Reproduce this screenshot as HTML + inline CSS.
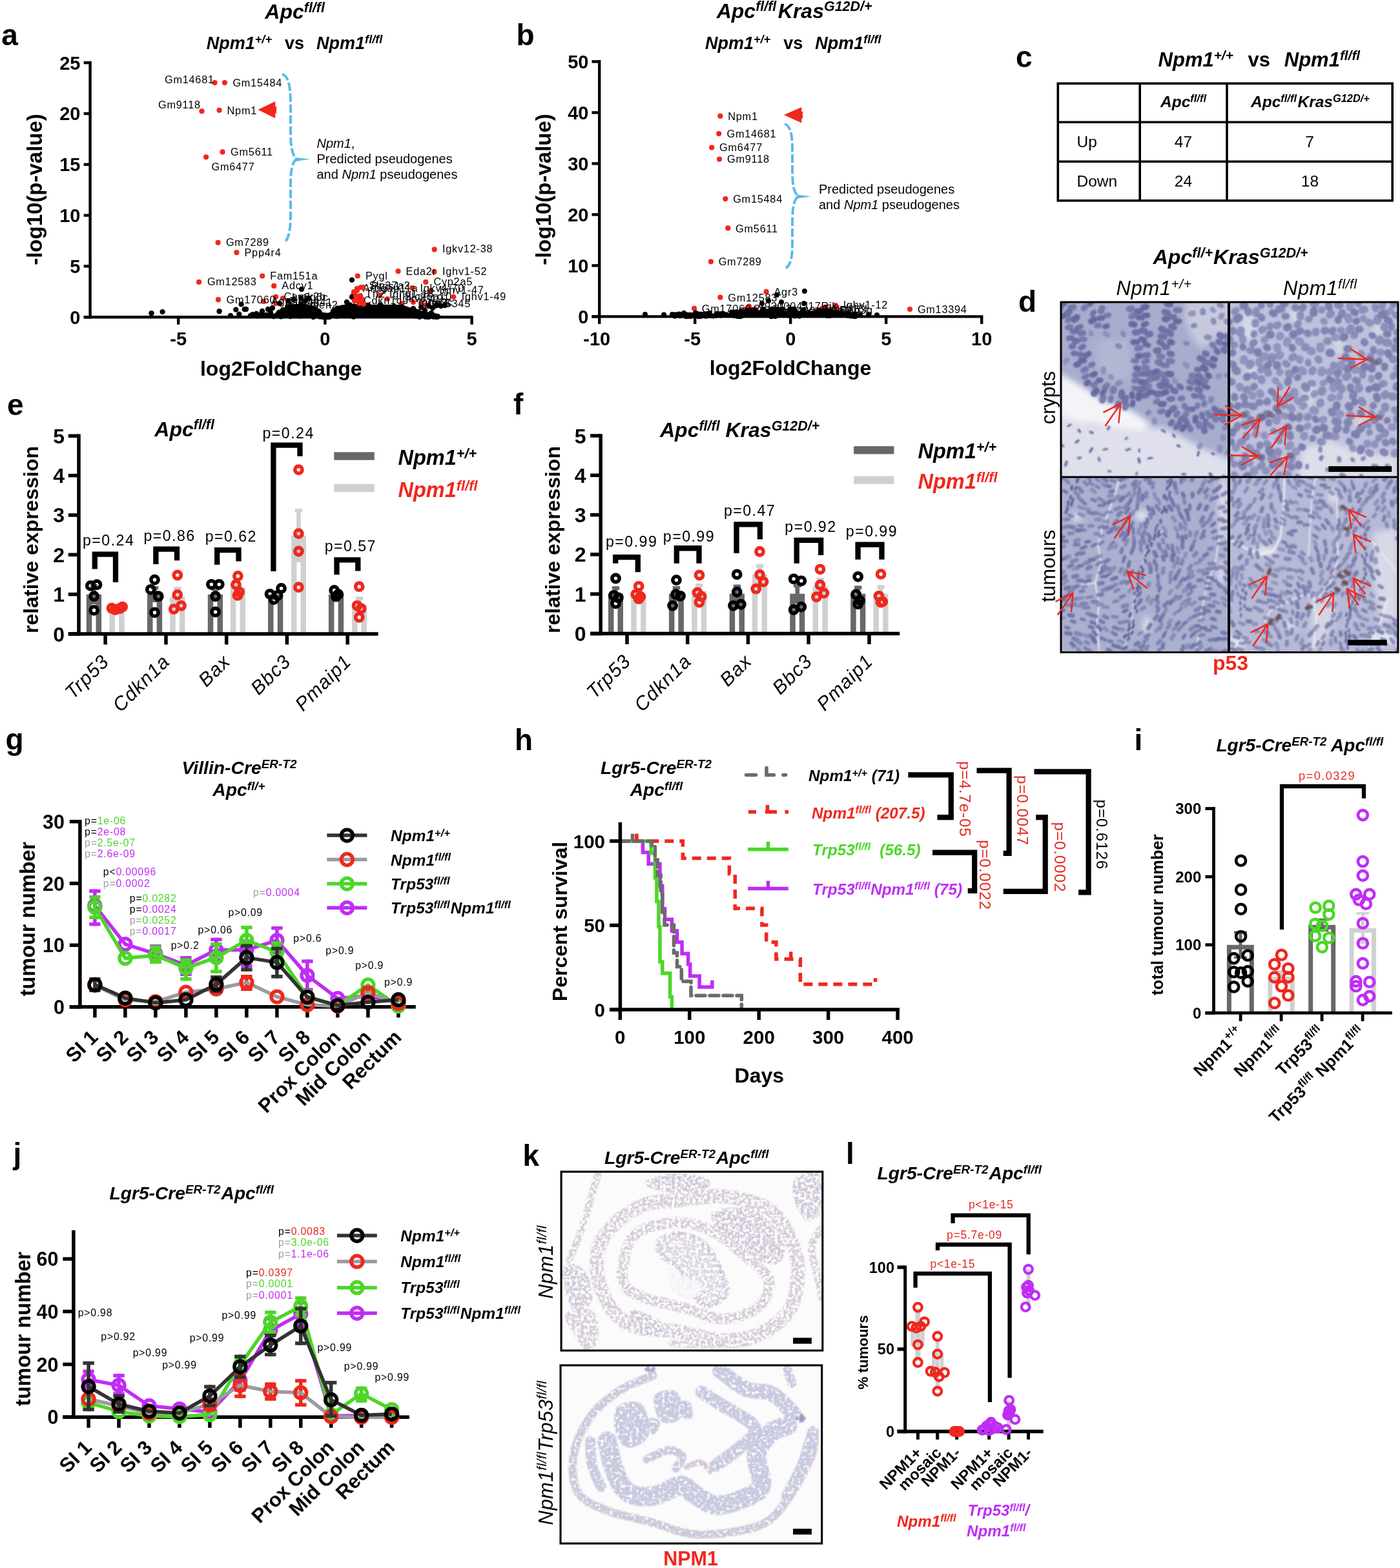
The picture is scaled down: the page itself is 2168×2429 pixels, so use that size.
<!DOCTYPE html>
<html lang="en"><head><meta charset="utf-8"><title>Figure</title>
<style>
html,body{margin:0;padding:0;background:#fff;}
body{width:2168px;height:2429px;overflow:hidden;}
svg{display:block;font-family:'Liberation Sans', sans-serif;}
</style></head><body>
<svg width="2168" height="2429" viewBox="0 0 2168 2429">
<rect width="2168" height="2429" fill="#fff"/>
<text x="2.3" y="70.3" font-size="46" font-weight="bold">a</text>
<text x="410.3" y="29" font-size="32" font-weight="bold" font-style="italic">Apc<tspan font-size="21.44" dy="-10.24">fl/fl</tspan></text>
<text x="319.8" y="75.6" font-size="27" font-weight="bold" font-style="italic">Npm1<tspan font-size="18.09" dy="-8.64">+/+</tspan><tspan font-style="normal" x="441.1" dy="8.64">vs</tspan><tspan x="490.1">Npm1</tspan><tspan font-size="18.09" dy="-8.64">fl/fl</tspan></text>
<line x1="139.6" y1="94.8" x2="139.6" y2="493.4" stroke="#000" stroke-width="4.4"/>
<line x1="129.7" y1="491.2" x2="732.5" y2="491.2" stroke="#000" stroke-width="4.4"/>
<line x1="129.7" y1="491.2" x2="139.6" y2="491.2" stroke="#000" stroke-width="4.4"/>
<text x="124.5" y="501.6" font-size="29" font-weight="bold" text-anchor="end">0</text>
<line x1="129.7" y1="412.4" x2="139.6" y2="412.4" stroke="#000" stroke-width="4.4"/>
<text x="124.5" y="422.8" font-size="29" font-weight="bold" text-anchor="end">5</text>
<line x1="129.7" y1="333.6" x2="139.6" y2="333.6" stroke="#000" stroke-width="4.4"/>
<text x="124.5" y="344" font-size="29" font-weight="bold" text-anchor="end">10</text>
<line x1="129.7" y1="254.8" x2="139.6" y2="254.8" stroke="#000" stroke-width="4.4"/>
<text x="124.5" y="265.2" font-size="29" font-weight="bold" text-anchor="end">15</text>
<line x1="129.7" y1="176" x2="139.6" y2="176" stroke="#000" stroke-width="4.4"/>
<text x="124.5" y="186.4" font-size="29" font-weight="bold" text-anchor="end">20</text>
<line x1="129.7" y1="97.2" x2="139.6" y2="97.2" stroke="#000" stroke-width="4.4"/>
<text x="124.5" y="107.6" font-size="29" font-weight="bold" text-anchor="end">25</text>
<line x1="276.2" y1="491.2" x2="276.2" y2="502.7" stroke="#000" stroke-width="4.4"/>
<text x="276.2" y="535.4" font-size="29" font-weight="bold" text-anchor="middle">-5</text>
<line x1="503.4" y1="491.2" x2="503.4" y2="502.7" stroke="#000" stroke-width="4.4"/>
<text x="503.4" y="535.4" font-size="29" font-weight="bold" text-anchor="middle">0</text>
<line x1="730.6" y1="491.2" x2="730.6" y2="502.7" stroke="#000" stroke-width="4.4"/>
<text x="730.6" y="535.4" font-size="29" font-weight="bold" text-anchor="middle">5</text>
<text x="435.3" y="581.8" font-size="32" font-weight="bold" text-anchor="middle">log2FoldChange</text>
<text x="65" y="293.5" font-size="33" font-weight="bold" text-anchor="middle" transform="rotate(-90 65 293.5)">-log10(p-value)</text>
<g fill="#f0271d">
<circle cx="332.5" cy="128.1" r="4.1" fill="#f0271d"/>
<circle cx="347.9" cy="128.1" r="4.1" fill="#f0271d"/>
<circle cx="312.5" cy="172.3" r="4.1" fill="#f0271d"/>
<circle cx="339.6" cy="170.8" r="4.1" fill="#f0271d"/>
<circle cx="344.6" cy="235.4" r="4.1" fill="#f0271d"/>
<circle cx="319.1" cy="243.3" r="4.1" fill="#f0271d"/>
<circle cx="337.6" cy="375.8" r="4.1" fill="#f0271d"/>
<circle cx="366.4" cy="391.2" r="4.1" fill="#f0271d"/>
<circle cx="308.1" cy="436.9" r="4.1" fill="#f0271d"/>
<circle cx="338" cy="464.2" r="4.1" fill="#f0271d"/>
<circle cx="406.2" cy="427.5" r="4.1" fill="#f0271d"/>
<circle cx="424.2" cy="442.9" r="4.1" fill="#f0271d"/>
<circle cx="427" cy="459.8" r="4.1" fill="#f0271d"/>
<circle cx="553.8" cy="427.5" r="4.1" fill="#f0271d"/>
<circle cx="616.5" cy="420.2" r="4.1" fill="#f0271d"/>
<circle cx="672.7" cy="386.4" r="4.1" fill="#f0271d"/>
<circle cx="672.5" cy="421.1" r="4.1" fill="#f0271d"/>
<circle cx="659.3" cy="436.9" r="4.1" fill="#f0271d"/>
<circle cx="667" cy="450.1" r="4.1" fill="#f0271d"/>
<circle cx="702.2" cy="459.8" r="4.1" fill="#f0271d"/>
<circle cx="638" cy="446" r="4.1" fill="#f0271d"/>
<circle cx="559" cy="445" r="4.1" fill="#f0271d"/>
<circle cx="553" cy="450" r="4.1" fill="#f0271d"/>
<circle cx="562" cy="445" r="4.1" fill="#f0271d"/>
<circle cx="588" cy="457" r="4.1" fill="#f0271d"/>
<circle cx="547" cy="457" r="4.1" fill="#f0271d"/>
<circle cx="408" cy="467" r="4.1" fill="#f0271d"/>
<circle cx="438" cy="462" r="4.1" fill="#f0271d"/>
<circle cx="446" cy="472" r="4.1" fill="#f0271d"/>
<circle cx="427" cy="470" r="4.1" fill="#f0271d"/>
<circle cx="470" cy="470" r="4.1" fill="#f0271d"/>
<circle cx="600" cy="463" r="4.1" fill="#f0271d"/>
<circle cx="622" cy="470" r="4.1" fill="#f0271d"/>
<circle cx="560" cy="465" r="4.1" fill="#f0271d"/>
<circle cx="652" cy="470" r="4.1" fill="#f0271d"/>
<circle cx="640" cy="468" r="4.1" fill="#f0271d"/>
<circle cx="660" cy="472" r="4.1" fill="#f0271d"/>
</g>
<g font-size="16.3" letter-spacing="0.75">
<text x="255" y="128.6">Gm14681</text>
<text x="360.4" y="133.6">Gm15484</text>
<text x="245" y="168.1">Gm9118</text>
<text x="351.6" y="176.5">Npm1</text>
<text x="357.1" y="240.7">Gm5611</text>
<text x="327.5" y="264.4">Gm6477</text>
<text x="349.9" y="381.3">Gm7289</text>
<text x="378.5" y="396.7">Ppp4r4</text>
<text x="320.9" y="442.4">Gm12583</text>
<text x="350.5" y="469.7">Gm17060</text>
<text x="418.2" y="432.5">Fam151a</text>
<text x="436.3" y="447.7">Adcy1</text>
<text x="439.6" y="465.3">Camk2b</text>
<text x="566" y="432.5">Pygl</text>
<text x="628.6" y="425.7">Eda2r</text>
<text x="685" y="391.4">Igkv12-38</text>
<text x="685" y="426.4">Ighv1-52</text>
<text x="671.4" y="441.8">Cyp2a5</text>
<text x="680.2" y="454.5">Ighv1-47</text>
<text x="714.7" y="464.8">Ighv1-49</text>
<text x="650.5" y="451.6">Igkv4-70</text>
<text x="571.5" y="447.5">Slc37a2</text>
<text x="562" y="452">Arhgap11a</text>
<text x="575" y="449">Ptgs1</text>
<text x="603" y="461">Ighv1-18</text>
<text x="566" y="461">Tff2</text>
<text x="420" y="472">Agr2</text>
<text x="452" y="466">Ly6g6c</text>
<text x="448" y="474">Gm4841</text>
<text x="446" y="476">Elovl3</text>
<text x="470" y="478">Lmen2</text>
<text x="618" y="468">Igkv8-19</text>
<text x="626" y="465">Slc26a10</text>
<text x="563" y="471">Cdkn1c</text>
<text x="664" y="475">Igs5</text>
<text x="648" y="474">Ighg2c</text>
<text x="662" y="476">Gm5345</text>
</g>
<g fill="#000">
<path d="M405 491.2 L415 487 L430 485 L441 476 L452 471 L474 471 L486 475 L496 483 L503 488 L510 484 L522 477 L534 471.5 L622 472 L637 477 L650 483 L663 487 L676 491.2Z" fill="#000"/>
<circle cx="438.08" cy="479.88" r="4.2" fill="#000"/>
<circle cx="485.28" cy="485.01" r="4.2" fill="#000"/>
<circle cx="465.16" cy="480.36" r="4.2" fill="#000"/>
<circle cx="476.87" cy="476.62" r="4.2" fill="#000"/>
<circle cx="435.04" cy="490.34" r="4.2" fill="#000"/>
<circle cx="490.68" cy="484.47" r="4.2" fill="#000"/>
<circle cx="485.17" cy="490.98" r="4.2" fill="#000"/>
<circle cx="461.4" cy="476.51" r="4.2" fill="#000"/>
<circle cx="445.16" cy="475.8" r="4.2" fill="#000"/>
<circle cx="495.61" cy="490.46" r="4.2" fill="#000"/>
<circle cx="429.91" cy="487" r="4.2" fill="#000"/>
<circle cx="498.44" cy="487.96" r="4.2" fill="#000"/>
<circle cx="444.24" cy="481.67" r="4.2" fill="#000"/>
<circle cx="430.18" cy="488.88" r="4.2" fill="#000"/>
<circle cx="460.84" cy="479.95" r="4.2" fill="#000"/>
<circle cx="445.48" cy="485.44" r="4.2" fill="#000"/>
<circle cx="444.41" cy="481.02" r="4.2" fill="#000"/>
<circle cx="449.73" cy="490.06" r="4.2" fill="#000"/>
<circle cx="490.82" cy="483.24" r="4.2" fill="#000"/>
<circle cx="476.17" cy="485.86" r="4.2" fill="#000"/>
<circle cx="502.44" cy="488.13" r="4.2" fill="#000"/>
<circle cx="437.07" cy="485.68" r="4.2" fill="#000"/>
<circle cx="482.11" cy="476.67" r="4.2" fill="#000"/>
<circle cx="498.23" cy="487.63" r="4.2" fill="#000"/>
<circle cx="490.25" cy="481.81" r="4.2" fill="#000"/>
<circle cx="450.75" cy="479.58" r="4.2" fill="#000"/>
<circle cx="494.19" cy="482.73" r="4.2" fill="#000"/>
<circle cx="465.9" cy="478.18" r="4.2" fill="#000"/>
<circle cx="430.59" cy="488.61" r="4.2" fill="#000"/>
<circle cx="487.81" cy="483.52" r="4.2" fill="#000"/>
<circle cx="440.98" cy="481.4" r="4.2" fill="#000"/>
<circle cx="480.73" cy="476.43" r="4.2" fill="#000"/>
<circle cx="456.1" cy="481.27" r="4.2" fill="#000"/>
<circle cx="466.13" cy="475.4" r="4.2" fill="#000"/>
<circle cx="467.07" cy="481.48" r="4.2" fill="#000"/>
<circle cx="464.73" cy="489.59" r="4.2" fill="#000"/>
<circle cx="431.26" cy="485.34" r="4.2" fill="#000"/>
<circle cx="501.74" cy="488.47" r="4.2" fill="#000"/>
<circle cx="457.52" cy="486.02" r="4.2" fill="#000"/>
<circle cx="465.67" cy="472.54" r="4.2" fill="#000"/>
<circle cx="485.79" cy="480.99" r="4.2" fill="#000"/>
<circle cx="492.52" cy="487.33" r="4.2" fill="#000"/>
<circle cx="466.53" cy="473.06" r="4.2" fill="#000"/>
<circle cx="471.33" cy="480.73" r="4.2" fill="#000"/>
<circle cx="448.2" cy="480.38" r="4.2" fill="#000"/>
<circle cx="499.78" cy="491.06" r="4.2" fill="#000"/>
<circle cx="486.77" cy="478.15" r="4.2" fill="#000"/>
<circle cx="494.46" cy="483.66" r="4.2" fill="#000"/>
<circle cx="488.69" cy="482.62" r="4.2" fill="#000"/>
<circle cx="470.1" cy="481.16" r="4.2" fill="#000"/>
<circle cx="432.21" cy="483.74" r="4.2" fill="#000"/>
<circle cx="470.75" cy="485.32" r="4.2" fill="#000"/>
<circle cx="465.85" cy="479.83" r="4.2" fill="#000"/>
<circle cx="454.76" cy="482.89" r="4.2" fill="#000"/>
<circle cx="468.39" cy="477.91" r="4.2" fill="#000"/>
<circle cx="473.93" cy="480.97" r="4.2" fill="#000"/>
<circle cx="430.1" cy="488.84" r="4.2" fill="#000"/>
<circle cx="441.29" cy="480.79" r="4.2" fill="#000"/>
<circle cx="492.58" cy="482.06" r="4.2" fill="#000"/>
<circle cx="487.78" cy="478.84" r="4.2" fill="#000"/>
<circle cx="548.19" cy="474.36" r="4.2" fill="#000"/>
<circle cx="622.14" cy="488.01" r="4.2" fill="#000"/>
<circle cx="505.95" cy="491.04" r="4.2" fill="#000"/>
<circle cx="636.74" cy="486.5" r="4.2" fill="#000"/>
<circle cx="522.38" cy="480.96" r="4.2" fill="#000"/>
<circle cx="563.96" cy="488.26" r="4.2" fill="#000"/>
<circle cx="531.25" cy="479.06" r="4.2" fill="#000"/>
<circle cx="532.76" cy="483.54" r="4.2" fill="#000"/>
<circle cx="628.95" cy="482.28" r="4.2" fill="#000"/>
<circle cx="559.99" cy="479.94" r="4.2" fill="#000"/>
<circle cx="507.18" cy="488.76" r="4.2" fill="#000"/>
<circle cx="577.5" cy="485.3" r="4.2" fill="#000"/>
<circle cx="522.25" cy="478.05" r="4.2" fill="#000"/>
<circle cx="593.29" cy="484.85" r="4.2" fill="#000"/>
<circle cx="610.2" cy="474.71" r="4.2" fill="#000"/>
<circle cx="506.68" cy="490.94" r="4.2" fill="#000"/>
<circle cx="528.92" cy="476.65" r="4.2" fill="#000"/>
<circle cx="531.36" cy="476.33" r="4.2" fill="#000"/>
<circle cx="623.04" cy="479.56" r="4.2" fill="#000"/>
<circle cx="542.05" cy="472.53" r="4.2" fill="#000"/>
<circle cx="644.21" cy="485.22" r="4.2" fill="#000"/>
<circle cx="542.51" cy="477.17" r="4.2" fill="#000"/>
<circle cx="572.9" cy="478.29" r="4.2" fill="#000"/>
<circle cx="559.86" cy="477.44" r="4.2" fill="#000"/>
<circle cx="513.4" cy="487.5" r="4.2" fill="#000"/>
<circle cx="674.32" cy="489.51" r="4.2" fill="#000"/>
<circle cx="557.23" cy="474.12" r="4.2" fill="#000"/>
<circle cx="557.93" cy="473.02" r="4.2" fill="#000"/>
<circle cx="634.66" cy="484.03" r="4.2" fill="#000"/>
<circle cx="547.67" cy="490.53" r="4.2" fill="#000"/>
<circle cx="658.53" cy="490.64" r="4.2" fill="#000"/>
<circle cx="648.04" cy="483.42" r="4.2" fill="#000"/>
<circle cx="603.94" cy="485.67" r="4.2" fill="#000"/>
<circle cx="656.6" cy="485.32" r="4.2" fill="#000"/>
<circle cx="627.61" cy="481.22" r="4.2" fill="#000"/>
<circle cx="569.9" cy="482.14" r="4.2" fill="#000"/>
<circle cx="539.42" cy="476.78" r="4.2" fill="#000"/>
<circle cx="579.63" cy="485.17" r="4.2" fill="#000"/>
<circle cx="521.48" cy="480.91" r="4.2" fill="#000"/>
<circle cx="555.4" cy="479.51" r="4.2" fill="#000"/>
<circle cx="560.59" cy="473.94" r="4.2" fill="#000"/>
<circle cx="662.24" cy="490.92" r="4.2" fill="#000"/>
<circle cx="538.55" cy="482.5" r="4.2" fill="#000"/>
<circle cx="677.71" cy="490.3" r="4.2" fill="#000"/>
<circle cx="563.02" cy="484.76" r="4.2" fill="#000"/>
<circle cx="622.38" cy="475.24" r="4.2" fill="#000"/>
<circle cx="668" cy="489.62" r="4.2" fill="#000"/>
<circle cx="659.18" cy="487.05" r="4.2" fill="#000"/>
<circle cx="588.76" cy="472.39" r="4.2" fill="#000"/>
<circle cx="544.53" cy="476.02" r="4.2" fill="#000"/>
<circle cx="517.99" cy="487.88" r="4.2" fill="#000"/>
<circle cx="664.24" cy="489.77" r="4.2" fill="#000"/>
<circle cx="637.36" cy="482.68" r="4.2" fill="#000"/>
<circle cx="651.88" cy="487.68" r="4.2" fill="#000"/>
<circle cx="563.23" cy="483.19" r="4.2" fill="#000"/>
<circle cx="656.53" cy="486.98" r="4.2" fill="#000"/>
<circle cx="671.91" cy="488.97" r="4.2" fill="#000"/>
<circle cx="526.96" cy="479.93" r="4.2" fill="#000"/>
<circle cx="521.46" cy="489.79" r="4.2" fill="#000"/>
<circle cx="515.96" cy="481.96" r="4.2" fill="#000"/>
<circle cx="642.5" cy="482.29" r="4.2" fill="#000"/>
<circle cx="563.34" cy="477.68" r="4.2" fill="#000"/>
<circle cx="641.4" cy="485.84" r="4.2" fill="#000"/>
<circle cx="604.03" cy="484.54" r="4.2" fill="#000"/>
<circle cx="517.47" cy="486.77" r="4.2" fill="#000"/>
<circle cx="660.67" cy="487.82" r="4.2" fill="#000"/>
<circle cx="666.74" cy="489.1" r="4.2" fill="#000"/>
<circle cx="552.06" cy="475.13" r="4.2" fill="#000"/>
<circle cx="649.51" cy="490.85" r="4.2" fill="#000"/>
<circle cx="621.66" cy="487.76" r="4.2" fill="#000"/>
<circle cx="523.37" cy="477.56" r="4.2" fill="#000"/>
<circle cx="510.08" cy="488.79" r="4.2" fill="#000"/>
<circle cx="677.9" cy="490.64" r="4.2" fill="#000"/>
<circle cx="523.45" cy="486.93" r="4.2" fill="#000"/>
<circle cx="545.73" cy="475.75" r="4.2" fill="#000"/>
<circle cx="521.2" cy="478.55" r="4.2" fill="#000"/>
<circle cx="569.96" cy="472.6" r="4.2" fill="#000"/>
<circle cx="663.93" cy="489.38" r="4.2" fill="#000"/>
<circle cx="547.85" cy="479.88" r="4.2" fill="#000"/>
<circle cx="520.72" cy="481.41" r="4.2" fill="#000"/>
<circle cx="510.01" cy="490.93" r="4.2" fill="#000"/>
<circle cx="676.92" cy="490.67" r="4.2" fill="#000"/>
<circle cx="608.59" cy="480.34" r="4.2" fill="#000"/>
<circle cx="558.45" cy="488.46" r="4.2" fill="#000"/>
<circle cx="664.67" cy="487.18" r="4.2" fill="#000"/>
<circle cx="674.65" cy="490.82" r="4.2" fill="#000"/>
<circle cx="541.09" cy="477.64" r="4.2" fill="#000"/>
<circle cx="676.45" cy="490.31" r="4.2" fill="#000"/>
<circle cx="624.81" cy="478.38" r="4.2" fill="#000"/>
<circle cx="548.86" cy="478.83" r="4.2" fill="#000"/>
<circle cx="557.4" cy="484.07" r="4.2" fill="#000"/>
<circle cx="517.4" cy="486.63" r="4.2" fill="#000"/>
<circle cx="677.06" cy="490.5" r="4.2" fill="#000"/>
<circle cx="618.41" cy="477.25" r="4.2" fill="#000"/>
<circle cx="669.51" cy="489.66" r="4.2" fill="#000"/>
<circle cx="557.3" cy="482.51" r="4.2" fill="#000"/>
<circle cx="559.06" cy="474.28" r="4.2" fill="#000"/>
<circle cx="661.15" cy="489.06" r="4.2" fill="#000"/>
<circle cx="562.18" cy="478.79" r="4.2" fill="#000"/>
<circle cx="605.48" cy="477.97" r="4.2" fill="#000"/>
<circle cx="546.38" cy="489.96" r="4.2" fill="#000"/>
<circle cx="546.15" cy="488.18" r="4.2" fill="#000"/>
<circle cx="600.56" cy="488.22" r="4.2" fill="#000"/>
<circle cx="516.3" cy="483.6" r="4.2" fill="#000"/>
<circle cx="554.48" cy="475.06" r="4.2" fill="#000"/>
<circle cx="590.31" cy="474.07" r="4.2" fill="#000"/>
<circle cx="530.29" cy="479.48" r="4.2" fill="#000"/>
<circle cx="643.71" cy="489.59" r="4.2" fill="#000"/>
<circle cx="671.01" cy="490.43" r="4.2" fill="#000"/>
<circle cx="640.39" cy="480.33" r="4.2" fill="#000"/>
<circle cx="648.41" cy="487.64" r="4.2" fill="#000"/>
<circle cx="521.92" cy="482.44" r="4.2" fill="#000"/>
<circle cx="665.73" cy="489.56" r="4.2" fill="#000"/>
<circle cx="661.2" cy="489.95" r="4.2" fill="#000"/>
<circle cx="664.16" cy="490.82" r="4.2" fill="#000"/>
<circle cx="558.94" cy="473.51" r="4.2" fill="#000"/>
<circle cx="645.28" cy="482.73" r="4.2" fill="#000"/>
<circle cx="651.81" cy="485.41" r="4.2" fill="#000"/>
<circle cx="625.06" cy="486.11" r="4.2" fill="#000"/>
<circle cx="579.58" cy="485.98" r="4.2" fill="#000"/>
<circle cx="234.5" cy="485.3" r="4.2" fill="#000"/>
<circle cx="251.6" cy="483.1" r="4.2" fill="#000"/>
<circle cx="339.6" cy="482.2" r="4.2" fill="#000"/>
<circle cx="357" cy="489" r="4.2" fill="#000"/>
<circle cx="365.3" cy="479.6" r="4.2" fill="#000"/>
<circle cx="373.6" cy="471.4" r="4.2" fill="#000"/>
<circle cx="378.7" cy="479.1" r="4.2" fill="#000"/>
<circle cx="370.3" cy="486.8" r="4.2" fill="#000"/>
<circle cx="391.2" cy="487.3" r="4.2" fill="#000"/>
<circle cx="381" cy="479" r="4.2" fill="#000"/>
<circle cx="388" cy="489" r="4.2" fill="#000"/>
<circle cx="397" cy="486" r="4.2" fill="#000"/>
<circle cx="399" cy="489.5" r="4.2" fill="#000"/>
<circle cx="405" cy="486" r="4.2" fill="#000"/>
<circle cx="406" cy="482" r="4.2" fill="#000"/>
<circle cx="412" cy="488" r="4.2" fill="#000"/>
<circle cx="415" cy="479" r="4.2" fill="#000"/>
<circle cx="419" cy="484" r="4.2" fill="#000"/>
<circle cx="422" cy="477" r="4.2" fill="#000"/>
<circle cx="433" cy="470" r="4.2" fill="#000"/>
<circle cx="424" cy="490" r="4.2" fill="#000"/>
<circle cx="467" cy="448" r="4.2" fill="#000"/>
<circle cx="478" cy="462" r="4.2" fill="#000"/>
<circle cx="545" cy="433.6" r="4.2" fill="#000"/>
<circle cx="545" cy="460" r="4.2" fill="#000"/>
<circle cx="537" cy="468" r="4.2" fill="#000"/>
<circle cx="446" cy="466" r="4.2" fill="#000"/>
<circle cx="455" cy="464" r="4.2" fill="#000"/>
<circle cx="466" cy="462" r="4.2" fill="#000"/>
<circle cx="473" cy="466" r="4.2" fill="#000"/>
<circle cx="640" cy="478" r="4.2" fill="#000"/>
<circle cx="646" cy="484" r="4.2" fill="#000"/>
<circle cx="652" cy="476" r="4.2" fill="#000"/>
<circle cx="658" cy="481" r="4.2" fill="#000"/>
<circle cx="664" cy="474" r="4.2" fill="#000"/>
<circle cx="670" cy="477" r="4.2" fill="#000"/>
<circle cx="676" cy="472" r="4.2" fill="#000"/>
<circle cx="683" cy="474" r="4.2" fill="#000"/>
<circle cx="689" cy="473" r="4.2" fill="#000"/>
<circle cx="655" cy="486" r="4.2" fill="#000"/>
<circle cx="668" cy="485" r="4.2" fill="#000"/>
</g>
<circle cx="548" cy="452" r="4.1" fill="#f0271d"/>
<circle cx="551" cy="458" r="4.1" fill="#f0271d"/>
<circle cx="554" cy="464" r="4.1" fill="#f0271d"/>
<circle cx="557" cy="468" r="4.1" fill="#f0271d"/>
<circle cx="549" cy="466" r="4.1" fill="#f0271d"/>
<circle cx="558" cy="458" r="4.1" fill="#f0271d"/>
<circle cx="560" cy="463" r="4.1" fill="#f0271d"/>
<circle cx="553" cy="447" r="4.1" fill="#f0271d"/>
<circle cx="562" cy="446" r="4.1" fill="#f0271d"/>
<circle cx="556" cy="470" r="4.1" fill="#f0271d"/>
<circle cx="563" cy="471" r="4.1" fill="#f0271d"/>
<path d="M399.5 170 L426.3 157 L426.3 165 L428 165 L428 175.5 L426.3 175.5 L426.3 183.2Z" fill="#f0271d"/>
<path d="M437 115 C447 118 450 135 450 160 L450 205 C450 225 452 240 459 246.3 C452 252 450 265 450 285 L450 335 C450 355 447 370 440.5 376" fill="none" stroke="#5bb9e8" stroke-width="3.9" stroke-dasharray="13 4"/>
<path d="M457 244 L480 246.6 L458 250Z" fill="#5bb9e8"/>
<text x="490.5" y="229" font-size="20"><tspan font-style="italic">Npm1</tspan>,</text>
<text x="490.5" y="253.2" font-size="20">Predicted pseudogenes</text>
<text x="490.5" y="277.4" font-size="20">and <tspan font-style="italic">Npm1</tspan> pseudogenes</text>
<text x="799.5" y="70.3" font-size="46" font-weight="bold">b</text>
<text x="1109.7" y="27.6" font-size="32" font-weight="bold" font-style="italic">Apc<tspan font-size="21.44" dy="-10.24">fl/fl</tspan><tspan dx="2.5" dy="10.24">Kras</tspan><tspan font-size="21.44" dy="-10.24">G12D/+</tspan></text>
<text x="1092" y="75.6" font-size="27" font-weight="bold" font-style="italic">Npm1<tspan font-size="18.09" dy="-8.64">+/+</tspan><tspan font-style="normal" x="1213.3" dy="8.64">vs</tspan><tspan x="1262.3">Npm1</tspan><tspan font-size="18.09" dy="-8.64">fl/fl</tspan></text>
<line x1="928.2" y1="93" x2="928.2" y2="492.6" stroke="#000" stroke-width="4.4"/>
<line x1="916.5" y1="490.4" x2="1522.3" y2="490.4" stroke="#000" stroke-width="4.4"/>
<line x1="916.5" y1="490.4" x2="928.2" y2="490.4" stroke="#000" stroke-width="4.4"/>
<text x="911.5" y="500.8" font-size="29" font-weight="bold" text-anchor="end">0</text>
<line x1="916.5" y1="411.4" x2="928.2" y2="411.4" stroke="#000" stroke-width="4.4"/>
<text x="911.5" y="421.8" font-size="29" font-weight="bold" text-anchor="end">10</text>
<line x1="916.5" y1="332.4" x2="928.2" y2="332.4" stroke="#000" stroke-width="4.4"/>
<text x="911.5" y="342.8" font-size="29" font-weight="bold" text-anchor="end">20</text>
<line x1="916.5" y1="253.4" x2="928.2" y2="253.4" stroke="#000" stroke-width="4.4"/>
<text x="911.5" y="263.8" font-size="29" font-weight="bold" text-anchor="end">30</text>
<line x1="916.5" y1="174.4" x2="928.2" y2="174.4" stroke="#000" stroke-width="4.4"/>
<text x="911.5" y="184.8" font-size="29" font-weight="bold" text-anchor="end">40</text>
<line x1="916.5" y1="95.4" x2="928.2" y2="95.4" stroke="#000" stroke-width="4.4"/>
<text x="911.5" y="105.8" font-size="29" font-weight="bold" text-anchor="end">50</text>
<line x1="928.2" y1="490.4" x2="928.2" y2="501.9" stroke="#000" stroke-width="4.4"/>
<text x="924.2" y="534.8" font-size="29" font-weight="bold" text-anchor="middle">-10</text>
<line x1="1076.2" y1="490.4" x2="1076.2" y2="501.9" stroke="#000" stroke-width="4.4"/>
<text x="1072.2" y="534.8" font-size="29" font-weight="bold" text-anchor="middle">-5</text>
<line x1="1224.2" y1="490.4" x2="1224.2" y2="501.9" stroke="#000" stroke-width="4.4"/>
<text x="1224.2" y="534.8" font-size="29" font-weight="bold" text-anchor="middle">0</text>
<line x1="1372.2" y1="490.4" x2="1372.2" y2="501.9" stroke="#000" stroke-width="4.4"/>
<text x="1372.2" y="534.8" font-size="29" font-weight="bold" text-anchor="middle">5</text>
<line x1="1520.2" y1="490.4" x2="1520.2" y2="501.9" stroke="#000" stroke-width="4.4"/>
<text x="1520.2" y="534.8" font-size="29" font-weight="bold" text-anchor="middle">10</text>
<text x="1224" y="581.3" font-size="32" font-weight="bold" text-anchor="middle">log2FoldChange</text>
<text x="853" y="293.5" font-size="33" font-weight="bold" text-anchor="middle" transform="rotate(-90 853 293.5)">-log10(p-value)</text>
<circle cx="1115.4" cy="179.8" r="4.1" fill="#f0271d"/>
<circle cx="1113.2" cy="207" r="4.1" fill="#f0271d"/>
<circle cx="1102.2" cy="228.6" r="4.1" fill="#f0271d"/>
<circle cx="1114" cy="246.6" r="4.1" fill="#f0271d"/>
<circle cx="1123.3" cy="308.1" r="4.1" fill="#f0271d"/>
<circle cx="1127.3" cy="353.4" r="4.1" fill="#f0271d"/>
<circle cx="1100.9" cy="405.3" r="4.1" fill="#f0271d"/>
<circle cx="1186.6" cy="451.9" r="4.1" fill="#f0271d"/>
<circle cx="1115.4" cy="460.7" r="4.1" fill="#f0271d"/>
<circle cx="1075" cy="477.8" r="4.1" fill="#f0271d"/>
<circle cx="1409" cy="479.1" r="4.1" fill="#f0271d"/>
<circle cx="1160" cy="474.5" r="4.1" fill="#f0271d"/>
<circle cx="1294" cy="473" r="4.1" fill="#f0271d"/>
<circle cx="1154" cy="479" r="4.1" fill="#f0271d"/>
<circle cx="1166" cy="480" r="4.1" fill="#f0271d"/>
<circle cx="1265" cy="480" r="4.1" fill="#f0271d"/>
<circle cx="1277" cy="476" r="4.1" fill="#f0271d"/>
<circle cx="1273" cy="478" r="4.1" fill="#f0271d"/>
<circle cx="1170" cy="479" r="4.1" fill="#f0271d"/>
<circle cx="1285" cy="479" r="4.1" fill="#f0271d"/>
<circle cx="1300" cy="480" r="4.1" fill="#f0271d"/>
<g font-size="16.3" letter-spacing="0.75">
<text x="1127.3" y="185.5">Npm1</text>
<text x="1125.5" y="213.2">Gm14681</text>
<text x="1114" y="234.3">Gm6477</text>
<text x="1126" y="252.3">Gm9118</text>
<text x="1135.2" y="313.9">Gm15484</text>
<text x="1139.1" y="359.6">Gm5611</text>
<text x="1112.7" y="411.4">Gm7289</text>
<text x="1198.5" y="458">Agr3</text>
<text x="1127.3" y="466.9">Gm12583</text>
<text x="1086.8" y="483.5">Gm17060</text>
<text x="1420.9" y="485.3">Gm13394</text>
<text x="1172.5" y="480">A930004J17Rik</text>
<text x="1305.7" y="478.3">Ighv1-12</text>
<text x="1166" y="484.4">Cox6b2</text>
<text x="1196" y="486.9">Gm8420</text>
<text x="1276" y="483.9">Tmsb15l</text>
<text x="1290" y="484.9">Krt36</text>
<text x="1300" y="485.9">Reg3g</text>
</g>
<g fill="#000">
<path d="M1050 490.4 L1080 487.5 L1120 485.5 L1160 483 L1190 481 L1215 482 L1224 484 L1235 482 L1260 483.5 L1290 486 L1320 488 L1335 490.4Z" fill="#000"/>
<circle cx="1137.29" cy="489.09" r="4" fill="#000"/>
<circle cx="1230.52" cy="489.53" r="4" fill="#000"/>
<circle cx="1197.73" cy="486.01" r="4" fill="#000"/>
<circle cx="1061.53" cy="488.37" r="4" fill="#000"/>
<circle cx="1055.69" cy="488.67" r="4" fill="#000"/>
<circle cx="1064.91" cy="490.04" r="4" fill="#000"/>
<circle cx="1165.99" cy="481.28" r="4" fill="#000"/>
<circle cx="1080.28" cy="489.5" r="4" fill="#000"/>
<circle cx="1223.82" cy="479.03" r="4" fill="#000"/>
<circle cx="1209.47" cy="485.64" r="4" fill="#000"/>
<circle cx="1323.23" cy="490.22" r="4" fill="#000"/>
<circle cx="1289.66" cy="488.03" r="4" fill="#000"/>
<circle cx="1086.11" cy="489.87" r="4" fill="#000"/>
<circle cx="1132.92" cy="483.6" r="4" fill="#000"/>
<circle cx="1096.51" cy="487.29" r="4" fill="#000"/>
<circle cx="1227.09" cy="485.93" r="4" fill="#000"/>
<circle cx="1201.11" cy="489.65" r="4" fill="#000"/>
<circle cx="1061.99" cy="489.58" r="4" fill="#000"/>
<circle cx="1238.91" cy="485.27" r="4" fill="#000"/>
<circle cx="1134.53" cy="485.45" r="4" fill="#000"/>
<circle cx="1174.16" cy="486.89" r="4" fill="#000"/>
<circle cx="1271.4" cy="483.04" r="4" fill="#000"/>
<circle cx="1114.57" cy="486.48" r="4" fill="#000"/>
<circle cx="1194.68" cy="479.9" r="4" fill="#000"/>
<circle cx="1252.89" cy="486.94" r="4" fill="#000"/>
<circle cx="1324.35" cy="489.96" r="4" fill="#000"/>
<circle cx="1164.17" cy="482.16" r="4" fill="#000"/>
<circle cx="1088.32" cy="488.11" r="4" fill="#000"/>
<circle cx="1056.17" cy="487.73" r="4" fill="#000"/>
<circle cx="1262.9" cy="483.74" r="4" fill="#000"/>
<circle cx="1294.51" cy="488.03" r="4" fill="#000"/>
<circle cx="1243.16" cy="483.27" r="4" fill="#000"/>
<circle cx="1210.27" cy="484.93" r="4" fill="#000"/>
<circle cx="1284.39" cy="482.03" r="4" fill="#000"/>
<circle cx="1180.12" cy="482.3" r="4" fill="#000"/>
<circle cx="1062.29" cy="487.59" r="4" fill="#000"/>
<circle cx="1229.43" cy="478.48" r="4" fill="#000"/>
<circle cx="1279.25" cy="487.69" r="4" fill="#000"/>
<circle cx="1154.95" cy="483.62" r="4" fill="#000"/>
<circle cx="1051.43" cy="488.55" r="4" fill="#000"/>
<circle cx="1092.89" cy="489.81" r="4" fill="#000"/>
<circle cx="1061.8" cy="487.33" r="4" fill="#000"/>
<circle cx="1081.86" cy="489.37" r="4" fill="#000"/>
<circle cx="1156.42" cy="481.47" r="4" fill="#000"/>
<circle cx="1067.97" cy="488.6" r="4" fill="#000"/>
<circle cx="1201.59" cy="479.8" r="4" fill="#000"/>
<circle cx="1278.49" cy="482.09" r="4" fill="#000"/>
<circle cx="1124.35" cy="487.23" r="4" fill="#000"/>
<circle cx="1147.25" cy="482" r="4" fill="#000"/>
<circle cx="1317.95" cy="489.71" r="4" fill="#000"/>
<circle cx="1095.22" cy="489.18" r="4" fill="#000"/>
<circle cx="1111.5" cy="487.21" r="4" fill="#000"/>
<circle cx="1212.9" cy="487.25" r="4" fill="#000"/>
<circle cx="1046.17" cy="488.72" r="4" fill="#000"/>
<circle cx="1150.24" cy="484.88" r="4" fill="#000"/>
<circle cx="1316.63" cy="487.14" r="4" fill="#000"/>
<circle cx="1191.92" cy="482.99" r="4" fill="#000"/>
<circle cx="1237.72" cy="489.75" r="4" fill="#000"/>
<circle cx="1301.37" cy="485.19" r="4" fill="#000"/>
<circle cx="1294.24" cy="484.34" r="4" fill="#000"/>
<circle cx="1156.83" cy="486.3" r="4" fill="#000"/>
<circle cx="1074.51" cy="487.86" r="4" fill="#000"/>
<circle cx="1062.74" cy="490.13" r="4" fill="#000"/>
<circle cx="1104.5" cy="489.43" r="4" fill="#000"/>
<circle cx="1141.92" cy="489.92" r="4" fill="#000"/>
<circle cx="1045.07" cy="489.79" r="4" fill="#000"/>
<circle cx="1073.92" cy="488.95" r="4" fill="#000"/>
<circle cx="1052.27" cy="486.9" r="4" fill="#000"/>
<circle cx="1220.01" cy="488.62" r="4" fill="#000"/>
<circle cx="1116.89" cy="487.96" r="4" fill="#000"/>
<circle cx="1148.79" cy="489.22" r="4" fill="#000"/>
<circle cx="1286.95" cy="481.92" r="4" fill="#000"/>
<circle cx="1177.81" cy="484.59" r="4" fill="#000"/>
<circle cx="1069.48" cy="489.99" r="4" fill="#000"/>
<circle cx="1142.65" cy="487.98" r="4" fill="#000"/>
<circle cx="1281.22" cy="488.9" r="4" fill="#000"/>
<circle cx="1051.58" cy="486.6" r="4" fill="#000"/>
<circle cx="1195.55" cy="488.64" r="4" fill="#000"/>
<circle cx="1199.8" cy="490.08" r="4" fill="#000"/>
<circle cx="1195.51" cy="478.66" r="4" fill="#000"/>
<circle cx="1291.05" cy="484.82" r="4" fill="#000"/>
<circle cx="1119.42" cy="487.75" r="4" fill="#000"/>
<circle cx="1092.61" cy="486.52" r="4" fill="#000"/>
<circle cx="1196.79" cy="481.05" r="4" fill="#000"/>
<circle cx="1138.95" cy="488.43" r="4" fill="#000"/>
<circle cx="1276.28" cy="480.64" r="4" fill="#000"/>
<circle cx="1288" cy="483.63" r="4" fill="#000"/>
<circle cx="1278.22" cy="483.26" r="4" fill="#000"/>
<circle cx="1109.62" cy="487.07" r="4" fill="#000"/>
<circle cx="1146.34" cy="490.13" r="4" fill="#000"/>
<circle cx="1052.96" cy="489.28" r="4" fill="#000"/>
<circle cx="1118.86" cy="485.43" r="4" fill="#000"/>
<circle cx="1317.61" cy="488.35" r="4" fill="#000"/>
<circle cx="1312.05" cy="485.16" r="4" fill="#000"/>
<circle cx="1317.18" cy="488.7" r="4" fill="#000"/>
<circle cx="1107.83" cy="488.98" r="4" fill="#000"/>
<circle cx="1101.06" cy="489.23" r="4" fill="#000"/>
<circle cx="1222.86" cy="479.6" r="4" fill="#000"/>
<circle cx="1284.52" cy="486.16" r="4" fill="#000"/>
<circle cx="1231.1" cy="480.8" r="4" fill="#000"/>
<circle cx="1069.16" cy="487.76" r="4" fill="#000"/>
<circle cx="1304.29" cy="485.47" r="4" fill="#000"/>
<circle cx="1258.79" cy="484.66" r="4" fill="#000"/>
<circle cx="1095.88" cy="486.22" r="4" fill="#000"/>
<circle cx="1139.77" cy="483.28" r="4" fill="#000"/>
<circle cx="1321.92" cy="488.8" r="4" fill="#000"/>
<circle cx="1159.4" cy="480.46" r="4" fill="#000"/>
<circle cx="1251.57" cy="488.36" r="4" fill="#000"/>
<circle cx="1081.21" cy="489.78" r="4" fill="#000"/>
<circle cx="1302.88" cy="485.17" r="4" fill="#000"/>
<circle cx="1086.66" cy="486.64" r="4" fill="#000"/>
<circle cx="1324.39" cy="487.95" r="4" fill="#000"/>
<circle cx="1144.87" cy="485.29" r="4" fill="#000"/>
<circle cx="1082.33" cy="490.34" r="4" fill="#000"/>
<circle cx="1321.7" cy="487.76" r="4" fill="#000"/>
<circle cx="1195.08" cy="479.2" r="4" fill="#000"/>
<circle cx="1168.64" cy="480.59" r="4" fill="#000"/>
<circle cx="1280.45" cy="488.42" r="4" fill="#000"/>
<circle cx="1116.77" cy="488.35" r="4" fill="#000"/>
<circle cx="1113.55" cy="486.44" r="4" fill="#000"/>
<circle cx="1118.92" cy="487.39" r="4" fill="#000"/>
<circle cx="1082.36" cy="486.58" r="4" fill="#000"/>
<circle cx="1145.83" cy="486.1" r="4" fill="#000"/>
<circle cx="1211.25" cy="479.55" r="4" fill="#000"/>
<circle cx="1164.88" cy="480.36" r="4" fill="#000"/>
<circle cx="1187.97" cy="483.57" r="4" fill="#000"/>
<circle cx="1194.2" cy="490.18" r="4" fill="#000"/>
<circle cx="1170.44" cy="488.31" r="4" fill="#000"/>
<circle cx="1046.12" cy="487.2" r="4" fill="#000"/>
<circle cx="1094.12" cy="487.96" r="4" fill="#000"/>
<circle cx="1251.68" cy="483.72" r="4" fill="#000"/>
<circle cx="1137.9" cy="485.87" r="4" fill="#000"/>
<circle cx="1203.3" cy="480.99" r="4" fill="#000"/>
<circle cx="1075.24" cy="488.16" r="4" fill="#000"/>
<circle cx="1115.82" cy="488.48" r="4" fill="#000"/>
<circle cx="1265.09" cy="484.64" r="4" fill="#000"/>
<circle cx="1205.09" cy="481.28" r="4" fill="#000"/>
<circle cx="1305.06" cy="487.65" r="4" fill="#000"/>
<circle cx="1219.57" cy="484.33" r="4" fill="#000"/>
<circle cx="1190.97" cy="482.09" r="4" fill="#000"/>
<circle cx="1173.92" cy="484.17" r="4" fill="#000"/>
<circle cx="1181.24" cy="478.84" r="4" fill="#000"/>
<circle cx="1244.28" cy="479.88" r="4" fill="#000"/>
<circle cx="1313.52" cy="489.07" r="4" fill="#000"/>
<circle cx="1204.46" cy="479.08" r="4" fill="#000"/>
<circle cx="1284.4" cy="489.18" r="4" fill="#000"/>
<circle cx="1079.66" cy="488.63" r="4" fill="#000"/>
<circle cx="1065.68" cy="489.44" r="4" fill="#000"/>
<circle cx="1065.84" cy="487.72" r="4" fill="#000"/>
<circle cx="1268.42" cy="480.61" r="4" fill="#000"/>
<circle cx="999" cy="487" r="4" fill="#000"/>
<circle cx="1028" cy="487.5" r="4" fill="#000"/>
<circle cx="1041" cy="487" r="4" fill="#000"/>
<circle cx="1059" cy="485" r="4" fill="#000"/>
<circle cx="1069" cy="488" r="4" fill="#000"/>
<circle cx="1077" cy="484.5" r="4" fill="#000"/>
<circle cx="1087" cy="487" r="4" fill="#000"/>
<circle cx="1099" cy="485" r="4" fill="#000"/>
<circle cx="1110" cy="486" r="4" fill="#000"/>
<circle cx="1245.9" cy="451" r="4" fill="#000"/>
<circle cx="1202.9" cy="457.1" r="4" fill="#000"/>
<circle cx="1332" cy="488" r="4" fill="#000"/>
<circle cx="1345" cy="487" r="4" fill="#000"/>
<circle cx="1358" cy="488" r="4" fill="#000"/>
<circle cx="1245" cy="470" r="4" fill="#000"/>
<circle cx="1180" cy="470" r="4" fill="#000"/>
<circle cx="1190" cy="466" r="4" fill="#000"/>
<circle cx="1210" cy="468" r="4" fill="#000"/>
</g>
<path d="M1214 178 L1241.3 166 L1241.3 173 L1243 173 L1243 183.5 L1241.3 183.5 L1241.3 190.5Z" fill="#f0271d"/>
<path d="M1215 192 C1224 195 1227 208 1227 230 L1227 265 C1227 285 1229 298 1236 304 C1229 310 1227 323 1227 343 L1227 380 C1227 400 1224 411 1216 416" fill="none" stroke="#5bb9e8" stroke-width="3.9" stroke-dasharray="13 4"/>
<path d="M1234 301.5 L1256 304.2 L1235 307.5Z" fill="#5bb9e8"/>
<text x="1268" y="299.8" font-size="20">Predicted pseudogenes</text>
<text x="1268" y="324" font-size="20">and <tspan font-style="italic">Npm1</tspan> pseudogenes</text>
<text x="1573" y="104.2" font-size="46" font-weight="bold">c</text>
<text x="1793.6" y="102.8" font-size="31" font-weight="bold" font-style="italic">Npm1<tspan font-size="20.77" dy="-9.92">+/+</tspan><tspan font-style="normal" x="1932.6" dy="9.92">vs</tspan><tspan x="1988.8">Npm1</tspan><tspan font-size="20.77" dy="-9.92">fl/fl</tspan></text>
<rect x="1638.3" y="129.3" width="517.9" height="181.5" fill="none" stroke="#000" stroke-width="3.6"/>
<line x1="1765.2" y1="129.3" x2="1765.2" y2="310.8" stroke="#000" stroke-width="3.6"/>
<line x1="1900" y1="129.3" x2="1900" y2="310.8" stroke="#000" stroke-width="3.6"/>
<line x1="1638.3" y1="189.3" x2="2156.2" y2="189.3" stroke="#000" stroke-width="3.6"/>
<line x1="1638.3" y1="250.3" x2="2156.2" y2="250.3" stroke="#000" stroke-width="3.6"/>
<text x="1832.5" y="166.3" font-size="24.5" font-weight="bold" font-style="italic" text-anchor="middle">Apc<tspan font-size="16.42" dy="-7.84">fl/fl</tspan></text>
<text x="2029" y="166.3" font-size="24.5" font-weight="bold" font-style="italic" text-anchor="middle">Apc<tspan font-size="16.42" dy="-7.84">fl/fl</tspan><tspan dx="1.5" dy="7.84">Kras</tspan><tspan font-size="16.42" dy="-7.84">G12D/+</tspan></text>
<text x="1667.5" y="227.8" font-size="24.5">Up</text>
<text x="1667.5" y="289.3" font-size="24.5">Down</text>
<text x="1832.5" y="227.8" font-size="24.5" text-anchor="middle">47</text>
<text x="1832.5" y="289.3" font-size="24.5" text-anchor="middle">24</text>
<text x="2028" y="227.8" font-size="24.5" text-anchor="middle">7</text>
<text x="2028.5" y="289.3" font-size="24.5" text-anchor="middle">18</text>
<text x="1785.5" y="409" font-size="32.2" font-weight="bold" font-style="italic">Apc<tspan font-size="21.57" dy="-10.3">fl/+</tspan><tspan dx="1" dy="10.3">Kras</tspan><tspan font-size="21.57" dy="-10.3">G12D/+</tspan></text>
<text x="1728.5" y="457.3" font-size="31" font-style="italic" letter-spacing="0.6">Npm1<tspan font-size="20.77" dy="-9.92">+/+</tspan></text>
<text x="1987" y="457.3" font-size="31" font-style="italic" letter-spacing="0.6">Npm1<tspan font-size="20.77" dy="-9.92">fl/fl</tspan></text>
<text x="1577" y="483.2" font-size="46" font-weight="bold">d</text>
<text x="1633.5" y="616" font-size="31" text-anchor="middle" transform="rotate(-90 1633.5 616)">crypts</text>
<text x="1633.5" y="876.5" font-size="31" text-anchor="middle" transform="rotate(-90 1633.5 876.5)">tumours</text>
<text x="1905.5" y="1037.8" font-size="32" font-weight="bold" text-anchor="middle" fill="#f0271d">p53</text>
<defs><filter id="blr" x="-5%" y="-5%" width="110%" height="110%"><feGaussianBlur stdDeviation="1.05"/></filter><filter id="blr2" x="-20%" y="-20%" width="140%" height="140%"><feGaussianBlur stdDeviation="5"/></filter><clipPath id="cTL"><rect x="1643" y="468" width="260" height="271"/></clipPath><clipPath id="cTR"><rect x="1903" y="468" width="262" height="271"/></clipPath><clipPath id="cBL"><rect x="1643" y="739" width="260" height="271.5"/></clipPath><clipPath id="cBR"><rect x="1903" y="739" width="262" height="271.5"/></clipPath></defs>
<g clip-path="url(#cTL)">
<rect x="1643" y="468" width="260" height="271" fill="#a8accd"/>
<g filter="url(#blr2)">
<polygon points="1638.85,641.54 1691.15,658.46 1768.08,664.62 1798.85,661.54 1829.62,675.38 1860.38,693.85 1906.54,712.31 1906.54,752.31 1638.85,752.31" fill="#dfe0ec"/>
<polygon points="1638.85,576.92 1675.77,598.46 1706.54,621.54 1737.31,629.23 1760.38,641.54 1783.46,658.46 1768.08,666.15 1721.92,661.54 1675.77,653.85 1638.85,643.08" fill="#f4f4f8"/>
<polygon points="1837.31,466.15 1906.54,466.15 1906.54,510.77 1883.46,524.62 1860.38,540 1845,521.54 1834.23,490.77" fill="#c7c9dd"/>
<polygon points="1698.85,529.23 1745,524.62 1752.69,583.08 1721.92,590.77 1698.85,560" fill="#b4b7d4"/>
</g><g filter="url(#blr)">
<path d="M1754.5 623.4l-0.9 3.4M1710.2 605.2l-3.2 4.5M1870.1 600.2l-5.5 -1.9M1901.6 534.9l-4.8 -2.4M1879.9 566.7l-3.1 -0.6" stroke="#5e6299" stroke-width="8" stroke-linecap="round" fill="none" opacity="0.88"/>
<path d="M1649.0 469.7l-4.4 2.4M1704.3 589.0l-3.6 0.6M1686.4 547.6l-4.8 3.4M1753.1 609.9l0.0 4.6M1690.8 467.5l-3.1 3.5M1714.5 504.8l-3.1 1.3M1707.3 492.5l-5.0 0.5M1768.5 492.6l-5.8 -0.8M1775.0 501.4l-4.2 1.9M1763.3 570.9l-4.4 -0.6M1777.9 534.8l-4.8 -1.7M1777.2 488.5l-4.4 0.3M1809.9 638.5l-1.4 4.3" stroke="#5e6299" stroke-width="8.5" stroke-linecap="round" fill="none" opacity="0.88"/>
<path d="M1695.6 579.1l-3.7 1.7M1685.1 592.1l-2.4 1.9M1646.7 489.3l-3.2 1.1M1771.9 526.5l-4.5 -1.1M1760.8 530.0l-5.9 0.1M1765.9 482.3l-5.2 -0.1M1784.8 607.7l-4.9 -0.9M1806.5 494.8l-3.1 -0.6M1826.0 497.7l-5.0 0.4M1851.6 646.7l-0.8 5.0M1833.3 661.3l-2.3 3.6M1872.6 583.0l-2.5 -2.3M1881.5 556.7l-3.3 -1.2" stroke="#5e6299" stroke-width="9" stroke-linecap="round" fill="none" opacity="0.88"/>
<path d="M1678.4 558.4l-4.4 -0.0M1669.9 564.0l-3.0 1.1M1694.6 494.9l-4.8 2.8M1765.7 551.3l-3.3 -0.1M1771.9 592.6l-5.8 -1.2M1814.8 530.6l-3.0 -1.3M1802.1 625.7l-4.7 0.4M1806.3 607.3l-4.6 1.4M1792.2 575.4l-3.5 0.9" stroke="#5e6299" stroke-width="9.5" stroke-linecap="round" fill="none" opacity="0.88"/>
<path d="M1756.7 502.8l-4.4 -0.9M1774.9 475.1l-4.3 1.2M1813.6 579.7l-5.0 -0.5M1812.2 471.3l-5.1 -1.0M1866.6 571.8l-3.6 -2.6M1857.6 593.4l-4.7 -2.3" stroke="#5e6299" stroke-width="10" stroke-linecap="round" fill="none" opacity="0.88"/>
<path d="M1764.1 611.3l-1.1 5.1M1697.8 604.7l-3.6 4.8M1667.6 491.5l-4.3 3.5" stroke="#5e6299" stroke-width="10.5" stroke-linecap="round" fill="none" opacity="0.88"/>
<path d="M1731.7 624.4l-2.4 5.5M1677.7 536.3l-3.9 2.8M1673.7 505.9l-5.3 2.1M1660.2 523.3l-5.2 0.8M1693.9 483.9l-2.2 3.3M1867.0 651.8l-1.1 5.3M1856.6 572.7l-3.6 -0.5M1843.9 601.9l-3.0 -0.7" stroke="#666a9f" stroke-width="8" stroke-linecap="round" fill="none" opacity="0.88"/>
<path d="M1675.3 549.2l-3.2 -0.0M1665.3 547.6l-3.0 0.1M1662.1 536.5l-3.3 0.3M1665.6 513.1l-4.8 0.1M1792.2 585.4l-4.5 0.1M1861.3 641.8l0.5 4.4M1815.3 653.2l-2.6 3.1M1815.7 617.7l-5.2 0.5M1812.6 598.9l-5.6 -1.0M1829.1 648.5l-2.1 5.4M1859.5 584.1l-3.6 -2.7M1851.4 613.7l-3.1 -0.9M1847.5 633.7l-4.6 0.7M1825.9 597.7l3.7 2.7" stroke="#666a9f" stroke-width="8.5" stroke-linecap="round" fill="none" opacity="0.88"/>
<path d="M1778.0 549.9l-5.2 0.9M1836.6 651.8l2.1 5.3M1824.9 657.9l-3.8 4.0M1799.3 531.9l-4.1 -1.8M1818.7 491.3l-5.2 0.3M1886.0 545.5l-2.0 -2.6M1868.9 548.5l-3.2 -1.4M1889.9 530.9l-3.2 -1.8" stroke="#666a9f" stroke-width="9" stroke-linecap="round" fill="none" opacity="0.88"/>
<path d="M1668.0 527.9l-3.4 1.0M1772.9 513.0l-5.4 -0.9M1776.3 611.4l-5.4 1.7M1772.0 579.0l-3.1 0.1M1762.0 515.0l-4.6 0.1M1880.4 633.1l4.4 3.9M1814.4 548.5l-3.5 -1.0M1807.4 537.2l-3.7 0.2M1818.4 632.1l-3.4 2.4M1803.0 521.9l-5.8 -1.0M1858.2 604.5l-4.6 -1.5M1896.7 543.6l-2.0 -2.3M1817.3 605.1l3.1 1.2" stroke="#666a9f" stroke-width="9.5" stroke-linecap="round" fill="none" opacity="0.88"/>
<path d="M1737.1 608.0l-0.6 5.7M1782.5 577.9l-3.8 1.2M1781.2 517.4l-3.3 0.8M1771.9 601.4l-5.2 1.6M1891.1 638.1l4.4 4.0M1808.6 485.2l-5.1 -1.9M1793.7 542.7l-3.5 0.5M1864.5 664.7l0.9 3.0M1813.4 517.3l-5.0 -3.3M1805.9 591.0l-3.5 -1.4M1892.3 521.1l-3.7 -2.1M1863.0 557.1l-4.9 -2.0" stroke="#666a9f" stroke-width="10" stroke-linecap="round" fill="none" opacity="0.88"/>
<path d="M1742.9 616.4l-1.1 5.7M1655.8 482.8l-4.0 3.9M1795.6 610.3l-3.9 0.3M1801.7 511.1l-3.2 -1.6M1799.6 598.1l-3.7 -1.2M1817.6 507.1l-3.2 -1.5" stroke="#666a9f" stroke-width="10.5" stroke-linecap="round" fill="none" opacity="0.88"/>
<path d="M1679.9 525.4l-5.1 0.3M1683.5 582.0l-4.7 2.8M1761.9 602.2l-5.7 -0.8M1872.1 657.9l4.6 3.8M1792.6 621.1l-3.0 1.5M1854.7 627.2l-0.3 2.2" stroke="#7074a7" stroke-width="8" stroke-linecap="round" fill="none" opacity="0.88"/>
<path d="M1658.1 506.2l-4.6 1.4M1692.2 564.2l-3.0 1.5M1656.6 493.6l-3.1 2.9M1720.4 616.5l-0.5 3.6M1696.2 594.8l-3.9 1.7M1702.4 504.1l-4.3 0.4M1716.8 488.2l-3.4 0.4M1776.8 559.1l-5.1 1.5M1760.0 559.1l-4.7 -0.4M1759.7 588.7l-3.7 1.4M1800.9 637.0l-4.6 0.8M1823.5 639.9l-2.5 3.3M1807.1 566.2l-5.5 -0.3M1865.5 624.4l-1.3 1.9" stroke="#7074a7" stroke-width="8.5" stroke-linecap="round" fill="none" opacity="0.88"/>
<path d="M1681.8 571.4l-4.4 2.4M1680.8 475.2l-2.6 2.6M1783.2 587.4l-5.1 1.6M1766.1 538.9l-5.1 1.0M1779.6 598.0l-3.5 -0.3M1815.1 559.7l-5.5 -0.8M1837.0 641.4l-3.2 4.2M1800.1 552.9l-5.1 -1.5M1870.4 639.8l2.5 4.7M1879.6 536.0l-2.4 -2.5M1847.3 593.1l-5.6 -2.3M1831.1 617.1l-3.4 0.3M1833.8 628.6l2.8 3.7" stroke="#7074a7" stroke-width="9" stroke-linecap="round" fill="none" opacity="0.88"/>
<path d="M1714.2 597.2l-3.2 3.4M1642.6 477.1l-3.6 3.7M1775.9 570.0l-3.7 -0.7M1752.6 477.7l-4.0 1.2M1842.5 662.3l1.2 2.9M1826.5 480.6l-5.4 -0.2M1856.5 656.5l0.2 3.9M1891.6 648.3l2.7 3.3M1871.8 562.2l-5.9 -0.9M1862.1 615.7l-3.5 -2.5" stroke="#7074a7" stroke-width="9.5" stroke-linecap="round" fill="none" opacity="0.88"/>
<path d="M1662.6 475.7l-4.7 1.0M1724.9 602.4l-1.6 3.8M1708.4 615.6l-1.5 4.6M1744.3 627.5l-2.0 3.8M1677.3 515.9l-4.1 0.2M1706.9 477.4l-2.2 4.6M1763.0 579.4l-5.1 1.3M1757.6 487.4l-5.3 2.7M1802.8 581.1l-5.4 -2.0M1796.9 562.7l-3.8 -1.7M1849.6 582.7l-4.1 -0.6M1866.6 590.5l-3.4 -0.8" stroke="#7074a7" stroke-width="10" stroke-linecap="round" fill="none" opacity="0.88"/>
<path d="M1880.3 643.8l2.1 5.6M1902.9 524.9l-3.3 -3.6" stroke="#7074a7" stroke-width="10.5" stroke-linecap="round" fill="none" opacity="0.88"/>
<path d="M1738.6 515.6l1.6 3.3M1835.4 531.6l3.0 0.5M1899.3 580.8l2.8 2.3" stroke="#8084b3" stroke-width="7" stroke-linecap="round" fill="none" opacity="0.88"/>
<path d="M1900.3 660.8l-4.3 2.4M1888.1 472.0l3.7 2.1M1779.3 638.2l-1.8 1.7M1850.3 504.2l-2.5 0.4" stroke="#8084b3" stroke-width="7.5" stroke-linecap="round" fill="none" opacity="0.88"/>
<path d="M1878.8 496.2l0.9 2.9M1734.0 592.6l-3.1 1.6" stroke="#8084b3" stroke-width="8" stroke-linecap="round" fill="none" opacity="0.88"/>
<path d="M1731.0 535.5l2.4 1.0M1868.6 522.3l3.8 0.4" stroke="#8084b3" stroke-width="8.5" stroke-linecap="round" fill="none" opacity="0.88"/>
<path d="M1862.7 481.6l0.1 2.6M1875.8 618.1l-0.5 2.4" stroke="#8084b3" stroke-width="9" stroke-linecap="round" fill="none" opacity="0.88"/>
<path d="M1877.4 479.2l2.2 2.2" stroke="#898db9" stroke-width="7" stroke-linecap="round" fill="none" opacity="0.88"/>
<path d="M1652.3 557.4l-2.8 3.5M1893.8 676.1l0.5 3.4M1719.5 583.2l2.1 1.5M1689.3 515.2l0.5 2.5" stroke="#898db9" stroke-width="7.5" stroke-linecap="round" fill="none" opacity="0.88"/>
<path d="M1835.0 563.9l3.3 3.1M1711.6 516.8l3.9 2.1M1709.0 571.6l-0.1 4.3M1888.7 582.5l-2.3 0.9M1859.1 689.7l-1.7 2.5M1787.7 650.4l0.1 3.4" stroke="#898db9" stroke-width="8" stroke-linecap="round" fill="none" opacity="0.88"/>
<path d="M1898.8 497.7l2.7 2.0M1892.2 488.2l-1.4 3.2M1818.9 588.8l0.9 2.1M1903.3 700.0l-2.3 1.2" stroke="#898db9" stroke-width="8.5" stroke-linecap="round" fill="none" opacity="0.88"/>
<path d="M1847.7 485.3l-3.5 0.7M1889.5 693.0l-0.7 4.3" stroke="#898db9" stroke-width="9" stroke-linecap="round" fill="none" opacity="0.88"/>
<path d="M1783.9 709.3l-5.8 1.0M1764.2 696.3l0.2 3.1M1657.9 657.9l-4.1 2.3M1877.0 702.5l2.9 1.1" stroke="#51558f" stroke-width="3" stroke-linecap="round" fill="none" opacity="0.85"/>
<path d="M1670.2 665.9l2.2 3.2M1856.4 700.1l-1.6 5.3M1831.0 734.4l4.1 0.1M1894.6 736.9l4.0 2.6" stroke="#51558f" stroke-width="3.5" stroke-linecap="round" fill="none" opacity="0.85"/>
<path d="M1763.4 710.6l1.2 5.4" stroke="#51558f" stroke-width="4" stroke-linecap="round" fill="none" opacity="0.85"/>
<path d="M1873.8 733.8l2.1 2.8" stroke="#51558f" stroke-width="4.5" stroke-linecap="round" fill="none" opacity="0.85"/>
<path d="M1643.4 687.6l3.4 4.2" stroke="#5c6098" stroke-width="3" stroke-linecap="round" fill="none" opacity="0.85"/>
<path d="M1749.7 695.6l-5.6 1.7" stroke="#5c6098" stroke-width="3.5" stroke-linecap="round" fill="none" opacity="0.85"/>
<path d="M1691.2 694.6l-3.1 5.1M1817.0 673.6l1.9 2.7M1651.8 715.5l-2.0 5.5M1688.7 669.2l3.0 1.5M1670.0 682.5l-3.5 2.6M1717.7 661.4l-2.0 3.4M1823.6 690.1l2.9 1.4" stroke="#5c6098" stroke-width="4" stroke-linecap="round" fill="none" opacity="0.85"/>
<path d="M1716.4 729.8l3.4 0.2M1714.4 695.5l-5.5 1.1M1760.7 732.2l-1.0 2.9M1745.4 678.2l-2.4 2.0" stroke="#6c70a5" stroke-width="3.5" stroke-linecap="round" fill="none" opacity="0.85"/>
<path d="M1701.5 709.4l1.0 4.1M1799.6 666.1l4.2 2.7" stroke="#6c70a5" stroke-width="4" stroke-linecap="round" fill="none" opacity="0.85"/>
<path d="M1673.0 708.8l-3.0 1.0" stroke="#6c70a5" stroke-width="4.5" stroke-linecap="round" fill="none" opacity="0.85"/>
</g></g>
<g clip-path="url(#cTR)">
<rect x="1903" y="468" width="262" height="271" fill="#bec1db"/>
<g filter="url(#blr2)">
<polygon points="2006.94,745.19 2017.44,694.19 2059.44,682.19 2104.44,700.19 2164.44,707.69 2164.44,745.19" fill="#dddeea"/>
<ellipse cx="1933.45" cy="505.2" rx="13.5" ry="22.5" fill="#d7d8e7"/>
<ellipse cx="2027.94" cy="611.69" rx="8.25" ry="19.5" fill="#d7d8e7"/>
<ellipse cx="2072.94" cy="532.2" rx="7.5" ry="18" fill="#d7d8e7"/>
<ellipse cx="2132.94" cy="511.2" rx="6.75" ry="16.5" fill="#d7d8e7"/>
<ellipse cx="2105.94" cy="653.69" rx="6.75" ry="13.5" fill="#d7d8e7"/>
<ellipse cx="2005.44" cy="487.2" rx="9" ry="12" fill="#d7d8e7"/>
<ellipse cx="1939.45" cy="574.19" rx="10.5" ry="9" fill="#d7d8e7"/>
</g><g filter="url(#blr)">
<path d="M2046.6 708.3l-1.1 2.5M2108.1 737.2l1.9 3.5M2059.0 726.7l-3.5 0.8" stroke="#6c70a5" stroke-width="6.5" stroke-linecap="round" fill="none" opacity="0.8"/>
<path d="M2009.0 737.4l3.4 2.5M2077.5 735.7l3.5 1.6" stroke="#6c70a5" stroke-width="7" stroke-linecap="round" fill="none" opacity="0.8"/>
<path d="M2010.5 584.3l-1.6 1.0M2036.3 648.6l1.8 1.9M2124.4 519.4l2.0 1.1M2148.6 651.1l-1.0 0.8M1973.7 721.1l-3.9 0.4" stroke="#6d71a4" stroke-width="10" stroke-linecap="round" fill="none" opacity="0.8"/>
<path d="M1924.4 537.1l0.6 1.0M2120.6 602.6l-1.2 0.6M2135.7 558.2l0.0 2.0M1964.7 564.6l-2.3 1.5M1968.6 606.1l3.0 2.3M2144.5 566.9l-0.4 2.9M2101.4 496.8l-1.6 1.2M2058.2 587.2l3.3 2.0M2097.9 622.6l-0.3 1.0" stroke="#6d71a4" stroke-width="10.5" stroke-linecap="round" fill="none" opacity="0.8"/>
<path d="M2001.3 538.3l0.1 1.4M2072.4 494.5l-0.4 1.7M1903.8 498.5l-0.4 1.0M2148.3 495.3l3.0 1.8M1977.2 631.4l-1.2 1.0M1961.2 537.5l1.7 1.3M1909.1 546.0l-1.0 1.0M2015.5 692.3l1.5 0.6M2096.5 483.3l2.1 1.3M2163.6 526.4l-1.2 0.7M1906.7 684.3l-2.9 0.5M2057.3 472.8l1.1 3.6" stroke="#6d71a4" stroke-width="11" stroke-linecap="round" fill="none" opacity="0.8"/>
<path d="M2135.0 581.8l-0.6 1.1M1916.9 628.7l-0.4 0.9M2012.0 663.2l1.6 1.0M2086.1 540.4l2.3 0.0M1911.7 614.5l0.1 1.4M2088.1 628.6l2.0 2.8M1970.7 484.5l2.2 1.2M1927.6 472.0l-2.8 1.9M2149.4 546.5l1.2 2.8M2147.4 517.3l1.7 0.0M2006.0 572.4l-0.4 1.0M2131.7 614.0l1.2 3.7M2010.9 719.4l0.4 2.0" stroke="#6d71a4" stroke-width="11.5" stroke-linecap="round" fill="none" opacity="0.8"/>
<path d="M1948.2 545.0l0.2 2.0M2107.2 639.7l0.5 1.0M1995.0 506.4l-2.1 1.0M1931.9 736.9l-1.7 0.9M2083.8 552.3l-0.9 1.9M2107.8 695.2l-1.2 2.7M1999.8 645.1l1.7 2.3M1988.5 469.1l1.9 0.3M2034.5 481.5l-0.4 3.7M1931.9 583.2l-1.1 1.0M1928.1 706.7l0.1 1.6M1937.0 650.5l0.2 1.1M2092.0 559.4l1.1 2.6M2070.0 627.6l-0.1 2.0M2002.4 517.5l0.2 1.9" stroke="#6d71a4" stroke-width="12" stroke-linecap="round" fill="none" opacity="0.8"/>
<path d="M1962.8 641.5l-1.7 0.2M2098.3 672.3l2.1 0.9M2087.4 570.8l-1.0 0.7M1923.1 719.1l1.4 3.4M1908.6 669.3l-0.8 1.7M2113.2 567.5l-0.6 1.3M1966.5 518.3l1.1 0.2M1918.7 492.1l-3.3 2.2M2081.9 521.7l-1.9 1.2M2040.0 665.2l-1.9 0.9M2059.0 546.6l1.8 0.5M1951.7 646.6l-0.6 1.3M2123.1 569.5l1.3 1.6M1977.6 565.5l-0.1 1.3M2129.9 600.0l2.5 0.5M2107.7 664.1l-1.5 0.7M2049.0 662.6l1.6 0.4" stroke="#6d71a4" stroke-width="12.5" stroke-linecap="round" fill="none" opacity="0.8"/>
<path d="M1903.7 628.8l0.0 2.2M2143.5 486.1l-3.5 1.3M1965.5 698.0l1.5 2.4" stroke="#6d71a4" stroke-width="13" stroke-linecap="round" fill="none" opacity="0.8"/>
<path d="M2032.8 678.5l-0.3 1.3M2126.5 540.7l0.6 3.3M1954.7 708.1l-0.3 2.4M1966.4 469.8l0.7 2.1" stroke="#7478a9" stroke-width="10" stroke-linecap="round" fill="none" opacity="0.8"/>
<path d="M1942.1 530.2l-2.3 2.3M2154.9 504.7l-0.5 2.8M2098.6 588.7l3.7 1.2M1989.5 489.9l2.8 0.1M1964.7 653.7l0.1 2.0M2156.5 682.9l1.3 1.8M1905.5 709.1l-1.3 1.8M1942.0 516.8l-0.4 1.1M1953.6 471.3l-0.3 2.2" stroke="#7478a9" stroke-width="10.5" stroke-linecap="round" fill="none" opacity="0.8"/>
<path d="M1942.5 598.5l-1.2 1.3M2064.4 511.4l-2.2 2.0M2141.8 699.9l2.7 1.8M2145.0 685.2l1.7 1.0M2084.7 665.0l-0.1 1.6M1951.0 689.6l-0.1 1.1M1916.8 659.3l-1.6 3.5M2089.5 683.5l1.0 0.6M1952.7 490.9l1.4 1.9M2126.9 628.4l-0.9 0.5M2012.6 644.5l-1.0 3.7M1906.7 563.8l3.2 0.4M2018.3 475.5l-1.6 1.9M1949.7 623.4l1.4 0.1M2165.0 513.9l-1.6 0.8" stroke="#7478a9" stroke-width="11" stroke-linecap="round" fill="none" opacity="0.8"/>
<path d="M2013.6 512.3l-2.3 1.5M1997.5 673.1l0.6 3.2M1943.3 658.9l1.5 2.2M2104.0 510.2l1.8 0.0M2127.6 651.2l1.5 0.5M1925.9 614.6l1.3 1.7M1980.7 713.6l1.1 3.8M1997.5 721.7l2.7 1.8M2112.5 529.6l0.9 1.3M2061.6 637.4l1.9 2.8M1945.8 701.2l-3.1 1.2M2024.4 515.9l1.1 0.8M2091.4 599.4l-0.2 2.2M1962.8 621.4l-0.8 1.4M2102.8 467.5l0.4 2.5M2078.5 484.4l-1.1 2.6M1932.4 481.0l0.7 3.1" stroke="#7478a9" stroke-width="11.5" stroke-linecap="round" fill="none" opacity="0.8"/>
<path d="M2053.7 674.6l3.5 0.1M1906.5 591.3l1.1 0.5M2136.0 661.4l2.0 2.9M2052.1 511.9l-0.9 0.5M1938.6 629.0l2.6 0.9M2163.6 597.4l-1.0 2.7M1994.9 590.0l-0.6 2.6M1927.9 626.6l1.9 0.2M2159.6 469.5l-1.5 1.2M2005.6 476.4l0.9 0.4" stroke="#7478a9" stroke-width="12" stroke-linecap="round" fill="none" opacity="0.8"/>
<path d="M2072.1 472.2l2.2 0.5M1913.1 572.8l2.5 2.3M1907.4 512.4l1.5 0.3M1984.3 478.1l-3.3 0.7M2095.8 610.6l-0.7 3.0M2072.0 663.4l-2.3 2.4M2068.1 652.4l3.7 1.0M2020.8 598.5l2.1 2.7M2086.7 654.3l1.2 0.7M1994.4 614.0l1.3 1.9M2072.1 577.2l-0.9 1.4" stroke="#7478a9" stroke-width="12.5" stroke-linecap="round" fill="none" opacity="0.8"/>
<path d="M2160.5 538.4l0.3 1.1M1903.1 525.2l0.5 1.2M1928.1 658.0l1.0 0.7" stroke="#7478a9" stroke-width="13" stroke-linecap="round" fill="none" opacity="0.8"/>
<path d="M2024.0 721.4l0.2 2.8M2093.8 711.2l1.9 2.2" stroke="#767aab" stroke-width="6" stroke-linecap="round" fill="none" opacity="0.8"/>
<path d="M2127.1 721.4l4.1 0.8M2111.9 709.8l-1.8 1.2M2044.6 694.7l-0.0 3.5" stroke="#767aab" stroke-width="6.5" stroke-linecap="round" fill="none" opacity="0.8"/>
<path d="M2073.7 710.0l0.3 3.1" stroke="#767aab" stroke-width="7" stroke-linecap="round" fill="none" opacity="0.8"/>
<path d="M2148.2 721.9l2.0 1.5" stroke="#767aab" stroke-width="7.5" stroke-linecap="round" fill="none" opacity="0.8"/>
<path d="M2025.5 561.1l0.3 1.9M1953.9 571.1l-2.0 2.7M1972.1 667.3l0.9 0.7M2121.0 669.5l-0.7 0.8M2029.9 593.3l3.2 0.7M2123.8 640.2l-0.3 2.0" stroke="#7d81b1" stroke-width="10" stroke-linecap="round" fill="none" opacity="0.8"/>
<path d="M1967.0 504.6l-0.2 2.1M1954.5 720.2l-2.9 2.0M2047.3 479.5l-1.0 1.0M1914.1 480.9l-2.8 2.2M2027.6 494.3l-1.4 0.6M2110.3 578.1l-0.1 3.6M2064.5 565.5l2.0 0.4M2159.5 580.7l-2.0 2.3M2129.3 474.8l1.1 3.8M2070.7 590.1l2.8 1.4M2022.1 616.2l-3.7 0.7M2010.6 501.0l-2.2 2.5M1990.4 562.6l3.2 2.0M2136.4 677.6l-1.6 1.1M1984.8 670.0l-0.5 2.3M1911.9 534.3l-2.5 0.9M1910.7 718.8l1.3 0.1M2116.0 658.0l3.0 1.0" stroke="#7d81b1" stroke-width="10.5" stroke-linecap="round" fill="none" opacity="0.8"/>
<path d="M2143.3 594.2l-3.4 0.8M1979.7 681.5l1.7 1.2M2119.3 701.0l3.0 1.6M1911.3 735.5l1.6 2.5M1935.5 542.8l3.7 0.2M1941.9 581.1l1.0 1.7M2041.2 556.0l1.3 2.3M2097.9 518.4l-1.1 1.5M1956.4 509.9l-2.6 1.3M2077.2 512.0l-1.1 0.0M2161.1 487.9l1.7 1.1M2162.7 647.5l0.3 3.8" stroke="#7d81b1" stroke-width="11" stroke-linecap="round" fill="none" opacity="0.8"/>
<path d="M1978.8 503.5l-1.8 0.9M1930.4 674.7l-0.2 2.4M2013.7 487.5l0.0 3.1M2033.2 572.9l-1.2 2.6M2045.0 623.1l-0.6 2.6M2061.5 485.5l-2.3 2.5M1961.6 687.1l2.2 2.7M2159.9 635.0l1.5 1.0M2037.8 513.2l-0.7 2.1M2021.8 536.9l-1.3 1.7M2003.4 552.3l-2.6 2.0M1945.3 481.6l-0.8 3.9M2143.6 505.8l-0.4 1.4M1988.3 624.2l0.0 3.7" stroke="#7d81b1" stroke-width="11.5" stroke-linecap="round" fill="none" opacity="0.8"/>
<path d="M2156.5 556.2l2.1 0.7M1943.9 499.7l0.0 1.7M1934.3 693.6l1.4 1.2M2056.5 528.4l-1.5 0.1M2108.1 620.7l2.3 3.2M1995.5 578.4l2.2 2.4M1930.0 640.9l-1.1 1.0M2076.1 600.2l1.8 2.7M2112.8 479.6l-3.3 0.5M1953.2 587.0l0.7 2.0M1931.4 603.6l-0.9 0.5M2145.2 670.2l-0.4 1.9M2140.6 472.4l-0.3 1.6M1923.5 684.4l-2.2 0.7M1963.2 575.1l0.8 2.8M2000.3 708.8l-0.1 2.2M2025.7 645.2l-1.0 1.2" stroke="#7d81b1" stroke-width="12" stroke-linecap="round" fill="none" opacity="0.8"/>
<path d="M1978.8 699.8l0.6 0.9M2144.9 629.9l0.6 1.7M1921.6 511.7l-0.8 3.8M2155.7 613.9l2.4 0.3M2087.0 582.2l-2.6 1.7M1909.4 643.2l-1.8 2.2M2146.2 530.7l3.4 0.4M2137.0 525.6l-1.5 2.7M2145.7 610.7l-1.2 1.8M2133.3 493.2l-0.3 3.7M2034.5 470.7l2.2 0.3M2045.4 684.4l1.6 0.0M2090.8 643.6l1.8 0.4M1976.7 616.7l3.2 1.9M2104.2 599.9l0.3 2.1M2091.7 508.7l-1.8 2.9" stroke="#7d81b1" stroke-width="12.5" stroke-linecap="round" fill="none" opacity="0.8"/>
<path d="M1936.7 563.5l-1.5 2.0M2047.5 605.0l-0.6 1.7M1969.8 553.6l-0.8 2.7M1970.5 709.4l-1.7 1.6" stroke="#7d81b1" stroke-width="13" stroke-linecap="round" fill="none" opacity="0.8"/>
<path d="M1981.7 598.0l0.9 1.9M2026.1 659.5l-3.2 1.7M2074.7 612.7l-0.6 3.3M2123.7 585.2l-0.2 2.9" stroke="#868ab7" stroke-width="10" stroke-linecap="round" fill="none" opacity="0.8"/>
<path d="M2139.2 639.7l0.2 2.1M2049.8 497.2l1.1 1.4M1987.8 644.2l2.9 0.5M1959.0 525.7l-1.6 1.1M2153.5 480.9l-1.9 1.9M1992.8 661.9l-2.4 1.4M2094.3 693.4l0.8 1.8M1974.6 589.3l1.5 1.2M2008.6 620.4l3.1 2.5M2019.8 628.1l-2.3 1.6M2050.0 592.9l-1.2 0.5M2111.1 493.0l1.0 1.5" stroke="#868ab7" stroke-width="10.5" stroke-linecap="round" fill="none" opacity="0.8"/>
<path d="M1982.4 576.3l-0.8 0.6M2050.0 649.8l-2.6 0.8M1981.5 735.4l-1.2 1.1M2108.0 547.2l0.3 1.8M2035.8 609.9l-1.1 1.2M1945.5 670.7l-1.7 2.1" stroke="#868ab7" stroke-width="11" stroke-linecap="round" fill="none" opacity="0.8"/>
<path d="M2012.5 556.1l0.2 1.6M2157.6 661.5l-2.7 0.2M2160.4 700.8l-0.9 2.1M2063.2 615.8l-2.3 0.5M1934.4 715.9l1.0 1.6M2165.6 568.8l-2.4 1.9M2136.6 545.9l2.2 0.2M1958.0 674.0l0.9 1.1M1924.7 524.4l-0.1 3.1M2064.6 675.7l3.8 0.9M2122.5 551.7l-0.9 2.3M1938.6 611.6l1.7 2.5" stroke="#868ab7" stroke-width="11.5" stroke-linecap="round" fill="none" opacity="0.8"/>
<path d="M1998.7 631.6l2.0 2.1M1997.9 689.2l-2.8 2.6M2117.2 686.7l0.1 1.2M1993.7 734.5l0.9 0.5M1993.4 527.9l-0.6 3.7M1919.6 598.8l1.0 1.8M2120.1 499.4l2.0 0.8M2129.3 687.7l-0.3 1.0M1913.1 692.9l0.9 0.8M1926.5 556.0l-0.9 2.5M1951.0 608.8l1.1 1.9M1960.0 729.2l1.1 0.4M2006.3 698.9l0.9 0.8M2067.4 522.6l1.7 0.1M2062.0 574.8l-3.7 1.5M1958.8 551.4l-1.5 2.4M2073.1 640.4l2.5 1.0M1950.0 559.8l-0.3 2.8" stroke="#868ab7" stroke-width="12" stroke-linecap="round" fill="none" opacity="0.8"/>
<path d="M2047.1 574.1l-0.8 3.0M2090.7 472.9l-0.2 2.7M1982.3 520.0l-0.6 1.2M2003.8 607.0l1.3 2.7M2011.5 528.5l1.9 0.9M2087.1 491.5l1.7 3.5M1977.5 537.4l0.2 2.0M2033.6 635.0l3.0 1.4M2019.6 675.1l-0.3 1.0M2097.3 572.5l3.6 0.5M2015.5 573.4l2.7 2.0M2044.5 536.6l0.6 3.5" stroke="#868ab7" stroke-width="12.5" stroke-linecap="round" fill="none" opacity="0.8"/>
<path d="M1942.3 729.0l-0.7 1.0M2029.7 543.5l1.6 0.5M1982.0 549.5l-1.3 1.9M2065.0 598.6l0.1 2.9M1976.9 647.8l-0.2 3.6M2077.3 564.6l-0.8 3.1" stroke="#868ab7" stroke-width="13" stroke-linecap="round" fill="none" opacity="0.8"/>
<path d="M2120 556l4 2M2128 561l3 1M2133 646l4 1M1924 643l3 0M1953 645l3 2M1966 641l3 2M1979 637l2 1M1995 660l2 2M1950 708l3 0M1997 705l2 1" stroke="#75637f" stroke-width="9" stroke-linecap="round" opacity="0.85"/>
</g></g>
<g clip-path="url(#cBL)">
<rect x="1643" y="739" width="260" height="271.5" fill="#acb0cf"/>
<g filter="url(#blr2)">
<ellipse cx="1668.08" cy="801.62" rx="9.23" ry="6.15" fill="#dcdeeb"/>
<ellipse cx="1768.08" cy="798.54" rx="10.77" ry="9.23" fill="#dcdeeb"/>
<ellipse cx="1894.23" cy="787.77" rx="7.69" ry="50.77" fill="#dcdeeb"/>
<ellipse cx="1775.77" cy="967.77" rx="6.15" ry="13.85" fill="#dcdeeb"/>
<ellipse cx="1891.15" cy="887.77" rx="6.15" ry="18.46" fill="#dcdeeb"/>
</g><g filter="url(#blr)">
<polyline points="1734.23,740.08 1721.92,780.08 1706.54,820.08 1700.38,844.69 1705,872.38 1695.77,903.15 1701.92,933.92 1698.85,964.69 1701.92,1007.77" fill="none" stroke="#eceef5" stroke-width="2.2" opacity="0.9" stroke-linecap="round" stroke-linejoin="round"/>
<polyline points="1695.77,903.15 1675.77,906.23" fill="none" stroke="#eceef5" stroke-width="1.8" opacity="0.9" stroke-linecap="round" stroke-linejoin="round"/>
<polyline points="1889.62,826.23 1881.92,872.38 1869.62,903.15 1860.38,949.31 1852.69,1007.77" fill="none" stroke="#eceef5" stroke-width="2" opacity="0.9" stroke-linecap="round" stroke-linejoin="round"/>
<polyline points="1801.92,820.08 1775.77,849.31 1765,887.77 1755.77,926.23 1752.69,964.69 1740.38,1007.77" fill="none" stroke="#eceef5" stroke-width="1.6" opacity="0.6" stroke-linecap="round" stroke-linejoin="round"/>
<path d="M1795.4 822.6l-1.6 3.0M1767.9 876.6l-1.2 2.9M1748.8 981.1l-2.4 3.5M1775.9 857.3l-2.5 4.2M1754.0 978.8l-1.6 3.0M1662.0 772.9l-1.5 4.7" stroke="#50548e" stroke-width="3.5" stroke-linecap="round" fill="none" opacity="0.85"/>
<path d="M1755.5 968.4l-1.7 3.8M1803.3 766.9l-0.5 4.4M1759.0 938.8l-2.1 3.7M1757.6 929.5l-1.1 3.4M1749.5 972.6l-2.3 4.1M1812.5 748.2l-1.0 3.8M1763.7 885.2l-0.2 3.3M1796.3 827.9l-3.6 2.9M1808.5 754.1l-1.3 3.7M1783.4 841.1l-0.9 4.2M1801.4 791.5l-2.0 2.6M1806.2 788.9l0.3 4.4M1777.6 845.1l-1.7 4.2M1659.8 779.6l-1.0 3.3M1659.9 753.0l-0.4 4.8M1654.4 777.0l-0.2 3.9" stroke="#50548e" stroke-width="4" stroke-linecap="round" fill="none" opacity="0.85"/>
<path d="M1769.5 882.1l-0.7 4.7M1779.3 852.6l-2.2 2.8M1760.7 910.5l0.3 4.5M1744.4 1002.1l-2.8 2.6M1751.4 950.6l-2.3 3.8M1762.3 891.3l1.0 4.9M1743.1 984.6l-1.9 2.6M1669.4 742.0l-1.8 4.1" stroke="#50548e" stroke-width="4.5" stroke-linecap="round" fill="none" opacity="0.85"/>
<path d="M1757.1 917.3l-0.6 3.5M1792.7 813.1l-1.5 2.9M1761.8 903.5l0.1 4.7M1789.3 826.6l-1.2 4.5M1806.2 770.6l0.9 4.6M1809.2 744.3l-1.7 3.3M1790.4 818.3l-1.5 4.7M1761.0 944.8l-0.7 3.9M1769.5 891.8l-0.7 4.4" stroke="#5b5f97" stroke-width="3.5" stroke-linecap="round" fill="none" opacity="0.85"/>
<path d="M1749.8 966.5l-1.3 3.4M1803.1 785.0l-0.2 4.4M1748.5 987.7l-2.3 4.3M1811.9 762.1l-1.1 4.4M1755.0 961.8l-0.6 3.0M1788.6 832.1l-2.1 4.4M1780.3 835.8l-0.8 3.6M1765.1 908.5l0.6 3.3M1658.2 768.4l-0.3 3.9M1666.6 754.8l-1.4 2.8M1653.1 785.1l0.1 3.2" stroke="#5b5f97" stroke-width="4" stroke-linecap="round" fill="none" opacity="0.85"/>
<path d="M1772.7 866.7l1.1 3.9M1813.3 741.8l0.5 4.0M1797.4 805.7l-0.2 3.5M1652.0 790.7l-1.4 3.6" stroke="#5b5f97" stroke-width="4.5" stroke-linecap="round" fill="none" opacity="0.85"/>
<path d="M1647.4 760.1l4.3 2.7M1763.0 1010.7l6.2 -3.0M1681.5 840.0l6.0 -1.5M1832.2 988.2l2.7 -4.3M1739.2 870.0l2.5 -7.4M1843.9 911.7l6.6 -3.6M1659.2 962.0l5.3 1.5M1643.6 948.0l4.2 -3.0M1650.6 971.7l4.6 1.4M1793.0 896.4l0.3 -5.6M1832.4 966.9l4.2 -3.0M1724.9 811.0l5.2 -4.8M1801.2 986.6l3.5 -7.1M1876.2 814.3l5.1 -4.1M1705.9 893.3l6.8 -0.5M1868.0 912.1l6.9 -0.4M1794.8 915.4l2.3 -5.5" stroke="#676ba1" stroke-width="5" stroke-linecap="round" fill="none" opacity="0.85"/>
<path d="M1818.6 859.9l-2.5 -5.7M1751.9 856.7l2.6 -7.0M1763.2 934.9l3.7 -5.7M1870.6 894.4l6.5 1.1M1755.9 846.6l0.2 -6.6M1747.2 877.7l1.7 -7.2M1802.4 867.6l-2.1 -5.8M1844.6 985.7l4.8 -4.9M1702.6 887.5l6.0 -3.1M1883.4 741.7l4.7 -2.8M1893.6 990.1l5.5 -0.6M1856.1 763.4l2.3 -4.5M1835.4 898.0l5.6 -4.7M1675.0 849.5l6.4 -2.7M1743.4 794.3l4.4 -6.5M1830.8 802.1l-3.5 -6.5M1668.4 878.3l7.3 -2.4M1859.2 973.3l7.5 -0.8M1840.8 805.2l-1.4 -6.7M1747.8 780.7l3.4 -6.2M1815.5 777.1l-4.0 -6.7M1779.6 789.5l-2.0 -4.2M1818.0 783.0l-2.6 -5.9M1687.4 970.4l4.6 2.2M1740.0 947.6l4.9 -2.6M1740.2 836.4l3.4 -5.8M1693.2 978.6l4.9 4.8M1713.1 752.1l5.8 1.6M1688.1 984.2l5.9 4.2M1896.6 913.8l4.6 5.9M1715.9 824.9l5.7 -2.2M1689.9 963.1l5.9 2.9M1858.1 927.5l7.5 -1.9M1821.8 967.9l4.0 -3.8" stroke="#676ba1" stroke-width="5.5" stroke-linecap="round" fill="none" opacity="0.85"/>
<path d="M1846.8 769.0l0.0 -4.5M1833.5 768.9l-2.1 -4.2M1687.4 867.6l6.9 -1.2M1655.4 952.8l6.2 0.9M1839.4 908.7l3.3 -3.6M1778.1 973.6l3.5 -5.9M1800.3 1003.3l1.1 -5.3M1649.7 911.9l6.5 -2.2M1643.4 930.8l6.0 -2.2M1642.9 866.9l7.4 -2.7M1648.5 924.3l5.7 -2.1M1844.4 851.6l2.8 -7.4M1884.2 947.0l4.6 1.3M1781.7 886.4l0.4 -6.3M1855.4 788.2l3.1 -6.4M1790.8 929.5l1.9 -5.8M1769.0 773.9l1.2 -6.8M1885.1 757.8l4.7 -4.2M1749.3 891.4l4.1 -6.3M1658.8 996.3l4.6 4.6M1667.5 821.7l6.2 -0.3M1721.9 897.5l7.0 -2.6M1814.6 789.9l-4.7 -6.1M1852.1 969.9l4.7 -0.8M1879.7 761.3l4.0 -2.3M1844.7 1002.7l3.9 -3.5M1680.7 901.1l6.9 -2.2M1650.6 980.6l7.4 1.1M1724.0 999.8l7.5 2.2M1864.6 861.3l4.6 -3.5M1734.2 743.7l4.9 -2.0M1762.0 922.8l3.8 -4.6M1640.6 834.8l6.3 -3.0M1886.7 904.8l3.3 3.3" stroke="#676ba1" stroke-width="6" stroke-linecap="round" fill="none" opacity="0.85"/>
<path d="M1746.7 822.0l3.4 -6.4M1735.1 775.1l4.8 -4.7M1812.0 934.7l2.6 -3.7M1898.8 885.0l4.0 3.3M1795.8 961.5l2.1 -4.4M1838.8 795.0l-2.3 -4.7M1692.5 990.7l3.6 4.0M1881.6 990.9l7.1 -1.4M1790.7 861.6l-3.1 -6.5M1892.7 1009.8l5.2 -1.2M1815.7 868.1l-0.5 -6.5M1753.5 1010.5l5.0 -1.1M1866.9 789.2l2.2 -4.2M1819.6 896.7l1.7 -4.4M1715.8 1006.6l4.2 2.2M1831.4 838.7l-0.4 -6.7M1700.2 970.6l4.1 4.3" stroke="#676ba1" stroke-width="6.5" stroke-linecap="round" fill="none" opacity="0.85"/>
<path d="M1691.1 773.6l5.1 2.4M1674.6 958.6l4.6 1.9M1824.5 832.8l-0.6 -5.1M1698.5 875.1l6.5 -4.1M1886.7 842.4l8.0 -0.4M1655.2 917.2l6.0 -2.9M1701.9 782.9l7.5 0.2M1791.0 883.3l0.2 -7.9M1641.2 740.3l4.9 1.1M1792.0 947.3l2.6 -4.6M1816.0 851.9l-0.5 -7.3M1672.6 916.3l5.6 -0.7M1713.0 892.9l6.2 -5.0M1691.4 845.8l5.6 -2.8M1837.2 833.5l-0.9 -4.4M1863.5 889.1l6.9 -1.5M1751.8 816.8l2.1 -7.6M1847.2 955.6l6.4 -2.9M1680.0 1003.5l4.1 3.6M1805.7 830.8l-3.4 -4.2M1795.2 789.9l-4.7 -6.5M1684.9 793.2l7.5 2.7M1755.3 826.5l-0.6 -7.5M1735.0 925.4l6.1 -2.7" stroke="#6f73a7" stroke-width="5" stroke-linecap="round" fill="none" opacity="0.85"/>
<path d="M1872.6 991.4l4.6 -0.5M1764.2 762.9l0.5 -5.2M1722.4 979.5l6.1 3.8M1744.6 828.3l1.8 -4.7M1747.5 802.8l3.3 -6.4M1879.3 772.6l6.3 -3.3M1773.5 986.5l6.0 -3.3M1777.4 809.6l-1.0 -5.4M1674.5 858.1l4.2 -2.1M1865.6 762.8l4.0 -5.1M1878.6 898.5l4.6 1.7M1654.8 877.8l5.7 -2.4M1717.3 992.6l4.5 1.3M1862.3 827.7l2.6 -4.9M1676.2 776.6l4.3 3.9M1823.9 888.7l2.7 -5.8M1670.8 756.1l4.8 5.9M1876.6 970.4l6.3 2.1M1896.3 894.4l3.0 4.1M1645.7 838.8l6.6 -0.6M1893.9 807.5l5.2 -0.1M1852.5 998.9l6.0 -4.0M1718.9 761.6l5.7 -1.0M1850.8 1012.8l3.6 -6.4M1867.9 976.1l6.5 0.3M1788.1 959.0l3.9 -5.1M1744.4 903.6l4.4 -3.3M1705.3 988.1l6.0 3.2M1827.8 902.0l4.3 -5.7M1760.6 788.4l0.6 -5.9M1829.3 747.2l0.2 -5.2M1718.2 776.0l5.6 0.2M1877.6 824.2l4.5 -1.7" stroke="#6f73a7" stroke-width="5.5" stroke-linecap="round" fill="none" opacity="0.85"/>
<path d="M1858.1 950.9l6.7 -0.3M1725.0 971.8l5.6 2.0M1706.1 879.9l5.3 -2.5M1703.6 961.6l4.8 2.5M1855.6 899.0l5.9 -0.5M1754.2 751.0l4.6 -5.2M1709.1 817.9l5.8 -1.1M1872.1 938.0l7.1 0.7M1656.1 815.9l6.9 1.4M1872.8 746.3l6.1 -4.6M1645.8 896.1l4.3 -3.3M1710.8 779.9l7.0 -1.3M1700.3 921.8l6.4 -0.8M1664.6 843.8l5.6 -0.2M1736.2 855.4l1.4 -4.9M1732.3 1002.0l6.3 3.1M1779.9 748.1l0.4 -5.9M1831.0 848.8l-0.1 -5.7M1860.1 833.2l3.8 -2.8M1799.3 955.2l2.6 -3.8M1842.2 788.7l0.3 -5.7M1668.9 899.3l6.5 -0.1M1788.6 873.3l-1.0 -4.5M1709.9 954.7l4.7 2.2M1793.4 1012.0l2.0 -5.4M1709.0 741.7l4.6 3.1M1781.6 833.3l-3.6 -5.1M1796.0 849.0l-1.7 -5.8M1830.1 1008.1l2.6 -7.3M1774.2 816.5l-1.2 -6.0M1896.9 850.5l7.0 1.5M1667.2 859.1l4.6 -2.4M1773.8 742.9l2.8 -7.1M1859.7 808.0l3.4 -6.9M1731.5 798.4l4.2 -4.5M1721.3 820.2l5.2 -3.3" stroke="#6f73a7" stroke-width="6" stroke-linecap="round" fill="none" opacity="0.85"/>
<path d="M1662.4 989.1l6.0 2.1M1735.1 830.0l4.3 -4.4M1875.5 920.7l4.8 0.7M1715.1 911.9l5.9 -2.1M1803.4 938.1l4.2 -4.3M1765.4 1002.4l5.3 -2.2M1876.6 958.1l4.5 1.4M1758.7 998.4l4.4 -2.8M1662.3 893.4l5.6 -1.4M1711.1 870.4l5.4 -3.1M1868.0 1008.0l6.8 -2.8M1663.4 909.9l5.3 -1.9M1892.9 819.0l5.9 -1.0M1892.9 979.8l5.4 1.4M1702.3 904.1l5.3 -1.0M1819.9 755.0l-1.1 -6.7M1806.1 860.7l-2.0 -6.5M1864.8 945.2l7.5 1.6M1684.1 880.6l5.1 -2.3M1786.3 795.1l-1.8 -6.8M1690.0 952.7l7.5 2.4M1845.9 743.7l2.1 -7.2" stroke="#6f73a7" stroke-width="6.5" stroke-linecap="round" fill="none" opacity="0.85"/>
<path d="M1683.2 925.6l7.7 -1.1M1670.4 814.1l6.2 0.6M1825.1 947.0l4.7 -4.9M1879.2 834.0l5.4 -0.7M1773.2 826.2l-1.0 -4.4M1695.9 826.9l5.8 -0.1M1811.5 902.3l1.7 -5.8M1697.7 742.3l4.3 2.4M1874.8 775.2l2.2 -4.6M1701.6 817.3l7.0 -2.6M1686.4 1006.3l4.1 3.4M1839.6 921.7l6.0 -5.2M1894.6 934.8l3.4 3.3M1647.9 804.9l7.7 -0.6M1697.3 752.8l4.4 2.7M1861.4 757.3l1.1 -7.7M1767.3 853.7l-1.4 -4.3M1836.4 812.2l-2.9 -6.3M1745.2 767.8l4.0 -4.5M1655.4 797.9l5.2 1.9" stroke="#797dae" stroke-width="5" stroke-linecap="round" fill="none" opacity="0.85"/>
<path d="M1686.4 814.5l5.7 0.2M1866.8 903.1l6.8 1.3M1847.9 842.7l2.4 -5.7M1669.1 1005.2l4.5 5.3M1643.2 848.0l4.7 -1.8M1720.4 743.5l5.9 2.4M1726.8 916.3l5.6 -2.9M1837.8 930.2l4.5 -2.2M1650.7 743.6l3.9 4.2M1742.2 962.5l5.5 0.3M1842.9 830.1l0.0 -6.0M1719.5 844.4l5.0 -4.5M1791.3 940.0l2.7 -6.9M1807.5 973.3l3.9 -5.0M1857.2 984.5l7.0 -1.0M1801.7 840.6l-1.2 -4.7M1823.8 872.1l0.3 -7.8M1725.1 932.4l5.4 -1.8M1756.4 758.6l2.9 -6.5M1665.0 838.0l5.7 -2.1M1654.9 826.9l6.5 -1.2M1824.7 976.0l5.0 -5.3M1701.3 772.1l7.0 3.8M1702.5 842.9l5.2 -3.2M1874.8 799.8l3.5 -5.1M1768.0 943.7l4.3 -2.7M1774.6 1006.0l3.1 -5.2M1664.5 761.7l4.6 4.4M1834.6 779.6l-0.9 -5.0M1732.9 964.4l5.5 0.1M1723.0 955.0l6.6 1.0M1681.4 994.1l4.1 2.6M1766.9 845.8l-1.3 -6.7M1859.3 940.7l7.2 0.9M1886.1 831.4l6.2 -0.2M1679.2 746.8l3.9 4.0M1675.0 820.1l5.2 1.1M1687.6 747.7l4.2 2.8" stroke="#797dae" stroke-width="5.5" stroke-linecap="round" fill="none" opacity="0.85"/>
<path d="M1674.6 935.1l7.9 -0.4M1843.4 975.5l4.1 -3.9M1893.0 766.7l6.3 -3.8M1887.5 805.0l5.5 -0.8M1722.8 908.9l5.0 -3.4M1740.9 786.5l5.4 -5.0M1736.6 755.4l5.3 -2.7M1841.1 881.3l3.3 -5.2M1683.8 950.0l5.7 2.7M1727.5 789.2l6.3 -3.1M1670.1 770.4l5.2 5.7M1822.7 763.3l-2.5 -7.4M1735.5 903.4l5.2 -2.7M1824.5 927.3l4.2 -3.4M1872.8 873.0l7.8 0.5M1650.7 937.4l7.1 -0.7M1729.1 821.4l3.9 -4.0M1793.1 908.0l0.8 -6.3M1800.4 887.6l1.2 -7.4M1782.1 802.1l-1.2 -5.6M1869.3 809.1l4.1 -4.4M1692.2 794.8l7.9 0.1M1771.7 994.2l4.6 -4.6M1896.1 792.5l6.0 -1.1M1862.4 815.1l3.9 -5.0M1775.0 769.4l0.3 -6.5M1829.7 873.8l1.9 -6.3M1740.0 812.2l3.4 -4.6M1851.5 978.6l5.4 -1.6M1769.2 834.5l-0.7 -7.6M1763.0 771.4l0.7 -7.3M1713.6 882.3l4.3 -2.5M1817.2 930.3l4.4 -6.3M1741.8 890.1l2.4 -6.1M1762.5 778.8l0.0 -6.2M1793.1 996.3l3.8 -3.8M1784.9 755.2l0.4 -6.9M1734.6 885.8l2.5 -4.9M1646.4 817.4l5.4 -1.6M1809.6 849.6l-1.5 -4.8M1869.7 881.5l6.6 -0.2M1659.9 929.7l6.9 -2.1M1678.4 941.3l7.6 -0.0M1756.6 840.2l-0.9 -7.9M1685.2 739.6l2.4 4.1" stroke="#797dae" stroke-width="6" stroke-linecap="round" fill="none" opacity="0.85"/>
<path d="M1880.6 879.7l5.0 1.0M1666.2 980.8l7.1 2.1M1828.7 818.0l-0.8 -5.3M1707.8 914.4l6.3 -2.6M1851.4 945.6l4.5 -2.4M1660.3 869.8l7.0 -2.5M1738.8 939.7l6.7 -2.3M1692.0 932.3l7.2 0.3M1641.2 890.7l5.4 -4.9M1825.5 790.5l-1.9 -6.7M1872.4 850.2l4.7 -0.6M1680.8 872.4l5.5 -1.7M1781.3 879.2l-1.8 -5.8M1849.0 860.4l3.5 -3.7M1658.3 938.0l6.4 -1.8M1897.8 870.9l4.2 3.0M1772.1 841.0l-2.0 -7.5" stroke="#797dae" stroke-width="6.5" stroke-linecap="round" fill="none" opacity="0.85"/>
<path d="M1763.0 982.4l5.3 -2.8M1767.2 817.2l-0.6 -4.9M1640.7 958.5l6.4 -1.9M1661.8 881.4l7.2 -1.1M1732.1 992.5l7.5 2.8M1726.3 848.4l2.6 -3.8M1706.6 748.8l5.3 4.4M1743.0 741.7l4.0 -2.4M1669.1 938.4l7.3 0.5M1835.3 862.1l1.2 -4.6M1762.6 826.4l0.8 -6.9M1879.9 931.8l7.4 2.7M1680.0 787.7l6.9 1.2M1818.0 951.6l4.4 -4.0M1810.5 919.5l3.6 -4.8M1679.2 983.2l6.7 3.5M1748.0 916.7l5.2 -5.5" stroke="#8286b4" stroke-width="5" stroke-linecap="round" fill="none" opacity="0.85"/>
<path d="M1703.2 831.0l4.9 -1.2M1728.3 738.7l4.7 1.4M1714.3 793.8l7.1 -0.4M1743.7 1010.3l7.2 -1.1M1709.5 940.2l5.8 0.2M1865.3 927.6l8.0 -0.0M1835.9 938.8l5.3 -5.7M1817.8 878.6l1.5 -7.2M1857.1 962.1l6.1 -2.5M1816.5 975.6l4.9 -4.2M1671.1 927.1l5.0 -0.8M1776.4 930.0l2.0 -5.2M1844.4 936.9l6.5 -3.7M1824.9 855.0l-1.7 -6.8M1805.5 823.5l-4.3 -6.6M1867.4 771.1l2.1 -4.1M1753.8 797.0l1.8 -5.4M1822.5 821.9l-2.6 -4.3M1795.7 780.6l-2.3 -7.0M1800.7 854.8l-2.6 -4.0M1829.6 936.9l4.0 -4.5M1789.6 771.3l-2.4 -6.8M1671.1 785.0l4.8 2.5M1676.6 909.6l4.7 -1.5M1893.0 926.3l6.5 3.4M1762.3 753.4l3.0 -6.5M1835.9 820.9l-1.0 -5.3M1899.9 778.8l5.8 -2.4M1683.5 893.0l5.9 -1.1M1842.6 895.9l5.6 -4.3M1790.3 977.7l4.4 -4.3M1840.9 960.0l3.3 -3.2M1851.4 873.1l6.6 -2.8" stroke="#8286b4" stroke-width="5.5" stroke-linecap="round" fill="none" opacity="0.85"/>
<path d="M1743.2 843.6l2.9 -6.1M1704.6 797.4l6.1 0.0M1856.4 1005.8l4.0 -4.5M1737.1 819.6l3.4 -6.2M1856.0 884.4l7.3 -0.7M1891.1 908.5l6.6 4.1M1671.5 796.0l6.7 3.2M1878.0 1009.0l6.0 -0.9M1752.6 769.4l5.2 -5.7M1647.3 904.3l5.3 -5.0M1717.3 768.4l5.9 -1.0M1896.6 840.4l5.2 0.9M1804.1 947.6l1.5 -4.6M1710.6 973.2l3.8 3.6M1810.1 964.7l3.0 -3.4M1698.3 863.6l6.0 -2.7M1717.3 850.2l4.2 -3.2M1726.1 773.1l6.5 -3.9M1732.8 974.6l6.7 0.6M1690.9 758.2l4.5 3.8M1796.2 974.2l2.9 -7.3M1697.3 804.8l6.3 0.5M1710.2 807.9l5.3 -0.1M1858.3 867.1l4.7 -1.7M1782.4 934.7l2.1 -5.9M1837.8 1002.8l3.2 -3.4M1811.9 891.9l1.9 -5.5M1700.3 937.1l6.1 -0.5M1864.4 748.5l2.3 -4.7M1889.4 860.0l5.4 1.6" stroke="#8286b4" stroke-width="6" stroke-linecap="round" fill="none" opacity="0.85"/>
<path d="M1777.4 908.4l2.3 -4.8M1814.0 989.5l3.6 -5.7M1668.9 993.5l5.1 3.7M1720.9 884.3l4.8 -4.5M1651.0 864.2l4.7 -2.3M1889.1 878.2l6.7 1.9M1888.7 786.6l5.5 -1.4M1822.6 909.7l4.9 -4.7M1851.2 830.2l2.5 -6.3M1819.4 806.6l-3.2 -5.2M1835.1 742.6l-0.9 -5.8M1832.9 916.3l5.5 -4.1M1841.3 888.3l4.8 -2.8" stroke="#8286b4" stroke-width="6.5" stroke-linecap="round" fill="none" opacity="0.85"/>
</g></g>
<g clip-path="url(#cBR)">
<rect x="1903" y="739" width="262" height="271.5" fill="#b7bad6"/>
<g filter="url(#blr2)">
<polygon points="2128.44,824.05 2164.44,818.05 2164.44,959.04 2137.44,965.04 2125.44,884.04" fill="#d8d9e7"/>
<polygon points="2032.44,923.04 2062.44,906.54 2068.44,959.04 2044.44,1004.04 2029.44,1004.04" fill="#d4d5e5"/>
<ellipse cx="1957.45" cy="854.04" rx="19.5" ry="7.5" fill="#e4e5ef"/>
<ellipse cx="1913.95" cy="996.54" rx="15" ry="10.5" fill="#e4e5ef"/>
<ellipse cx="2141.94" cy="989.04" rx="18" ry="12" fill="#e4e5ef"/>
<ellipse cx="1999.45" cy="968.04" rx="9" ry="6" fill="#e4e5ef"/>
<ellipse cx="2063.94" cy="768.55" rx="6" ry="12" fill="#e4e5ef"/>
</g><g filter="url(#blr)">
<polyline points="1907.95,837.55 1931.95,851.04 1954.45,858.54 1972.45,852.54 1982.95,831.55 1987.45,794.05 1988.95,743.05" fill="none" stroke="#eceef5" stroke-width="3" opacity="0.9" stroke-linecap="round" stroke-linejoin="round"/>
<polyline points="2036.94,743.05 2030.94,779.05 2027.94,824.05 2026.44,861.54" fill="none" stroke="#eceef5" stroke-width="1.8" opacity="0.9" stroke-linecap="round" stroke-linejoin="round"/>
<polyline points="2069.94,771.55 2071.44,824.05 2071.44,869.04 2059.44,903.54 2033.94,923.04" fill="none" stroke="#eceef5" stroke-width="2" opacity="0.9" stroke-linecap="round" stroke-linejoin="round"/>
<polyline points="1958.95,963.54 1966.45,947.04 2011.44,923.04 2033.94,923.04 2038.44,959.04 2033.94,1004.04" fill="none" stroke="#eceef5" stroke-width="2" opacity="0.9" stroke-linecap="round" stroke-linejoin="round"/>
<polyline points="2125.44,839.04 2149.44,869.04 2161.44,884.04" fill="none" stroke="#eceef5" stroke-width="2" opacity="0.9" stroke-linecap="round" stroke-linejoin="round"/>
<polyline points="2149.44,929.04 2134.44,974.04 2119.44,1004.04" fill="none" stroke="#eceef5" stroke-width="2" opacity="0.9" stroke-linecap="round" stroke-linejoin="round"/>
<path d="M2098.9 926.6l-2.2 2.4M2112.1 813.6l-0.4 3.4M2095.2 932.1l-1.4 3.5M2086.5 995.7l-0.3 2.8M2107.4 830.8l-0.3 3.2M2109.0 860.6l1.1 2.4M1924.8 912.9l-0.8 2.7M1922.4 924.5l-0.3 2.6M1927.4 937.4l-0.4 2.8" stroke="#5c6098" stroke-width="3.5" stroke-linecap="round" fill="none" opacity="0.82"/>
<path d="M2115.2 887.2l-0.5 3.3M2113.6 865.2l-0.5 3.5M2085.7 950.6l-1.0 2.9M2090.9 950.8l-0.1 2.3M2113.3 870.4l1.1 3.8M2115.4 834.6l-0.4 2.1M2091.7 939.0l-1.9 2.3M2102.1 921.9l-1.7 2.4M2112.7 894.8l-0.7 3.8M2106.6 811.4l1.4 3.7" stroke="#5c6098" stroke-width="4" stroke-linecap="round" fill="none" opacity="0.82"/>
<path d="M2113.6 826.4l0.5 3.7M2084.6 990.7l-0.8 2.8M2092.1 943.8l-1.1 3.3M2105.1 925.4l-0.5 3.1M2090.1 983.6l-0.1 3.4M1927.2 926.0l0.7 2.4M1928.9 917.6l0.6 2.9" stroke="#5c6098" stroke-width="4.5" stroke-linecap="round" fill="none" opacity="0.82"/>
<path d="M2112.6 908.1l-1.4 2.9M2101.6 935.0l-2.6 2.8M1921.5 942.0l-1.4 3.3M1921.9 951.4l-0.1 3.9" stroke="#666a9f" stroke-width="3.5" stroke-linecap="round" fill="none" opacity="0.82"/>
<path d="M2084.3 979.1l-1.0 2.4M2085.4 967.8l-0.1 3.1M2087.0 1002.4l-0.6 2.6M2086.8 960.6l0.3 3.8M2117.6 875.4l1.1 2.1M2113.2 847.0l1.0 3.6M2107.2 840.3l1.4 3.5M2115.6 857.1l1.3 3.6M2088.4 975.5l0.7 2.5M2106.6 912.8l-0.3 2.0M1920.5 932.9l0.3 2.5" stroke="#666a9f" stroke-width="4" stroke-linecap="round" fill="none" opacity="0.82"/>
<path d="M2113.6 880.5l-0.4 2.2M2107.8 900.4l-0.1 2.2M2084.7 984.3l-0.3 2.2M2090.2 955.6l-0.9 2.6M2089.3 990.5l0.0 3.6M1926.8 905.7l0.6 2.2" stroke="#666a9f" stroke-width="4.5" stroke-linecap="round" fill="none" opacity="0.82"/>
<path d="M2134.0 939.8l4.7 0.9M2117.2 902.0l3.7 4.8M1993.3 916.0l6.0 3.0M1986.6 839.3l4.5 2.1M2026.2 936.7l-1.7 6.4M2085.6 890.4l-5.3 4.4M2047.8 813.2l4.1 5.7M2034.1 829.1l5.5 3.5M2139.4 989.9l4.8 1.0M2163.3 1006.7l2.1 6.3M1979.4 955.5l4.5 2.3M1927.8 799.7l-4.6 3.3M1943.3 823.5l-1.8 6.2M1965.3 836.4l3.4 4.2M2124.5 891.7l3.5 5.1M1982.5 770.2l2.2 6.3M2073.2 804.8l0.5 6.4M2133.1 1005.0l4.4 2.9" stroke="#6d71a5" stroke-width="5" stroke-linecap="round" fill="none" opacity="0.82"/>
<path d="M2106.2 773.1l-2.2 3.9M1915.1 978.3l5.6 4.2M2051.4 838.1l1.1 5.9M1999.8 822.7l6.9 -0.5M2070.6 862.9l-3.4 5.8M1908.8 916.6l-1.0 4.7M2058.8 877.3l-2.5 4.1M2028.1 799.1l6.3 2.4M1920.6 743.7l-1.6 4.8M2158.8 965.9l3.7 3.4M1974.5 804.0l2.5 4.7M2053.5 805.7l4.0 5.5M2132.1 751.7l-2.5 3.3M2018.4 908.1l1.1 3.9M2011.4 766.1l3.6 1.9M1920.8 829.7l-2.6 3.4M2037.0 848.0l3.6 6.5M1968.9 780.9l-0.2 6.4M1908.1 771.1l-1.9 4.0M2053.5 850.2l0.4 5.7M2081.5 753.8l1.8 6.7M1988.5 964.2l1.7 6.8M2019.5 1000.2l-3.0 5.9M2046.1 751.5l5.8 0.3M2144.2 799.8l-1.7 6.2M2095.6 752.4l1.0 4.5M1993.1 905.4l5.3 1.7M2087.8 913.4l-2.2 5.7M1982.5 929.9l5.7 4.5M1909.0 831.5l-3.6 2.8M2009.8 903.9l2.8 5.5M1933.8 813.0l-2.4 6.0M1911.7 986.0l6.7 1.9M1919.1 773.5l-3.4 3.8M1994.8 825.7l6.1 2.9M2020.9 915.2l0.3 6.8" stroke="#6d71a5" stroke-width="5.5" stroke-linecap="round" fill="none" opacity="0.82"/>
<path d="M1907.0 1004.6l6.2 2.9M2010.0 809.2l4.8 -0.2M2009.6 950.0l-1.0 5.6M1936.3 851.1l-1.0 7.2M2117.7 996.3l5.4 1.9M2119.1 817.1l-2.3 3.7M1956.3 766.1l-3.2 6.4M2087.9 825.2l-1.9 3.7M2154.5 745.0l-3.8 5.1M1910.0 737.3l0.5 6.6M1955.2 786.7l-2.1 5.7M2134.1 977.4l6.6 2.7M2072.2 814.2l-0.8 5.1M1979.1 751.3l1.0 6.1M2160.1 980.7l3.8 4.7M1977.9 740.2l-0.5 4.3M1923.3 840.4l-4.1 6.2M1980.8 983.8l1.3 3.9M1931.6 943.4l4.5 1.4M2031.3 881.1l2.3 6.5M2044.3 775.6l5.0 2.2M2075.9 979.6l0.5 4.2M1945.4 875.6l4.3 4.1M1932.6 821.0l-3.2 5.6M1990.4 784.8l4.0 5.1M2041.8 860.4l0.2 7.2M2056.6 966.7l-2.3 4.6M1967.9 966.0l3.9 1.1M1922.2 860.9l-3.2 4.4M1916.9 794.4l-3.4 4.9M1976.0 923.5l6.7 0.6M2024.7 738.1l6.8 2.0M2092.9 812.1l-2.5 3.7M2053.8 919.5l-3.7 4.2" stroke="#6d71a5" stroke-width="6" stroke-linecap="round" fill="none" opacity="0.82"/>
<path d="M2096.4 985.1l3.1 3.6M2100.8 886.7l-2.9 4.5M2098.8 864.3l-2.6 4.5M2044.8 873.3l0.7 4.1M2106.1 789.9l-3.6 4.9M2147.0 739.7l-3.4 3.6M2132.5 884.6l2.5 4.1M2160.3 755.8l-1.0 6.0M2155.4 777.3l0.6 5.2M2137.6 927.3l5.2 0.7M2008.1 933.2l1.7 7.2M2132.2 757.8l-5.4 4.9M1931.8 962.5l4.5 0.2M1907.5 963.5l2.6 5.1M1966.3 920.7l6.7 1.5M1963.6 810.3l0.4 4.6M2103.3 764.7l-2.1 4.1" stroke="#6d71a5" stroke-width="6.5" stroke-linecap="round" fill="none" opacity="0.82"/>
<path d="M1990.8 776.0l3.4 5.3M2078.2 845.0l-2.2 5.0M1943.7 1002.4l3.9 1.4M1956.4 893.5l5.4 1.4M2157.3 959.2l4.7 2.4M2010.1 923.0l1.9 4.5M1988.8 945.4l3.7 2.9M2041.7 928.6l-3.5 4.3M1933.3 905.7l3.9 5.3M1997.5 776.2l4.0 3.1M1972.1 959.9l5.3 2.6M2075.5 995.8l1.7 7.1M2001.5 946.6l0.7 4.0M2154.0 989.7l3.9 5.4M2108.5 967.2l3.5 2.1" stroke="#767aab" stroke-width="5" stroke-linecap="round" fill="none" opacity="0.82"/>
<path d="M1964.7 929.3l5.3 1.6M2015.8 855.6l3.4 2.9M2067.5 988.3l1.3 5.7M2084.8 803.7l-0.9 4.6M2095.6 873.6l-3.9 4.8M2099.6 996.1l4.0 1.8M1967.3 940.6l6.1 1.1M2135.9 907.4l4.4 2.7M1980.3 943.5l6.3 3.0M1906.2 923.5l0.8 6.6M2013.1 883.6l4.5 3.0M1994.6 881.9l5.1 0.5M1981.8 762.5l2.7 6.0M2095.4 788.0l-2.2 3.4M2063.7 978.0l-1.9 6.4M1918.6 803.0l-5.1 4.3M2110.2 944.9l5.1 2.7M2123.3 863.6l0.9 4.3M2048.5 927.4l-1.9 4.2M2012.5 744.7l6.2 2.6M2044.7 740.5l6.0 2.2M2100.3 802.2l-3.9 3.4M2006.0 915.1l5.3 5.2M1972.7 861.0l5.7 0.5M2050.3 995.2l-2.7 3.3M1935.4 801.0l-5.3 4.7M2076.0 875.3l-5.1 5.0M2110.4 759.5l-1.6 4.2M2143.9 774.4l-2.7 4.5M2076.1 884.8l-3.7 6.3M2011.7 861.6l6.0 4.5M1943.6 977.9l4.4 -0.3" stroke="#767aab" stroke-width="5.5" stroke-linecap="round" fill="none" opacity="0.82"/>
<path d="M2118.2 771.4l-3.5 5.5M2001.1 975.4l-1.6 5.5M2085.6 863.4l-3.8 4.0M2090.0 922.5l-1.2 5.6M1951.3 741.2l-3.3 2.4M1936.5 782.5l-4.6 5.6M1956.3 917.0l5.9 3.0M1993.3 846.0l5.5 2.0M2020.3 789.6l5.4 1.8M2004.7 800.9l4.6 1.2M1915.2 839.3l-2.9 3.5M1971.4 890.4l4.9 2.0M2083.3 901.7l-3.9 4.4M1956.8 839.1l4.6 4.4M1923.7 877.5l0.4 4.0M2019.7 812.9l6.3 -0.0M2058.8 908.7l-4.0 3.8M1962.7 996.0l6.2 4.2M1963.2 798.3l1.4 6.9M2100.1 817.6l-3.7 6.1M1993.0 994.0l-0.3 4.7M2097.3 942.5l3.2 5.0M1947.7 931.1l4.4 0.2M1957.6 978.6l6.5 1.6M1990.6 865.7l6.6 0.5M2120.0 1006.2l5.0 0.1" stroke="#767aab" stroke-width="6" stroke-linecap="round" fill="none" opacity="0.82"/>
<path d="M2073.4 914.6l-5.0 4.2M1996.9 854.4l6.8 2.1M2089.9 769.5l0.9 6.4M2063.1 962.6l-3.7 4.9M2001.1 845.5l4.6 1.5M2031.5 979.5l-4.1 4.7M1946.5 856.0l1.6 7.3M2049.8 782.4l4.9 1.8M2121.5 879.5l3.2 6.7M2144.3 968.2l6.9 2.7M2065.6 903.1l-4.4 4.5M2027.5 901.9l1.3 6.6" stroke="#767aab" stroke-width="6.5" stroke-linecap="round" fill="none" opacity="0.82"/>
<path d="M1973.4 748.5l-1.3 6.2M2093.2 745.6l0.7 4.9M2110.5 1008.3l5.0 2.2M1915.3 890.5l-0.7 6.6M2101.1 973.8l3.5 2.1M2079.7 918.3l-1.2 4.5M1958.7 862.9l5.7 3.6M2112.2 958.8l5.5 1.6M2025.6 768.3l6.7 2.1M1919.3 964.5l6.5 2.8M2040.4 799.0l3.6 3.4M2109.2 996.8l7.1 1.0M1955.2 933.3l7.3 0.4M1962.1 744.3l-4.9 5.3M2100.8 1006.8l6.2 3.0M2063.2 892.5l-3.7 3.1M1936.3 828.8l-4.0 6.1M2039.8 766.0l7.3 1.0M1963.3 911.3l6.2 1.7M1985.3 802.6l4.6 4.1" stroke="#7f83b2" stroke-width="5" stroke-linecap="round" fill="none" opacity="0.82"/>
<path d="M2068.3 935.1l-2.3 4.3M2041.7 994.6l-2.0 4.1M2062.1 815.8l1.9 4.9M1994.7 744.2l2.2 4.8M1942.6 941.1l5.9 1.7M1951.6 882.2l4.0 1.9M1963.0 984.3l5.5 2.2M1956.5 812.7l0.6 4.1M2060.4 788.3l2.2 5.7M2069.0 757.5l4.4 2.9M2055.5 901.9l-3.4 4.2M2092.9 847.2l-2.7 3.0M1956.7 991.2l5.6 3.4M1911.3 778.0l-1.3 5.5M2085.9 790.2l-0.8 5.3M2009.6 985.1l-2.8 6.4M1994.8 798.2l5.7 3.7M2120.8 980.4l5.5 -0.3M1935.6 896.3l5.1 5.5M2062.1 916.8l-3.0 4.0M2162.6 772.6l-0.9 5.4M1931.4 756.2l-3.5 5.6M2128.9 958.9l5.8 1.6M2060.5 741.3l5.8 1.2M2051.9 755.0l7.1 0.7M1925.2 987.2l6.0 1.8M2129.6 797.1l-2.8 3.0M2102.9 952.9l4.1 3.6M1958.3 969.0l4.2 2.3M1944.0 772.8l-2.5 4.9M2074.6 746.8l4.3 4.9M2075.8 950.6l-1.5 5.7M2158.0 814.8l4.0 4.5M2004.8 883.3l3.7 1.9M2066.1 951.0l-2.5 4.1M2129.1 998.0l6.6 2.8M2162.5 833.7l4.6 3.7M2021.9 759.6l6.6 2.3M1997.0 929.1l4.3 6.1" stroke="#7f83b2" stroke-width="5.5" stroke-linecap="round" fill="none" opacity="0.82"/>
<path d="M2096.1 901.9l-1.8 6.8M1941.6 835.8l-1.1 5.5M2144.4 785.6l-3.7 5.7M2115.5 749.0l-1.6 4.4M2158.6 806.1l1.9 6.3M2033.7 918.6l-2.3 5.3M2112.0 928.0l3.4 4.1M1992.4 977.8l1.4 5.4M1917.0 1004.8l6.6 2.2M2024.9 909.3l1.6 6.6M2134.8 785.4l-2.5 3.8M2021.9 965.6l-2.7 4.4M2150.3 751.7l-2.6 4.5M2064.4 882.2l-2.9 4.6M2030.7 754.7l4.2 1.6M2141.7 996.4l5.1 1.9M2063.5 865.2l-3.7 6.2M2073.3 830.2l-3.8 6.1M1921.3 780.6l-4.1 5.3M2147.4 811.0l0.6 4.7M2027.4 947.3l-1.7 6.0M1955.5 757.8l-5.0 4.6M2115.4 984.6l5.1 1.8M2018.4 951.5l-3.4 6.5M1950.3 945.5l4.1 1.2M1939.9 904.4l5.8 3.5M1974.3 972.9l4.1 5.9M2098.4 966.5l2.5 3.8M1913.0 748.7l-0.2 4.7M1931.2 867.6l-0.9 5.6M2080.4 812.3l-1.0 6.7M2121.2 941.4l6.5 2.0M2028.1 998.2l-4.1 3.3M2008.4 749.4l3.4 2.3M1998.4 959.2l2.2 5.1M2107.4 983.8l6.5 0.6M2037.0 816.3l5.9 4.1" stroke="#7f83b2" stroke-width="6" stroke-linecap="round" fill="none" opacity="0.82"/>
<path d="M2039.2 786.7l6.0 1.5M2125.7 765.2l-3.5 4.7M2076.7 1004.8l3.3 3.0M1918.2 880.0l-2.0 6.3M2120.9 932.6l5.4 3.8M1945.2 814.4l-2.6 4.5M1967.7 869.0l3.4 2.5M1952.6 1004.4l3.8 1.6M2074.2 765.3l2.7 5.3M1909.4 888.9l-3.2 6.5M1936.0 740.3l-4.0 6.3M2143.6 763.9l-2.6 5.7M2119.1 973.4l4.2 0.0M2090.3 856.0l-4.0 3.8M2067.5 850.8l-1.2 4.3" stroke="#7f83b2" stroke-width="6.5" stroke-linecap="round" fill="none" opacity="0.82"/>
<path d="M2137.6 951.8l6.4 2.5M1979.0 1007.2l-0.1 6.5M2011.4 894.2l5.5 4.3M2102.0 857.0l-3.0 3.0M1937.7 859.4l1.2 4.7M2071.2 957.1l-1.3 4.1M2122.9 920.1l3.8 3.3M2071.6 892.1l-3.6 3.3" stroke="#888cb8" stroke-width="5" stroke-linecap="round" fill="none" opacity="0.82"/>
<path d="M1971.0 902.0l5.3 1.9M2050.9 984.1l-3.0 4.8M2029.8 1006.1l-5.3 5.3M1922.3 890.1l1.0 5.9M1987.7 900.1l4.7 1.7M2147.2 954.6l6.9 1.6M2074.3 785.5l1.7 4.5M1916.0 918.7l2.2 4.3M2016.2 868.5l5.5 5.0M1902.4 955.0l1.2 3.8M1914.0 907.3l0.3 4.0M2047.5 912.4l-4.6 5.4M1947.1 841.9l0.2 6.7M2048.3 885.4l-3.5 6.6M2163.2 745.7l-0.1 6.0M2130.4 742.3l-4.6 3.8M1930.3 807.1l-4.2 4.8M2045.2 1004.9l-2.6 6.7M1958.6 822.5l2.4 5.6M2001.0 753.3l5.3 3.1M2060.7 992.3l0.4 6.5M2089.6 759.3l1.4 4.1M2050.8 860.2l-0.6 6.9M1982.9 810.4l6.9 2.3M1911.9 757.5l-2.4 5.8M2035.0 838.7l3.2 5.7M1920.7 996.5l4.9 0.4M1980.9 850.4l7.0 1.7M2081.7 870.2l-3.0 3.7M2040.8 918.4l-2.5 4.3M2005.2 777.6l3.6 1.8M2155.9 973.8l4.3 3.3M2119.1 806.9l-4.1 3.8M1974.7 882.8l4.4 1.7" stroke="#888cb8" stroke-width="5.5" stroke-linecap="round" fill="none" opacity="0.82"/>
<path d="M2088.1 877.0l-2.3 3.7M1975.1 815.5l2.8 3.4M1919.6 901.5l1.5 4.3M1942.6 797.9l-4.3 5.2M2131.7 848.6l2.0 4.4M2023.5 751.0l6.1 1.7M2009.6 788.7l4.2 0.3M1928.2 792.2l-3.2 3.4M2005.5 742.4l2.8 3.0M2065.7 839.6l-0.5 5.3M1961.2 874.3l5.5 2.7M2060.3 762.2l4.1 2.9M2125.7 854.1l-1.6 6.5M2008.6 963.4l-0.4 4.6M1958.6 956.8l4.8 1.3M2097.0 839.2l-3.8 4.6M2149.9 793.5l1.4 6.3M1952.6 903.5l5.3 1.3M1981.9 880.7l6.6 -0.1M2149.1 978.2l3.7 1.8M1984.5 917.7l7.1 2.2M1968.8 766.2l-2.1 4.4M1911.2 812.4l-3.7 3.0M1949.6 829.9l2.4 6.2M2075.2 821.1l-1.0 4.6M2028.8 863.9l2.8 4.4M1965.9 822.8l3.3 3.1M1970.8 788.7l3.2 5.5M2016.9 991.4l-2.5 6.0M1957.8 803.8l-0.5 5.8M1949.5 801.2l-1.7 5.7M1905.1 996.0l4.8 2.2M2092.7 895.2l-2.8 4.4M1987.1 793.9l2.9 3.2M1994.6 894.1l6.0 1.2M2123.1 756.8l-2.4 5.7M1912.0 879.3l-4.0 4.7M2133.5 775.3l-3.8 5.5" stroke="#888cb8" stroke-width="6" stroke-linecap="round" fill="none" opacity="0.82"/>
<path d="M2047.5 897.4l-2.7 6.1M1969.4 831.0l4.1 3.0M2130.1 972.0l4.6 -0.1M1903.5 941.3l1.5 6.3M2035.5 777.8l6.0 0.7M2040.1 969.6l-4.4 5.5M1976.1 997.0l2.1 4.8M1905.4 762.2l-0.6 5.3M1973.8 932.4l6.1 3.8M2112.2 779.2l-3.0 4.4M2109.7 919.8l2.8 6.7M1947.3 747.0l-3.7 3.1M2060.2 934.5l-4.4 3.9M2034.3 794.1l4.3 0.8M2130.0 865.7l0.6 5.7M1905.9 900.6l-1.0 4.7M1928.9 994.4l5.6 0.8M1941.1 966.4l4.1 0.4M2091.3 885.3l-4.2 4.4" stroke="#888cb8" stroke-width="6.5" stroke-linecap="round" fill="none" opacity="0.82"/>
<path d="M2079 785l4 3M2084 819l3 1M1964.5 888l2-5M2083 885l6 4M2081 902l4 2M2069 912l3 1.5M2024 942l6-2M1978 958l3-4M1966.5 965l2-4M2074 891l3 2" stroke="#6a4a3b" stroke-width="6.5" stroke-linecap="round" opacity="0.85"/>
</g></g>
<rect x="1643" y="468" width="522" height="542.5" fill="none" stroke="#000" stroke-width="3"/>
<line x1="1903" y1="468" x2="1903" y2="1010.5" stroke="#000" stroke-width="4"/>
<line x1="1643" y1="739" x2="2165" y2="739" stroke="#000" stroke-width="2.8"/>
<rect x="2057.4" y="722.2" width="97.8" height="8.8" fill="#000"/>
<rect x="2087.3" y="991.2" width="60.4" height="8.5" fill="#000"/>
<path d="M1711.5 660L1735.4 625.4M1708.5 638.9L1735.4 625.4L1732.3 655.7M2072 555L2117 556.7M2092.2 541L2117 556.7L2090.7 570.7M2084.7 643.7L2129.7 646M2104.2 630.2L2129.7 646L2103.2 659.5M1997.4 599L1978.2 630M1979.3 600.2L1978.2 630L2004 615.2M1880 642.2L1922.7 643.7M1897.2 628.3L1922.7 643.7L1896.5 658M1924 679.3L1951.2 648.5M1922.7 658.7L1951.2 648.5L1944.5 677.8M1968.5 694L1992.2 660M1965.5 673L1992.2 660L1989.5 689.5M1904 705.2L1948.5 706.7M1922.7 691.7L1948.5 706.7L1922 720.2M1967 736.7L1994 707.2M1966 716.8L1994 707.2L1988 736M1725.4 834.2L1749.7 799.6M1722.8 813.2L1749.7 799.6L1747.2 829.6M1775.8 911.2L1745.4 885M1774.6 891.2L1745.4 885L1755.8 913.5M1637.7 952.7L1661.5 918.8M1634.6 931.9L1661.5 918.8L1658.9 948.1M2107.7 814.5L2088.5 789.3M2115.9 801.4L2088.5 789.3L2092.7 819.3M2114.4 852L2096 828M2123 839.2L2096 828L2099.3 856.5M1938.2 927.4L1961.7 893M1934 906L1961.7 893L1959.2 922.5M2114.4 920.2L2095.7 895.8M2123 907.8L2095.7 895.8L2098.7 925.5M2104.2 937.5L2086.2 912.7M2113.7 925.5L2086.2 912.7L2090 942.7M2042.4 952.8L2065.2 918.7M2039 932L2065.2 918.7L2063.4 948M1940 1001L1963.2 966.7M1936.5 980L1963.2 966.7L1961 996" fill="none" stroke="#f0271d" stroke-width="2.4" stroke-linejoin="miter"/>
<text x="11" y="643.2" font-size="46" font-weight="bold">e</text>
<text x="239.3" y="675.5" font-size="32" font-weight="bold" font-style="italic">Apc<tspan font-size="21.44" dy="-10.24">fl/fl</tspan></text>
<rect x="142.15" y="905" width="6.6" height="31" fill="#686868"/>
<rect x="139.7" y="905" width="11.5" height="5.3" fill="#686868"/>
<rect x="139.7" y="930.7" width="11.5" height="5.3" fill="#686868"/>
<path d="M138.05 982V924.95H152.85V982" fill="none" stroke="#686868" stroke-width="8.5"/>
<path d="M173.65 982V948.25H188.45V982" fill="none" stroke="#d0d0d0" stroke-width="8.5"/>
<rect x="236.3" y="908" width="6.6" height="25" fill="#686868"/>
<rect x="233.85" y="908" width="11.5" height="5.3" fill="#686868"/>
<rect x="233.85" y="927.7" width="11.5" height="5.3" fill="#686868"/>
<rect x="271.6" y="909" width="6.6" height="30" fill="#d0d0d0"/>
<rect x="269.15" y="909" width="11.5" height="5.3" fill="#d0d0d0"/>
<rect x="269.15" y="933.7" width="11.5" height="5.3" fill="#d0d0d0"/>
<path d="M232.25 982V924.95H246.95V982" fill="none" stroke="#686868" stroke-width="8.5"/>
<path d="M267.55 982V928.45H282.25V982" fill="none" stroke="#d0d0d0" stroke-width="8.5"/>
<rect x="330.1" y="910" width="6.6" height="21" fill="#686868"/>
<rect x="327.65" y="910" width="11.5" height="5.3" fill="#686868"/>
<rect x="327.65" y="925.7" width="11.5" height="5.3" fill="#686868"/>
<rect x="365.15" y="903" width="6.6" height="14" fill="#d0d0d0"/>
<rect x="362.7" y="903" width="11.5" height="5.3" fill="#d0d0d0"/>
<rect x="362.7" y="911.7" width="11.5" height="5.3" fill="#d0d0d0"/>
<path d="M326.05 982V924.95H340.75V982" fill="none" stroke="#686868" stroke-width="8.5"/>
<path d="M361.15 982V914.25H375.75V982" fill="none" stroke="#d0d0d0" stroke-width="8.5"/>
<rect x="459.2" y="788.3" width="6.6" height="82.7" fill="#d0d0d0"/>
<rect x="456.75" y="788.3" width="11.5" height="5.3" fill="#d0d0d0"/>
<rect x="456.75" y="865.7" width="11.5" height="5.3" fill="#d0d0d0"/>
<path d="M419.25 982V924.95H434.05V982" fill="none" stroke="#686868" stroke-width="8.5"/>
<path d="M455.25 982V834.05H469.75V982" fill="none" stroke="#d0d0d0" stroke-width="8.5"/>
<rect x="553.2" y="924.2" width="6.6" height="25.8" fill="#d0d0d0"/>
<rect x="550.75" y="924.2" width="11.5" height="5.3" fill="#d0d0d0"/>
<rect x="550.75" y="944.7" width="11.5" height="5.3" fill="#d0d0d0"/>
<path d="M513.15 982V924.95H527.95V982" fill="none" stroke="#686868" stroke-width="8.5"/>
<path d="M549.25 982V941.25H563.75V982" fill="none" stroke="#d0d0d0" stroke-width="8.5"/>
<line x1="122" y1="672.6" x2="122" y2="984.7" stroke="#000" stroke-width="5.5"/>
<line x1="105.8" y1="982" x2="585.6" y2="982" stroke="#000" stroke-width="5.5"/>
<line x1="105.8" y1="982" x2="122" y2="982" stroke="#000" stroke-width="5.5"/>
<text x="100" y="993.5" font-size="32" font-weight="bold" text-anchor="end">0</text>
<line x1="105.8" y1="920.66" x2="122" y2="920.66" stroke="#000" stroke-width="5.5"/>
<text x="100" y="932.16" font-size="32" font-weight="bold" text-anchor="end">1</text>
<line x1="105.8" y1="859.32" x2="122" y2="859.32" stroke="#000" stroke-width="5.5"/>
<text x="100" y="870.82" font-size="32" font-weight="bold" text-anchor="end">2</text>
<line x1="105.8" y1="797.98" x2="122" y2="797.98" stroke="#000" stroke-width="5.5"/>
<text x="100" y="809.48" font-size="32" font-weight="bold" text-anchor="end">3</text>
<line x1="105.8" y1="736.64" x2="122" y2="736.64" stroke="#000" stroke-width="5.5"/>
<text x="100" y="748.14" font-size="32" font-weight="bold" text-anchor="end">4</text>
<line x1="105.8" y1="675.3" x2="122" y2="675.3" stroke="#000" stroke-width="5.5"/>
<text x="100" y="686.8" font-size="32" font-weight="bold" text-anchor="end">5</text>
<line x1="163.1" y1="982" x2="163.1" y2="998.5" stroke="#000" stroke-width="5.5"/>
<line x1="257" y1="982" x2="257" y2="998.5" stroke="#000" stroke-width="5.5"/>
<line x1="350.7" y1="982" x2="350.7" y2="998.5" stroke="#000" stroke-width="5.5"/>
<line x1="444.4" y1="982" x2="444.4" y2="998.5" stroke="#000" stroke-width="5.5"/>
<line x1="538.2" y1="982" x2="538.2" y2="998.5" stroke="#000" stroke-width="5.5"/>
<text x="59.4" y="836" font-size="32" font-weight="bold" text-anchor="middle" transform="rotate(-90 59.4 836)">relative expression</text>
<circle cx="140.3" cy="907.4" r="5.6" fill="none" stroke="#000" stroke-width="5.6"/>
<circle cx="150" cy="905.7" r="5.6" fill="none" stroke="#000" stroke-width="5.6"/>
<circle cx="145.6" cy="923.7" r="5.6" fill="none" stroke="#000" stroke-width="5.6"/>
<circle cx="145.6" cy="945.4" r="5.6" fill="none" stroke="#000" stroke-width="5.6"/>
<circle cx="173" cy="942.2" r="5.6" fill="none" stroke="#f0271d" stroke-width="5.6"/>
<circle cx="178.3" cy="944.5" r="5.6" fill="none" stroke="#f0271d" stroke-width="5.6"/>
<circle cx="185.3" cy="942.7" r="5.6" fill="none" stroke="#f0271d" stroke-width="5.6"/>
<circle cx="189.7" cy="940.1" r="5.6" fill="none" stroke="#f0271d" stroke-width="5.6"/>
<circle cx="239.5" cy="898.1" r="5.6" fill="none" stroke="#000" stroke-width="5.6"/>
<circle cx="233.3" cy="913.3" r="5.6" fill="none" stroke="#000" stroke-width="5.6"/>
<circle cx="245.3" cy="923.7" r="5.6" fill="none" stroke="#000" stroke-width="5.6"/>
<circle cx="239.5" cy="948.9" r="5.6" fill="none" stroke="#000" stroke-width="5.6"/>
<circle cx="274.8" cy="891" r="5.6" fill="none" stroke="#f0271d" stroke-width="5.6"/>
<circle cx="274.8" cy="921.4" r="5.6" fill="none" stroke="#f0271d" stroke-width="5.6"/>
<circle cx="280.6" cy="938.3" r="5.6" fill="none" stroke="#f0271d" stroke-width="5.6"/>
<circle cx="269.2" cy="943.6" r="5.6" fill="none" stroke="#f0271d" stroke-width="5.6"/>
<circle cx="327.4" cy="905.3" r="5.6" fill="none" stroke="#000" stroke-width="5.6"/>
<circle cx="339.3" cy="905.3" r="5.6" fill="none" stroke="#000" stroke-width="5.6"/>
<circle cx="333.6" cy="923.8" r="5.6" fill="none" stroke="#000" stroke-width="5.6"/>
<circle cx="333.6" cy="948" r="5.6" fill="none" stroke="#000" stroke-width="5.6"/>
<circle cx="368.4" cy="892.4" r="5.6" fill="none" stroke="#f0271d" stroke-width="5.6"/>
<circle cx="365.4" cy="905.7" r="5.6" fill="none" stroke="#f0271d" stroke-width="5.6"/>
<circle cx="370.7" cy="917.1" r="5.6" fill="none" stroke="#f0271d" stroke-width="5.6"/>
<circle cx="368" cy="922.4" r="5.6" fill="none" stroke="#f0271d" stroke-width="5.6"/>
<circle cx="418" cy="920.3" r="5.6" fill="none" stroke="#000" stroke-width="5.6"/>
<circle cx="435.6" cy="911.5" r="5.6" fill="none" stroke="#000" stroke-width="5.6"/>
<circle cx="430" cy="922.4" r="5.6" fill="none" stroke="#000" stroke-width="5.6"/>
<circle cx="424.1" cy="928.6" r="5.6" fill="none" stroke="#000" stroke-width="5.6"/>
<circle cx="462.4" cy="727.7" r="5.6" fill="none" stroke="#f0271d" stroke-width="5.6"/>
<circle cx="462.4" cy="826.6" r="5.6" fill="none" stroke="#f0271d" stroke-width="5.6"/>
<circle cx="462.4" cy="854" r="5.6" fill="none" stroke="#f0271d" stroke-width="5.6"/>
<circle cx="462.4" cy="909.7" r="5.6" fill="none" stroke="#f0271d" stroke-width="5.6"/>
<circle cx="517.7" cy="914.5" r="5.6" fill="none" stroke="#000" stroke-width="5.6"/>
<circle cx="523.9" cy="920.7" r="5.6" fill="none" stroke="#000" stroke-width="5.6"/>
<circle cx="520.3" cy="924.2" r="5.6" fill="none" stroke="#000" stroke-width="5.6"/>
<circle cx="556.2" cy="908.7" r="5.6" fill="none" stroke="#f0271d" stroke-width="5.6"/>
<circle cx="553" cy="938.3" r="5.6" fill="none" stroke="#f0271d" stroke-width="5.6"/>
<circle cx="559.2" cy="942.7" r="5.6" fill="none" stroke="#f0271d" stroke-width="5.6"/>
<circle cx="556.2" cy="956.3" r="5.6" fill="none" stroke="#f0271d" stroke-width="5.6"/>
<path d="M146.8 881.5V858.65H179V902.1" fill="none" stroke="#000" stroke-width="8.3"/>
<path d="M241.4 873.9V850.65H274V868.2" fill="none" stroke="#000" stroke-width="8.3"/>
<path d="M336.2 874.8V852.15H369.5V869.5" fill="none" stroke="#000" stroke-width="8.3"/>
<path d="M423.4 885V689.65H464.5V706.7" fill="none" stroke="#000" stroke-width="8.3"/>
<path d="M521.5 890.3V867.45H554.3V884.5" fill="none" stroke="#000" stroke-width="8.3"/>
<text x="128" y="845.1" font-size="23.2" letter-spacing="1.45">p=0.24</text>
<text x="222.4" y="837.7" font-size="23.2" letter-spacing="1.45">p=0.86</text>
<text x="317.7" y="838.6" font-size="23.2" letter-spacing="1.45">p=0.62</text>
<text x="406.5" y="679.2" font-size="23.2" letter-spacing="1.45">p=0.24</text>
<text x="502.7" y="854.1" font-size="23.2" letter-spacing="1.45">p=0.57</text>
<text x="170.7" y="1026.6" font-size="30" font-style="italic" text-anchor="end" letter-spacing="1.1" transform="rotate(-45 170.7 1026.6)">Trp53</text>
<text x="264.6" y="1026.6" font-size="30" font-style="italic" text-anchor="end" letter-spacing="1.1" transform="rotate(-45 264.6 1026.6)">Cdkn1a</text>
<text x="358.3" y="1026.6" font-size="30" font-style="italic" text-anchor="end" letter-spacing="1.1" transform="rotate(-45 358.3 1026.6)">Bax</text>
<text x="452" y="1026.6" font-size="30" font-style="italic" text-anchor="end" letter-spacing="1.1" transform="rotate(-45 452 1026.6)">Bbc3</text>
<text x="545.8" y="1026.6" font-size="30" font-style="italic" text-anchor="end" letter-spacing="1.1" transform="rotate(-45 545.8 1026.6)">Pmaip1</text>
<rect x="517.3" y="700.4" width="62.5" height="12.3" fill="#686868"/>
<rect x="517.3" y="749.8" width="62.5" height="12.4" fill="#d0d0d0"/>
<text x="616.5" y="720.3" font-size="32.5" font-weight="bold" font-style="italic">Npm1<tspan font-size="21.78" dy="-10.4">+/+</tspan></text>
<text x="616.5" y="770.1" font-size="32.5" font-weight="bold" font-style="italic" fill="#f0271d">Npm1<tspan font-size="21.78" dy="-10.4">fl/fl</tspan></text>
<text x="795" y="641.8" font-size="46" font-weight="bold">f</text>
<text x="1022" y="677" font-size="32" font-weight="bold" font-style="italic">Apc<tspan font-size="21.44" dy="-10.24">fl/fl</tspan><tspan dy="10.24"> Kras</tspan><tspan font-size="21.44" dy="-10.24">G12D/+</tspan></text>
<rect x="950.2" y="908.3" width="6.6" height="23.7" fill="#686868"/>
<rect x="947.75" y="908.3" width="11.5" height="5.3" fill="#686868"/>
<rect x="947.75" y="926.7" width="11.5" height="5.3" fill="#686868"/>
<rect x="985.65" y="915" width="6.6" height="13" fill="#d0d0d0"/>
<rect x="983.2" y="915" width="11.5" height="5.3" fill="#d0d0d0"/>
<rect x="983.2" y="922.7" width="11.5" height="5.3" fill="#d0d0d0"/>
<path d="M946.25 981.5V924.05H960.75V981.5" fill="none" stroke="#686868" stroke-width="8.5"/>
<path d="M981.55 981.5V925.25H996.35V981.5" fill="none" stroke="#d0d0d0" stroke-width="8.5"/>
<rect x="1044.1" y="908" width="6.6" height="24" fill="#686868"/>
<rect x="1041.65" y="908" width="11.5" height="5.3" fill="#686868"/>
<rect x="1041.65" y="926.7" width="11.5" height="5.3" fill="#686868"/>
<rect x="1079.4" y="904" width="6.6" height="23" fill="#d0d0d0"/>
<rect x="1076.95" y="904" width="11.5" height="5.3" fill="#d0d0d0"/>
<rect x="1076.95" y="921.7" width="11.5" height="5.3" fill="#d0d0d0"/>
<path d="M1040.15 981.5V924.05H1054.65V981.5" fill="none" stroke="#686868" stroke-width="8.5"/>
<path d="M1075.45 981.5V919.65H1089.95V981.5" fill="none" stroke="#d0d0d0" stroke-width="8.5"/>
<rect x="1138.05" y="905.7" width="6.6" height="28.3" fill="#686868"/>
<rect x="1135.6" y="905.7" width="11.5" height="5.3" fill="#686868"/>
<rect x="1135.6" y="928.7" width="11.5" height="5.3" fill="#686868"/>
<rect x="1173.05" y="874" width="6.6" height="31" fill="#d0d0d0"/>
<rect x="1170.6" y="874" width="11.5" height="5.3" fill="#d0d0d0"/>
<rect x="1170.6" y="899.7" width="11.5" height="5.3" fill="#d0d0d0"/>
<path d="M1133.95 981.5V924.05H1148.75V981.5" fill="none" stroke="#686868" stroke-width="8.5"/>
<path d="M1168.95 981.5V894.05H1183.75V981.5" fill="none" stroke="#d0d0d0" stroke-width="8.5"/>
<rect x="1231.5" y="904.8" width="6.6" height="30.2" fill="#686868"/>
<rect x="1229.05" y="904.8" width="11.5" height="5.3" fill="#686868"/>
<rect x="1229.05" y="929.7" width="11.5" height="5.3" fill="#686868"/>
<rect x="1266.95" y="895" width="6.6" height="27" fill="#d0d0d0"/>
<rect x="1264.5" y="895" width="11.5" height="5.3" fill="#d0d0d0"/>
<rect x="1264.5" y="916.7" width="11.5" height="5.3" fill="#d0d0d0"/>
<path d="M1227.55 981.5V924.05H1242.05V981.5" fill="none" stroke="#686868" stroke-width="8.5"/>
<path d="M1262.85 981.5V912.55H1277.65V981.5" fill="none" stroke="#d0d0d0" stroke-width="8.5"/>
<rect x="1325.45" y="907.5" width="6.6" height="24.5" fill="#686868"/>
<rect x="1323" y="907.5" width="11.5" height="5.3" fill="#686868"/>
<rect x="1323" y="926.7" width="11.5" height="5.3" fill="#686868"/>
<rect x="1360.75" y="906.5" width="6.6" height="26.5" fill="#d0d0d0"/>
<rect x="1358.3" y="906.5" width="11.5" height="5.3" fill="#d0d0d0"/>
<rect x="1358.3" y="927.7" width="11.5" height="5.3" fill="#d0d0d0"/>
<path d="M1321.45 981.5V924.05H1336.05V981.5" fill="none" stroke="#686868" stroke-width="8.5"/>
<path d="M1356.75 981.5V924.05H1371.35V981.5" fill="none" stroke="#d0d0d0" stroke-width="8.5"/>
<line x1="930.2" y1="672.3" x2="930.2" y2="984.2" stroke="#000" stroke-width="5.5"/>
<line x1="914.1" y1="981.5" x2="1393.3" y2="981.5" stroke="#000" stroke-width="5.5"/>
<line x1="914.1" y1="981.5" x2="930.2" y2="981.5" stroke="#000" stroke-width="5.5"/>
<text x="907.5" y="993" font-size="32" font-weight="bold" text-anchor="end">0</text>
<line x1="914.1" y1="920.2" x2="930.2" y2="920.2" stroke="#000" stroke-width="5.5"/>
<text x="907.5" y="931.7" font-size="32" font-weight="bold" text-anchor="end">1</text>
<line x1="914.1" y1="858.9" x2="930.2" y2="858.9" stroke="#000" stroke-width="5.5"/>
<text x="907.5" y="870.4" font-size="32" font-weight="bold" text-anchor="end">2</text>
<line x1="914.1" y1="797.6" x2="930.2" y2="797.6" stroke="#000" stroke-width="5.5"/>
<text x="907.5" y="809.1" font-size="32" font-weight="bold" text-anchor="end">3</text>
<line x1="914.1" y1="736.3" x2="930.2" y2="736.3" stroke="#000" stroke-width="5.5"/>
<text x="907.5" y="747.8" font-size="32" font-weight="bold" text-anchor="end">4</text>
<line x1="914.1" y1="675" x2="930.2" y2="675" stroke="#000" stroke-width="5.5"/>
<text x="907.5" y="686.5" font-size="32" font-weight="bold" text-anchor="end">5</text>
<line x1="971" y1="981.5" x2="971" y2="998" stroke="#000" stroke-width="5.5"/>
<line x1="1064.7" y1="981.5" x2="1064.7" y2="998" stroke="#000" stroke-width="5.5"/>
<line x1="1158.4" y1="981.5" x2="1158.4" y2="998" stroke="#000" stroke-width="5.5"/>
<line x1="1252.1" y1="981.5" x2="1252.1" y2="998" stroke="#000" stroke-width="5.5"/>
<line x1="1346" y1="981.5" x2="1346" y2="998" stroke="#000" stroke-width="5.5"/>
<text x="867.4" y="836" font-size="32" font-weight="bold" text-anchor="middle" transform="rotate(-90 867.4 836)">relative expression</text>
<circle cx="953.5" cy="896" r="5.6" fill="none" stroke="#000" stroke-width="5.6"/>
<circle cx="950.3" cy="922.4" r="5.6" fill="none" stroke="#000" stroke-width="5.6"/>
<circle cx="957.4" cy="926" r="5.6" fill="none" stroke="#000" stroke-width="5.6"/>
<circle cx="953.5" cy="934.8" r="5.6" fill="none" stroke="#000" stroke-width="5.6"/>
<circle cx="989.2" cy="908.3" r="5.6" fill="none" stroke="#f0271d" stroke-width="5.6"/>
<circle cx="984.7" cy="920.7" r="5.6" fill="none" stroke="#f0271d" stroke-width="5.6"/>
<circle cx="991.8" cy="924.2" r="5.6" fill="none" stroke="#f0271d" stroke-width="5.6"/>
<circle cx="989.2" cy="927.7" r="5.6" fill="none" stroke="#f0271d" stroke-width="5.6"/>
<circle cx="1047.4" cy="898.6" r="5.6" fill="none" stroke="#000" stroke-width="5.6"/>
<circle cx="1046.5" cy="920.7" r="5.6" fill="none" stroke="#000" stroke-width="5.6"/>
<circle cx="1053.6" cy="923.3" r="5.6" fill="none" stroke="#000" stroke-width="5.6"/>
<circle cx="1041.6" cy="938.3" r="5.6" fill="none" stroke="#000" stroke-width="5.6"/>
<circle cx="1083" cy="891" r="5.6" fill="none" stroke="#f0271d" stroke-width="5.6"/>
<circle cx="1080" cy="918" r="5.6" fill="none" stroke="#f0271d" stroke-width="5.6"/>
<circle cx="1086.2" cy="924.2" r="5.6" fill="none" stroke="#f0271d" stroke-width="5.6"/>
<circle cx="1083" cy="933" r="5.6" fill="none" stroke="#f0271d" stroke-width="5.6"/>
<circle cx="1141.2" cy="889.8" r="5.6" fill="none" stroke="#000" stroke-width="5.6"/>
<circle cx="1141.2" cy="917.1" r="5.6" fill="none" stroke="#000" stroke-width="5.6"/>
<circle cx="1135.5" cy="938.3" r="5.6" fill="none" stroke="#000" stroke-width="5.6"/>
<circle cx="1147.4" cy="936.2" r="5.6" fill="none" stroke="#000" stroke-width="5.6"/>
<circle cx="1176.5" cy="854.5" r="5.6" fill="none" stroke="#f0271d" stroke-width="5.6"/>
<circle cx="1176.5" cy="890.3" r="5.6" fill="none" stroke="#f0271d" stroke-width="5.6"/>
<circle cx="1182.1" cy="901.3" r="5.6" fill="none" stroke="#f0271d" stroke-width="5.6"/>
<circle cx="1170.7" cy="912.2" r="5.6" fill="none" stroke="#f0271d" stroke-width="5.6"/>
<circle cx="1229.1" cy="896.8" r="5.6" fill="none" stroke="#000" stroke-width="5.6"/>
<circle cx="1240.9" cy="899.8" r="5.6" fill="none" stroke="#000" stroke-width="5.6"/>
<circle cx="1240.9" cy="940.1" r="5.6" fill="none" stroke="#000" stroke-width="5.6"/>
<circle cx="1229.1" cy="944.5" r="5.6" fill="none" stroke="#000" stroke-width="5.6"/>
<circle cx="1270" cy="881.8" r="5.6" fill="none" stroke="#f0271d" stroke-width="5.6"/>
<circle cx="1270" cy="906.2" r="5.6" fill="none" stroke="#f0271d" stroke-width="5.6"/>
<circle cx="1275.9" cy="918.9" r="5.6" fill="none" stroke="#f0271d" stroke-width="5.6"/>
<circle cx="1264.4" cy="924.7" r="5.6" fill="none" stroke="#f0271d" stroke-width="5.6"/>
<circle cx="1328.7" cy="893.3" r="5.6" fill="none" stroke="#000" stroke-width="5.6"/>
<circle cx="1325.6" cy="921" r="5.6" fill="none" stroke="#000" stroke-width="5.6"/>
<circle cx="1331.5" cy="930.4" r="5.6" fill="none" stroke="#000" stroke-width="5.6"/>
<circle cx="1328.7" cy="935.7" r="5.6" fill="none" stroke="#000" stroke-width="5.6"/>
<circle cx="1364.1" cy="889.4" r="5.6" fill="none" stroke="#f0271d" stroke-width="5.6"/>
<circle cx="1361" cy="923.3" r="5.6" fill="none" stroke="#f0271d" stroke-width="5.6"/>
<circle cx="1366.8" cy="932.1" r="5.6" fill="none" stroke="#f0271d" stroke-width="5.6"/>
<circle cx="1364.1" cy="933" r="5.6" fill="none" stroke="#f0271d" stroke-width="5.6"/>
<path d="M953.2 872.7V863.05H987.8V886.2" fill="none" stroke="#000" stroke-width="8.3"/>
<path d="M1047.8 872.7V849.25H1082.5V872.7" fill="none" stroke="#000" stroke-width="8.3"/>
<path d="M1140.5 857.1V812.35H1176.9V835.6" fill="none" stroke="#000" stroke-width="8.3"/>
<path d="M1233.7 872.7V836.95H1271.2V860.1" fill="none" stroke="#000" stroke-width="8.3"/>
<path d="M1328.6 866.8V843.65H1365.5V866.8" fill="none" stroke="#000" stroke-width="8.3"/>
<text x="938" y="846.5" font-size="23.2" letter-spacing="1.45">p=0.99</text>
<text x="1026.8" y="839" font-size="23.2" letter-spacing="1.45">p=0.99</text>
<text x="1120.9" y="799.4" font-size="23.2" letter-spacing="1.45">p=0.47</text>
<text x="1215.3" y="823.6" font-size="23.2" letter-spacing="1.45">p=0.92</text>
<text x="1309.8" y="830.6" font-size="23.2" letter-spacing="1.45">p=0.99</text>
<text x="978.6" y="1026.1" font-size="30" font-style="italic" text-anchor="end" letter-spacing="1.1" transform="rotate(-45 978.6 1026.1)">Trp53</text>
<text x="1072.3" y="1026.1" font-size="30" font-style="italic" text-anchor="end" letter-spacing="1.1" transform="rotate(-45 1072.3 1026.1)">Cdkn1a</text>
<text x="1166" y="1026.1" font-size="30" font-style="italic" text-anchor="end" letter-spacing="1.1" transform="rotate(-45 1166 1026.1)">Bax</text>
<text x="1259.7" y="1026.1" font-size="30" font-style="italic" text-anchor="end" letter-spacing="1.1" transform="rotate(-45 1259.7 1026.1)">Bbc3</text>
<text x="1353.6" y="1026.1" font-size="30" font-style="italic" text-anchor="end" letter-spacing="1.1" transform="rotate(-45 1353.6 1026.1)">Pmaip1</text>
<rect x="1322.1" y="691.2" width="62.3" height="12.2" fill="#686868"/>
<rect x="1322.1" y="737.6" width="62.3" height="12.3" fill="#d0d0d0"/>
<text x="1421.5" y="710" font-size="32.5" font-weight="bold" font-style="italic">Npm1<tspan font-size="21.78" dy="-10.4">+/+</tspan></text>
<text x="1421.5" y="757" font-size="32.5" font-weight="bold" font-style="italic" fill="#f0271d">Npm1<tspan font-size="21.78" dy="-10.4">fl/fl</tspan></text>
<text x="8.5" y="1160.8" font-size="46" font-weight="bold">g</text>
<text x="370.5" y="1199.3" font-size="28.3" font-weight="bold" font-style="italic" text-anchor="middle">Villin-Cre<tspan font-size="18.96" dy="-9.06">ER-T2</tspan></text>
<text x="370" y="1232.6" font-size="28.3" font-weight="bold" font-style="italic" text-anchor="middle">Apc<tspan font-size="18.96" dy="-9.06">fl/+</tspan></text>
<line x1="123.9" y1="1269.9" x2="123.9" y2="1562.5" stroke="#000" stroke-width="5.5"/>
<line x1="107.8" y1="1559.8" x2="643.8" y2="1559.8" stroke="#000" stroke-width="5.5"/>
<line x1="107.8" y1="1559.8" x2="123.9" y2="1559.8" stroke="#000" stroke-width="5.5"/>
<text x="100" y="1570.8" font-size="30.5" font-weight="bold" text-anchor="end">0</text>
<line x1="107.8" y1="1464.2" x2="123.9" y2="1464.2" stroke="#000" stroke-width="5.5"/>
<text x="100" y="1475.2" font-size="30.5" font-weight="bold" text-anchor="end">10</text>
<line x1="107.8" y1="1368.5" x2="123.9" y2="1368.5" stroke="#000" stroke-width="5.5"/>
<text x="100" y="1379.5" font-size="30.5" font-weight="bold" text-anchor="end">20</text>
<line x1="107.8" y1="1272.7" x2="123.9" y2="1272.7" stroke="#000" stroke-width="5.5"/>
<text x="100" y="1283.7" font-size="30.5" font-weight="bold" text-anchor="end">30</text>
<line x1="146.9" y1="1559.8" x2="146.9" y2="1576.3" stroke="#000" stroke-width="5.5"/>
<text x="153.4" y="1608.8" font-size="31" font-weight="bold" text-anchor="end" transform="rotate(-45 153.4 1608.8)">SI 1</text>
<line x1="193.9" y1="1559.8" x2="193.9" y2="1576.3" stroke="#000" stroke-width="5.5"/>
<text x="200.4" y="1608.8" font-size="31" font-weight="bold" text-anchor="end" transform="rotate(-45 200.4 1608.8)">SI 2</text>
<line x1="240.9" y1="1559.8" x2="240.9" y2="1576.3" stroke="#000" stroke-width="5.5"/>
<text x="247.4" y="1608.8" font-size="31" font-weight="bold" text-anchor="end" transform="rotate(-45 247.4 1608.8)">SI 3</text>
<line x1="287.9" y1="1559.8" x2="287.9" y2="1576.3" stroke="#000" stroke-width="5.5"/>
<text x="294.4" y="1608.8" font-size="31" font-weight="bold" text-anchor="end" transform="rotate(-45 294.4 1608.8)">SI 4</text>
<line x1="334.9" y1="1559.8" x2="334.9" y2="1576.3" stroke="#000" stroke-width="5.5"/>
<text x="341.4" y="1608.8" font-size="31" font-weight="bold" text-anchor="end" transform="rotate(-45 341.4 1608.8)">SI 5</text>
<line x1="381.9" y1="1559.8" x2="381.9" y2="1576.3" stroke="#000" stroke-width="5.5"/>
<text x="388.4" y="1608.8" font-size="31" font-weight="bold" text-anchor="end" transform="rotate(-45 388.4 1608.8)">SI 6</text>
<line x1="428.9" y1="1559.8" x2="428.9" y2="1576.3" stroke="#000" stroke-width="5.5"/>
<text x="435.4" y="1608.8" font-size="31" font-weight="bold" text-anchor="end" transform="rotate(-45 435.4 1608.8)">SI 7</text>
<line x1="475.9" y1="1559.8" x2="475.9" y2="1576.3" stroke="#000" stroke-width="5.5"/>
<text x="482.4" y="1608.8" font-size="31" font-weight="bold" text-anchor="end" transform="rotate(-45 482.4 1608.8)">SI 8</text>
<line x1="522.9" y1="1559.8" x2="522.9" y2="1576.3" stroke="#000" stroke-width="5.5"/>
<text x="529.4" y="1608.8" font-size="31" font-weight="bold" text-anchor="end" transform="rotate(-45 529.4 1608.8)">Prox Colon</text>
<line x1="569.9" y1="1559.8" x2="569.9" y2="1576.3" stroke="#000" stroke-width="5.5"/>
<text x="576.4" y="1608.8" font-size="31" font-weight="bold" text-anchor="end" transform="rotate(-45 576.4 1608.8)">Mid Colon</text>
<line x1="616.9" y1="1559.8" x2="616.9" y2="1576.3" stroke="#000" stroke-width="5.5"/>
<text x="623.4" y="1608.8" font-size="31" font-weight="bold" text-anchor="end" transform="rotate(-45 623.4 1608.8)">Rectum</text>
<text x="53.6" y="1423.5" font-size="32.4" font-weight="bold" text-anchor="middle" transform="rotate(-90 53.6 1423.5)">tumour number</text>
<rect x="144.15" y="1377.6" width="5.5" height="56.8" fill="#bf2df5"/>
<rect x="138.2" y="1377.6" width="17.4" height="5.5" fill="#bf2df5"/>
<rect x="138.2" y="1428.9" width="17.4" height="5.5" fill="#bf2df5"/>
<rect x="238.15" y="1463" width="5.5" height="29" fill="#bf2df5"/>
<rect x="232.2" y="1463" width="17.4" height="5.5" fill="#bf2df5"/>
<rect x="232.2" y="1486.5" width="17.4" height="5.5" fill="#bf2df5"/>
<rect x="285.15" y="1481" width="5.5" height="31" fill="#bf2df5"/>
<rect x="279.2" y="1481" width="17.4" height="5.5" fill="#bf2df5"/>
<rect x="279.2" y="1506.5" width="17.4" height="5.5" fill="#bf2df5"/>
<rect x="332.15" y="1452.7" width="5.5" height="37.3" fill="#bf2df5"/>
<rect x="326.2" y="1452.7" width="17.4" height="5.5" fill="#bf2df5"/>
<rect x="326.2" y="1484.5" width="17.4" height="5.5" fill="#bf2df5"/>
<rect x="379.15" y="1455" width="5.5" height="44" fill="#bf2df5"/>
<rect x="373.2" y="1455" width="17.4" height="5.5" fill="#bf2df5"/>
<rect x="373.2" y="1493.5" width="17.4" height="5.5" fill="#bf2df5"/>
<rect x="426.15" y="1435" width="5.5" height="43" fill="#bf2df5"/>
<rect x="420.2" y="1435" width="17.4" height="5.5" fill="#bf2df5"/>
<rect x="420.2" y="1472.5" width="17.4" height="5.5" fill="#bf2df5"/>
<rect x="473.15" y="1486.4" width="5.5" height="49.6" fill="#bf2df5"/>
<rect x="467.2" y="1486.4" width="17.4" height="5.5" fill="#bf2df5"/>
<rect x="467.2" y="1530.5" width="17.4" height="5.5" fill="#bf2df5"/>
<polyline points="146.9,1403 193.9,1462.6 240.9,1477.5 287.9,1495.3 334.9,1471.5 381.9,1471.5 428.9,1456.7 475.9,1511.1 522.9,1546.7 569.9,1542.7 616.9,1552.6" fill="none" stroke="#bf2df5" stroke-width="5.5" stroke-linejoin="round"/>
<circle cx="146.9" cy="1403" r="8.9" fill="none" stroke="#bf2df5" stroke-width="5.5"/>
<circle cx="193.9" cy="1462.6" r="8.9" fill="none" stroke="#bf2df5" stroke-width="5.5"/>
<circle cx="240.9" cy="1477.5" r="8.9" fill="none" stroke="#bf2df5" stroke-width="5.5"/>
<circle cx="287.9" cy="1495.3" r="8.9" fill="none" stroke="#bf2df5" stroke-width="5.5"/>
<circle cx="334.9" cy="1471.5" r="8.9" fill="none" stroke="#bf2df5" stroke-width="5.5"/>
<circle cx="381.9" cy="1471.5" r="8.9" fill="none" stroke="#bf2df5" stroke-width="5.5"/>
<circle cx="428.9" cy="1456.7" r="8.9" fill="none" stroke="#bf2df5" stroke-width="5.5"/>
<circle cx="475.9" cy="1511.1" r="8.9" fill="none" stroke="#bf2df5" stroke-width="5.5"/>
<circle cx="522.9" cy="1546.7" r="8.9" fill="none" stroke="#bf2df5" stroke-width="5.5"/>
<circle cx="569.9" cy="1542.7" r="8.9" fill="none" stroke="#bf2df5" stroke-width="5.5"/>
<circle cx="616.9" cy="1552.6" r="8.9" fill="none" stroke="#bf2df5" stroke-width="5.5"/>
<rect x="144.15" y="1387" width="5.5" height="37" fill="#4dd628"/>
<rect x="138.2" y="1387" width="17.4" height="5.5" fill="#4dd628"/>
<rect x="138.2" y="1418.5" width="17.4" height="5.5" fill="#4dd628"/>
<rect x="238.15" y="1464.5" width="5.5" height="28.5" fill="#4dd628"/>
<rect x="232.2" y="1464.5" width="17.4" height="5.5" fill="#4dd628"/>
<rect x="232.2" y="1487.5" width="17.4" height="5.5" fill="#4dd628"/>
<rect x="285.15" y="1484.5" width="5.5" height="34.9" fill="#4dd628"/>
<rect x="279.2" y="1484.5" width="17.4" height="5.5" fill="#4dd628"/>
<rect x="279.2" y="1513.9" width="17.4" height="5.5" fill="#4dd628"/>
<rect x="332.15" y="1460" width="5.5" height="47.7" fill="#4dd628"/>
<rect x="326.2" y="1460" width="17.4" height="5.5" fill="#4dd628"/>
<rect x="326.2" y="1502.2" width="17.4" height="5.5" fill="#4dd628"/>
<rect x="379.15" y="1434" width="5.5" height="46" fill="#4dd628"/>
<rect x="373.2" y="1434" width="17.4" height="5.5" fill="#4dd628"/>
<rect x="373.2" y="1474.5" width="17.4" height="5.5" fill="#4dd628"/>
<rect x="426.15" y="1458" width="5.5" height="33" fill="#4dd628"/>
<rect x="420.2" y="1458" width="17.4" height="5.5" fill="#4dd628"/>
<rect x="420.2" y="1485.5" width="17.4" height="5.5" fill="#4dd628"/>
<polyline points="146.9,1405.3 193.9,1484.4 240.9,1480 287.9,1499.6 334.9,1483.4 381.9,1456.7 428.9,1474.5 475.9,1543.7 522.9,1557.6 569.9,1525.9 616.9,1558.6" fill="none" stroke="#4dd628" stroke-width="5.5" stroke-linejoin="round"/>
<circle cx="146.9" cy="1405.3" r="8.9" fill="none" stroke="#4dd628" stroke-width="5.5"/>
<circle cx="193.9" cy="1484.4" r="8.9" fill="none" stroke="#4dd628" stroke-width="5.5"/>
<circle cx="240.9" cy="1480" r="8.9" fill="none" stroke="#4dd628" stroke-width="5.5"/>
<circle cx="287.9" cy="1499.6" r="8.9" fill="none" stroke="#4dd628" stroke-width="5.5"/>
<circle cx="334.9" cy="1483.4" r="8.9" fill="none" stroke="#4dd628" stroke-width="5.5"/>
<circle cx="381.9" cy="1456.7" r="8.9" fill="none" stroke="#4dd628" stroke-width="5.5"/>
<circle cx="428.9" cy="1474.5" r="8.9" fill="none" stroke="#4dd628" stroke-width="5.5"/>
<circle cx="475.9" cy="1543.7" r="8.9" fill="none" stroke="#4dd628" stroke-width="5.5"/>
<circle cx="522.9" cy="1557.6" r="8.9" fill="none" stroke="#4dd628" stroke-width="5.5"/>
<circle cx="569.9" cy="1525.9" r="8.9" fill="none" stroke="#4dd628" stroke-width="5.5"/>
<circle cx="616.9" cy="1558.6" r="8.9" fill="none" stroke="#4dd628" stroke-width="5.5"/>
<rect x="379.15" y="1510" width="5.5" height="25" fill="#f0271d"/>
<rect x="373.2" y="1510" width="17.4" height="5.5" fill="#f0271d"/>
<rect x="373.2" y="1529.5" width="17.4" height="5.5" fill="#f0271d"/>
<rect x="567.15" y="1528" width="5.5" height="19" fill="#f0271d"/>
<rect x="561.2" y="1528" width="17.4" height="5.5" fill="#f0271d"/>
<rect x="561.2" y="1541.5" width="17.4" height="5.5" fill="#f0271d"/>
<polyline points="146.9,1526.3 193.9,1548.7 240.9,1551.6 287.9,1537.2 334.9,1531.9 381.9,1522 428.9,1544.1 475.9,1556.6 522.9,1558.6 569.9,1537.8 616.9,1554.6" fill="none" stroke="#9b9b9f" stroke-width="5.5" stroke-linejoin="round"/>
<circle cx="146.9" cy="1526.3" r="8.9" fill="none" stroke="#f0271d" stroke-width="5.5"/>
<circle cx="193.9" cy="1548.7" r="8.9" fill="none" stroke="#f0271d" stroke-width="5.5"/>
<circle cx="240.9" cy="1551.6" r="8.9" fill="none" stroke="#f0271d" stroke-width="5.5"/>
<circle cx="287.9" cy="1537.2" r="8.9" fill="none" stroke="#f0271d" stroke-width="5.5"/>
<circle cx="334.9" cy="1531.9" r="8.9" fill="none" stroke="#f0271d" stroke-width="5.5"/>
<circle cx="381.9" cy="1522" r="8.9" fill="none" stroke="#f0271d" stroke-width="5.5"/>
<circle cx="428.9" cy="1544.1" r="8.9" fill="none" stroke="#f0271d" stroke-width="5.5"/>
<circle cx="475.9" cy="1556.6" r="8.9" fill="none" stroke="#f0271d" stroke-width="5.5"/>
<circle cx="522.9" cy="1558.6" r="8.9" fill="none" stroke="#f0271d" stroke-width="5.5"/>
<circle cx="569.9" cy="1537.8" r="8.9" fill="none" stroke="#f0271d" stroke-width="5.5"/>
<circle cx="616.9" cy="1554.6" r="8.9" fill="none" stroke="#f0271d" stroke-width="5.5"/>
<rect x="144.15" y="1514" width="5.5" height="23" fill="#333333"/>
<rect x="138.2" y="1514" width="17.4" height="5.5" fill="#333333"/>
<rect x="138.2" y="1531.5" width="17.4" height="5.5" fill="#333333"/>
<rect x="332.15" y="1511" width="5.5" height="27" fill="#333333"/>
<rect x="326.2" y="1511" width="17.4" height="5.5" fill="#333333"/>
<rect x="326.2" y="1532.5" width="17.4" height="5.5" fill="#333333"/>
<rect x="379.15" y="1462.5" width="5.5" height="42.3" fill="#333333"/>
<rect x="373.2" y="1462.5" width="17.4" height="5.5" fill="#333333"/>
<rect x="373.2" y="1499.3" width="17.4" height="5.5" fill="#333333"/>
<rect x="426.15" y="1466.6" width="5.5" height="48.9" fill="#333333"/>
<rect x="420.2" y="1466.6" width="17.4" height="5.5" fill="#333333"/>
<rect x="420.2" y="1510" width="17.4" height="5.5" fill="#333333"/>
<polyline points="146.9,1525.3 193.9,1546.1 240.9,1553.6 287.9,1548.7 334.9,1524.9 381.9,1483.4 428.9,1490.9 475.9,1544.7 522.9,1557.6 569.9,1552.6 616.9,1548.7" fill="none" stroke="#333333" stroke-width="5.5" stroke-linejoin="round"/>
<circle cx="146.9" cy="1525.3" r="8.9" fill="none" stroke="#000" stroke-width="5.5"/>
<circle cx="193.9" cy="1546.1" r="8.9" fill="none" stroke="#000" stroke-width="5.5"/>
<circle cx="240.9" cy="1553.6" r="8.9" fill="none" stroke="#000" stroke-width="5.5"/>
<circle cx="287.9" cy="1548.7" r="8.9" fill="none" stroke="#000" stroke-width="5.5"/>
<circle cx="334.9" cy="1524.9" r="8.9" fill="none" stroke="#000" stroke-width="5.5"/>
<circle cx="381.9" cy="1483.4" r="8.9" fill="none" stroke="#000" stroke-width="5.5"/>
<circle cx="428.9" cy="1490.9" r="8.9" fill="none" stroke="#000" stroke-width="5.5"/>
<circle cx="475.9" cy="1544.7" r="8.9" fill="none" stroke="#000" stroke-width="5.5"/>
<circle cx="522.9" cy="1557.6" r="8.9" fill="none" stroke="#000" stroke-width="5.5"/>
<circle cx="569.9" cy="1552.6" r="8.9" fill="none" stroke="#000" stroke-width="5.5"/>
<circle cx="616.9" cy="1548.7" r="8.9" fill="none" stroke="#000" stroke-width="5.5"/>
<line x1="506.3" y1="1294.1" x2="568.4" y2="1294.1" stroke="#333333" stroke-width="5.5"/>
<circle cx="537.4" cy="1294.1" r="8.9" fill="none" stroke="#000" stroke-width="5.5"/>
<line x1="506.3" y1="1331.5" x2="568.4" y2="1331.5" stroke="#9b9b9f" stroke-width="5.5"/>
<circle cx="537.4" cy="1331.5" r="8.9" fill="none" stroke="#f0271d" stroke-width="5.5"/>
<line x1="506.3" y1="1369.1" x2="568.4" y2="1369.1" stroke="#4dd628" stroke-width="5.5"/>
<circle cx="537.4" cy="1369.1" r="8.9" fill="none" stroke="#4dd628" stroke-width="5.5"/>
<line x1="506.3" y1="1406.3" x2="568.4" y2="1406.3" stroke="#bf2df5" stroke-width="5.5"/>
<circle cx="537.4" cy="1406.3" r="8.9" fill="none" stroke="#bf2df5" stroke-width="5.5"/>
<text x="605" y="1303.4" font-size="24.3" font-weight="bold" font-style="italic" letter-spacing="0.15">Npm1<tspan font-size="16.28" dy="-7.78">+/+</tspan></text>
<text x="605" y="1340.6" font-size="24.3" font-weight="bold" font-style="italic" letter-spacing="0.15">Npm1<tspan font-size="16.28" dy="-7.78">fl/fl</tspan></text>
<text x="605" y="1378.2" font-size="24.3" font-weight="bold" font-style="italic" letter-spacing="0.15">Trp53<tspan font-size="16.28" dy="-7.78">fl/fl</tspan></text>
<text x="605" y="1415.2" font-size="24.3" font-weight="bold" font-style="italic" letter-spacing="0.15">Trp53<tspan font-size="16.28" dy="-7.78">fl/fl</tspan><tspan dx="1" dy="7.78">Npm1</tspan><tspan font-size="16.28" dy="-7.78">fl/fl</tspan></text>
<text x="131.1" y="1276.7" font-size="15.8" letter-spacing="0.8"><tspan fill="#000">p=</tspan><tspan fill="#4dd628">1e-06</tspan></text>
<text x="131.1" y="1293.9" font-size="15.8" letter-spacing="0.8"><tspan fill="#000">p=</tspan><tspan fill="#bf2df5">2e-08</tspan></text>
<text x="131.1" y="1310.9" font-size="15.8" letter-spacing="0.8"><tspan fill="#a0a0a0">p=</tspan><tspan fill="#4dd628">2.5e-07</tspan></text>
<text x="131.1" y="1328.1" font-size="15.8" letter-spacing="0.8"><tspan fill="#a0a0a0">p=</tspan><tspan fill="#bf2df5">2.6e-09</tspan></text>
<text x="159.8" y="1356.4" font-size="15.8" letter-spacing="0.8"><tspan fill="#000">p&lt;</tspan><tspan fill="#bf2df5">0.00096</tspan></text>
<text x="159.8" y="1373.6" font-size="15.8" letter-spacing="0.8"><tspan fill="#a0a0a0">p=</tspan><tspan fill="#bf2df5">0.0002</tspan></text>
<text x="200.8" y="1396.8" font-size="15.8" letter-spacing="0.8"><tspan fill="#000">p=</tspan><tspan fill="#4dd628">0.0282</tspan></text>
<text x="200.8" y="1414.2" font-size="15.8" letter-spacing="0.8"><tspan fill="#000">p=</tspan><tspan fill="#bf2df5">0.0024</tspan></text>
<text x="200.8" y="1431" font-size="15.8" letter-spacing="0.8"><tspan fill="#a0a0a0">p=</tspan><tspan fill="#4dd628">0.0252</tspan></text>
<text x="200.8" y="1447.8" font-size="15.8" letter-spacing="0.8"><tspan fill="#a0a0a0">p=</tspan><tspan fill="#bf2df5">0.0017</tspan></text>
<text x="264.7" y="1470.2" font-size="15.8" letter-spacing="0.8">p&gt;0.2</text>
<text x="306.6" y="1445.8" font-size="15.8" letter-spacing="0.8">p&gt;0.06</text>
<text x="353.4" y="1418.5" font-size="15.8" letter-spacing="0.8">p&gt;0.09</text>
<text x="392" y="1388" font-size="15.8" letter-spacing="0.8"><tspan fill="#a0a0a0">p=</tspan><tspan fill="#bf2df5">0.0004</tspan></text>
<text x="454.3" y="1458.7" font-size="15.8" letter-spacing="0.8">p&gt;0.6</text>
<text x="504.3" y="1477.9" font-size="15.8" letter-spacing="0.8">p&gt;0.9</text>
<text x="550.2" y="1501.2" font-size="15.8" letter-spacing="0.8">p&gt;0.9</text>
<text x="595.1" y="1526.9" font-size="15.8" letter-spacing="0.8">p&gt;0.9</text>
<text x="797" y="1162.3" font-size="46" font-weight="bold">h</text>
<text x="1016" y="1199.3" font-size="28.2" font-weight="bold" font-style="italic" text-anchor="middle">Lgr5-Cre<tspan font-size="18.89" dy="-9.02">ER-T2</tspan></text>
<text x="1016.5" y="1232.9" font-size="28.2" font-weight="bold" font-style="italic" text-anchor="middle">Apc<tspan font-size="18.89" dy="-9.02">fl/fl</tspan></text>
<path d="M960.31 1302.91L1057.36 1302.91L1057.36 1329.45L1129.4 1329.45L1129.4 1353.46L1138.24 1353.46L1138.24 1407.3L1179.95 1407.3L1179.95 1433.08L1186.77 1433.08L1186.77 1459.62L1201.94 1459.62L1201.94 1485.65L1239.34 1485.65L1239.34 1524.83L1355.61 1524.83L1355.61 1515.22" fill="none" stroke="#f0271d" stroke-width="5.5" stroke-dasharray="14 9"/>
<path d="M960.31 1302.91L995.44 1302.91L995.44 1320.61L1004.29 1320.61L1004.29 1338.3L1021.98 1338.3L1021.98 1372.42L1025.77 1372.42L1025.77 1407.8L1029.56 1407.8L1029.56 1424.23L1040.43 1424.23L1040.43 1441.92L1048.52 1441.92L1048.52 1459.62L1056.1 1459.62L1056.1 1477.31L1065.7 1477.31L1065.7 1493.74L1068.74 1493.74L1068.74 1511.94L1083.14 1511.94L1083.14 1529.12L1102.86 1529.12L1102.86 1518.51" fill="none" stroke="#bf2df5" stroke-width="5.5" stroke-linejoin="miter"/>
<path d="M960.31 1302.91L1008.08 1302.91L1008.08 1321.87L1014.4 1321.87L1014.4 1359.78L1016.92 1359.78L1016.92 1396.43L1019.96 1396.43L1019.96 1435.61L1021.98 1435.61L1021.98 1489.95L1025.77 1489.95L1025.77 1507.64L1037.65 1507.64L1037.65 1544.29L1040.43 1544.29L1040.43 1563.75" fill="none" stroke="#4dd628" stroke-width="5.5" stroke-linejoin="miter"/>
<path d="M960.31 1302.91L1009.34 1302.91L1009.34 1311.76L1014.4 1311.76L1014.4 1331.98L1018.19 1331.98L1018.19 1355.99L1023.24 1355.99L1023.24 1385.06L1025.77 1385.06L1025.77 1412.86L1029.06 1412.86L1029.06 1433.08L1043.46 1433.08L1043.46 1476.05L1048.52 1476.05L1048.52 1497.53L1055.34 1497.53L1055.34 1520.28L1070 1520.28L1070 1542.27L1148.35 1542.27L1148.35 1563.75" fill="none" stroke="#6b6b6b" stroke-width="5.5" stroke-dasharray="14 7" stroke-linecap="round"/>
<line x1="979.52" y1="1291.54" x2="979.52" y2="1302.54" stroke="#6b6b6b" stroke-width="5.5"/>
<line x1="985.84" y1="1291.54" x2="985.84" y2="1302.54" stroke="#f0271d" stroke-width="5.5"/>
<line x1="1224.68" y1="1474.28" x2="1224.68" y2="1485.28" stroke="#f0271d" stroke-width="5.5"/>
<line x1="960.4" y1="1273.8" x2="960.4" y2="1566.6" stroke="#000" stroke-width="5.5"/>
<line x1="944.1" y1="1563.9" x2="1393" y2="1563.9" stroke="#000" stroke-width="5.5"/>
<line x1="944.1" y1="1563.9" x2="960.4" y2="1563.9" stroke="#000" stroke-width="5.5"/>
<text x="937" y="1574.5" font-size="29.5" font-weight="bold" text-anchor="end">0</text>
<line x1="944.1" y1="1433.4" x2="960.4" y2="1433.4" stroke="#000" stroke-width="5.5"/>
<text x="937" y="1444" font-size="29.5" font-weight="bold" text-anchor="end">50</text>
<line x1="944.1" y1="1302.9" x2="960.4" y2="1302.9" stroke="#000" stroke-width="5.5"/>
<text x="937" y="1313.5" font-size="29.5" font-weight="bold" text-anchor="end">100</text>
<line x1="960.3" y1="1563.9" x2="960.3" y2="1579.9" stroke="#000" stroke-width="5.5"/>
<text x="960.3" y="1617.3" font-size="29.5" font-weight="bold" text-anchor="middle">0</text>
<line x1="1067.75" y1="1563.9" x2="1067.75" y2="1579.9" stroke="#000" stroke-width="5.5"/>
<text x="1067.75" y="1617.3" font-size="29.5" font-weight="bold" text-anchor="middle">100</text>
<line x1="1175.2" y1="1563.9" x2="1175.2" y2="1579.9" stroke="#000" stroke-width="5.5"/>
<text x="1175.2" y="1617.3" font-size="29.5" font-weight="bold" text-anchor="middle">200</text>
<line x1="1282.65" y1="1563.9" x2="1282.65" y2="1579.9" stroke="#000" stroke-width="5.5"/>
<text x="1282.65" y="1617.3" font-size="29.5" font-weight="bold" text-anchor="middle">300</text>
<line x1="1390.1" y1="1563.9" x2="1390.1" y2="1579.9" stroke="#000" stroke-width="5.5"/>
<text x="1390.1" y="1617.3" font-size="29.5" font-weight="bold" text-anchor="middle">400</text>
<text x="1175.8" y="1676.6" font-size="32" font-weight="bold" text-anchor="middle">Days</text>
<text x="878" y="1427.5" font-size="32" font-weight="bold" text-anchor="middle" transform="rotate(-90 878 1427.5)">Percent survival</text>
<line x1="1155.5" y1="1200.4" x2="1170.5" y2="1200.4" stroke="#6b6b6b" stroke-width="5.5" stroke-linecap="round"/>
<path d="M1187 1189.4V1200.4H1198.5" fill="none" stroke="#6b6b6b" stroke-width="5.5" stroke-linecap="round" stroke-linejoin="miter"/>
<line x1="1213" y1="1200.4" x2="1216.5" y2="1200.4" stroke="#6b6b6b" stroke-width="5.5" stroke-linecap="round"/>
<path d="M1159 1257.8H1171M1185 1257.8H1203M1215.5 1257.8H1221M1188.5 1247V1257.8" fill="none" stroke="#f0271d" stroke-width="5.5"/>
<line x1="1158.1" y1="1315.8" x2="1220.8" y2="1315.8" stroke="#4dd628" stroke-width="5.5"/>
<line x1="1189.5" y1="1303.8" x2="1189.5" y2="1315.8" stroke="#4dd628" stroke-width="5.5"/>
<line x1="1158.1" y1="1376.5" x2="1220.8" y2="1376.5" stroke="#bf2df5" stroke-width="5.5"/>
<line x1="1189.5" y1="1364.5" x2="1189.5" y2="1376.5" stroke="#bf2df5" stroke-width="5.5"/>
<text x="1252" y="1210.3" font-size="24.3" font-weight="bold" font-style="italic">Npm1<tspan font-size="16.28" dy="-7.78">+/+</tspan><tspan dy="7.78"> (71)</tspan></text>
<text x="1257" y="1267.7" font-size="24.3" font-weight="bold" font-style="italic" fill="#f0271d">Npm1<tspan font-size="16.28" dy="-7.78">fl/fl</tspan><tspan dy="7.78"> (207.5)</tspan></text>
<text x="1258" y="1324.7" font-size="24.3" font-weight="bold" font-style="italic" fill="#4dd628">Trp53<tspan font-size="16.28" dy="-7.78">fl/fl</tspan><tspan dx="14" dy="7.78">(56.5)</tspan></text>
<text x="1258" y="1385.7" font-size="24.3" font-weight="bold" font-style="italic" fill="#bf2df5">Trp53<tspan font-size="16.28" dy="-7.78">fl/fl</tspan><tspan dy="7.78">Npm1</tspan><tspan font-size="16.28" dy="-7.78">fl/fl</tspan><tspan dy="7.78"> (75)</tspan></text>
<path d="M1406.4 1200.3H1472.8V1266.2H1451.5" fill="none" stroke="#000" stroke-width="8.2"/>
<path d="M1444 1320.6H1509.2V1380H1498.7" fill="none" stroke="#000" stroke-width="8.2"/>
<path d="M1512.5 1193.7H1562.6V1321.9H1553.7" fill="none" stroke="#000" stroke-width="8.2"/>
<path d="M1604.2 1266.2H1618.7V1380.8H1553.7" fill="none" stroke="#000" stroke-width="8.2"/>
<path d="M1601.5 1195.3H1685.6V1382.3H1670.1" fill="none" stroke="#000" stroke-width="8.2"/>
<text x="1485.5" y="1179" font-size="24.2" fill="#e42a20" letter-spacing="0.9" transform="rotate(90 1485.5 1179)">p=4.7e-05</text>
<text x="1516.8" y="1301" font-size="24.2" fill="#e42a20" letter-spacing="0.9" transform="rotate(90 1516.8 1301)">p=0.0022</text>
<text x="1575.2" y="1201.1" font-size="24.2" fill="#e42a20" letter-spacing="0.9" transform="rotate(90 1575.2 1201.1)">p=0.0047</text>
<text x="1632.9" y="1273.6" font-size="24.2" fill="#e42a20" letter-spacing="0.9" transform="rotate(90 1632.9 1273.6)">p=0.0002</text>
<text x="1698.1" y="1238.4" font-size="24.2" letter-spacing="0.9" transform="rotate(90 1698.1 1238.4)">p=0.6126</text>
<text x="1756.5" y="1162" font-size="46" font-weight="bold">i</text>
<text x="1883.5" y="1164.1" font-size="28" font-weight="bold" font-style="italic">Lgr5-Cre<tspan font-size="18.76" dy="-8.96">ER-T2</tspan><tspan dy="8.96"> Apc</tspan><tspan font-size="18.76" dy="-8.96">fl/fl</tspan></text>
<rect x="1918.5" y="1442.4" width="5" height="42.6" fill="#686868"/>
<rect x="1911" y="1442.4" width="20" height="3.6" fill="#686868"/>
<rect x="1911" y="1481.4" width="20" height="3.6" fill="#686868"/>
<rect x="1981.5" y="1503" width="5" height="19" fill="#d0d0d0"/>
<rect x="1974" y="1503" width="20" height="3.6" fill="#d0d0d0"/>
<rect x="1974" y="1518.4" width="20" height="3.6" fill="#d0d0d0"/>
<rect x="2044.7" y="1422.8" width="5" height="20.2" fill="#686868"/>
<rect x="2037.2" y="1422.8" width="20" height="3.6" fill="#686868"/>
<rect x="2037.2" y="1439.4" width="20" height="3.6" fill="#686868"/>
<rect x="2107.8" y="1413.1" width="5" height="48.9" fill="#d0d0d0"/>
<rect x="2100.3" y="1413.1" width="20" height="3.6" fill="#d0d0d0"/>
<rect x="2100.3" y="1458.4" width="20" height="3.6" fill="#d0d0d0"/>
<path d="M1903.4 1569.2V1467.3H1938.3V1569.2" fill="none" stroke="#686868" stroke-width="7"/>
<path d="M1966.8 1569.2V1516.2H2001.3V1569.2" fill="none" stroke="#d0d0d0" stroke-width="7"/>
<path d="M2029.7 1569.2V1436.2H2064.7V1569.2" fill="none" stroke="#686868" stroke-width="7"/>
<path d="M2093.1 1569.2V1441.3H2127.4V1569.2" fill="none" stroke="#d0d0d0" stroke-width="7"/>
<line x1="1879.5" y1="1249.9" x2="1879.5" y2="1571.6" stroke="#000" stroke-width="4.8"/>
<line x1="1866.5" y1="1569.2" x2="2155.8" y2="1569.2" stroke="#000" stroke-width="4.8"/>
<line x1="1866.5" y1="1569.2" x2="1879.5" y2="1569.2" stroke="#000" stroke-width="4.8"/>
<text x="1860.3" y="1577.8" font-size="24" font-weight="bold" text-anchor="end">0</text>
<line x1="1866.5" y1="1463.67" x2="1879.5" y2="1463.67" stroke="#000" stroke-width="4.8"/>
<text x="1860.3" y="1472.27" font-size="24" font-weight="bold" text-anchor="end">100</text>
<line x1="1866.5" y1="1358.14" x2="1879.5" y2="1358.14" stroke="#000" stroke-width="4.8"/>
<text x="1860.3" y="1366.74" font-size="24" font-weight="bold" text-anchor="end">200</text>
<line x1="1866.5" y1="1252.61" x2="1879.5" y2="1252.61" stroke="#000" stroke-width="4.8"/>
<text x="1860.3" y="1261.21" font-size="24" font-weight="bold" text-anchor="end">300</text>
<line x1="1921.1" y1="1569.2" x2="1921.1" y2="1581.9" stroke="#000" stroke-width="4.8"/>
<text x="1926.5" y="1601.3" font-size="25.5" font-weight="bold" text-anchor="end" transform="rotate(-45 1926.5 1601.3)">Npm1<tspan font-size="17.2" dy="-10.2">+/+</tspan></text>
<line x1="1984.1" y1="1569.2" x2="1984.1" y2="1581.9" stroke="#000" stroke-width="4.8"/>
<text x="1989.5" y="1601.3" font-size="25.5" font-weight="bold" text-anchor="end" transform="rotate(-45 1989.5 1601.3)">Npm1<tspan font-size="17.2" dy="-10.2">fl/fl</tspan></text>
<line x1="2047.1" y1="1569.2" x2="2047.1" y2="1581.9" stroke="#000" stroke-width="4.8"/>
<text x="2052.5" y="1601.3" font-size="25.5" font-weight="bold" text-anchor="end" transform="rotate(-45 2052.5 1601.3)">Trp53<tspan font-size="17.2" dy="-10.2">fl/fl</tspan></text>
<line x1="2110.1" y1="1569.2" x2="2110.1" y2="1581.9" stroke="#000" stroke-width="4.8"/>
<text x="2115.5" y="1601.3" font-size="25.5" font-weight="bold" text-anchor="end" transform="rotate(-45 2115.5 1601.3)">Trp53<tspan font-size="17.2" dy="-10.2">fl/fl</tspan><tspan dy="10.2"> Npm1</tspan><tspan font-size="17.2" dy="-10.2">fl/fl</tspan></text>
<text x="1800.7" y="1417" font-size="25.5" font-weight="bold" text-anchor="middle" transform="rotate(-90 1800.7 1417)">total tumour number</text>
<circle cx="1921.6" cy="1333.3" r="7.5" fill="none" stroke="#000" stroke-width="4.6"/>
<circle cx="1921.6" cy="1378.3" r="7.5" fill="none" stroke="#000" stroke-width="4.6"/>
<circle cx="1921.6" cy="1408.3" r="7.5" fill="none" stroke="#000" stroke-width="4.6"/>
<circle cx="1921.6" cy="1450.5" r="7.5" fill="none" stroke="#000" stroke-width="4.6"/>
<circle cx="1910.7" cy="1484.6" r="7.5" fill="none" stroke="#000" stroke-width="4.6"/>
<circle cx="1932.2" cy="1480" r="7.5" fill="none" stroke="#000" stroke-width="4.6"/>
<circle cx="1910.7" cy="1505.8" r="7.5" fill="none" stroke="#000" stroke-width="4.6"/>
<circle cx="1921.6" cy="1506.9" r="7.5" fill="none" stroke="#000" stroke-width="4.6"/>
<circle cx="1932.2" cy="1504.6" r="7.5" fill="none" stroke="#000" stroke-width="4.6"/>
<circle cx="1932.2" cy="1520.1" r="7.5" fill="none" stroke="#000" stroke-width="4.6"/>
<circle cx="1910.7" cy="1528.8" r="7.5" fill="none" stroke="#000" stroke-width="4.6"/>
<circle cx="1984.5" cy="1479.3" r="7.5" fill="none" stroke="#f0271d" stroke-width="4.6"/>
<circle cx="1973.7" cy="1493.8" r="7.5" fill="none" stroke="#f0271d" stroke-width="4.6"/>
<circle cx="1994.9" cy="1500.5" r="7.5" fill="none" stroke="#f0271d" stroke-width="4.6"/>
<circle cx="1973.7" cy="1513.9" r="7.5" fill="none" stroke="#f0271d" stroke-width="4.6"/>
<circle cx="1994.9" cy="1513.9" r="7.5" fill="none" stroke="#f0271d" stroke-width="4.6"/>
<circle cx="1984.5" cy="1527.7" r="7.5" fill="none" stroke="#f0271d" stroke-width="4.6"/>
<circle cx="1994.9" cy="1542" r="7.5" fill="none" stroke="#f0271d" stroke-width="4.6"/>
<circle cx="1973.7" cy="1553.7" r="7.5" fill="none" stroke="#f0271d" stroke-width="4.6"/>
<circle cx="2037.1" cy="1406" r="7.5" fill="none" stroke="#4dd628" stroke-width="4.6"/>
<circle cx="2057.8" cy="1403.2" r="7.5" fill="none" stroke="#4dd628" stroke-width="4.6"/>
<circle cx="2057.8" cy="1416.6" r="7.5" fill="none" stroke="#4dd628" stroke-width="4.6"/>
<circle cx="2036.6" cy="1431.3" r="7.5" fill="none" stroke="#4dd628" stroke-width="4.6"/>
<circle cx="2047.4" cy="1434.3" r="7.5" fill="none" stroke="#4dd628" stroke-width="4.6"/>
<circle cx="2036.6" cy="1450" r="7.5" fill="none" stroke="#4dd628" stroke-width="4.6"/>
<circle cx="2057.8" cy="1452.8" r="7.5" fill="none" stroke="#4dd628" stroke-width="4.6"/>
<circle cx="2047.4" cy="1467.3" r="7.5" fill="none" stroke="#4dd628" stroke-width="4.6"/>
<circle cx="2110.4" cy="1262.6" r="7.5" fill="none" stroke="#bf2df5" stroke-width="4.6"/>
<circle cx="2110.4" cy="1334.5" r="7.5" fill="none" stroke="#bf2df5" stroke-width="4.6"/>
<circle cx="2110.4" cy="1356.4" r="7.5" fill="none" stroke="#bf2df5" stroke-width="4.6"/>
<circle cx="2099.8" cy="1385.4" r="7.5" fill="none" stroke="#bf2df5" stroke-width="4.6"/>
<circle cx="2120.7" cy="1385.4" r="7.5" fill="none" stroke="#bf2df5" stroke-width="4.6"/>
<circle cx="2104.4" cy="1394" r="7.5" fill="none" stroke="#bf2df5" stroke-width="4.6"/>
<circle cx="2115.4" cy="1400.2" r="7.5" fill="none" stroke="#bf2df5" stroke-width="4.6"/>
<circle cx="2110.4" cy="1430.2" r="7.5" fill="none" stroke="#bf2df5" stroke-width="4.6"/>
<circle cx="2110.4" cy="1461.3" r="7.5" fill="none" stroke="#bf2df5" stroke-width="4.6"/>
<circle cx="2110.4" cy="1492.4" r="7.5" fill="none" stroke="#bf2df5" stroke-width="4.6"/>
<circle cx="2099.8" cy="1520.1" r="7.5" fill="none" stroke="#bf2df5" stroke-width="4.6"/>
<circle cx="2120.7" cy="1521.2" r="7.5" fill="none" stroke="#bf2df5" stroke-width="4.6"/>
<circle cx="2099.8" cy="1527.7" r="7.5" fill="none" stroke="#bf2df5" stroke-width="4.6"/>
<circle cx="2120.7" cy="1543.4" r="7.5" fill="none" stroke="#bf2df5" stroke-width="4.6"/>
<circle cx="2110.4" cy="1549.1" r="7.5" fill="none" stroke="#bf2df5" stroke-width="4.6"/>
<path d="M1985 1440.1V1218H2112V1236.7" fill="none" stroke="#000" stroke-width="6.3"/>
<text x="2011" y="1207.7" font-size="18.3" fill="#e42a20" letter-spacing="1.4">p=0.0329</text>
<text x="20.5" y="1803.3" font-size="46" font-weight="bold">j</text>
<text x="169.5" y="1858" font-size="28.2" font-weight="bold" font-style="italic">Lgr5-Cre<tspan font-size="18.89" dy="-9.02">ER-T2</tspan><tspan dx="1" dy="9.02">Apc</tspan><tspan font-size="18.89" dy="-9.02">fl/fl</tspan></text>
<line x1="113.9" y1="1905.7" x2="113.9" y2="2198" stroke="#000" stroke-width="5.5"/>
<line x1="97.3" y1="2195.3" x2="633.9" y2="2195.3" stroke="#000" stroke-width="5.5"/>
<line x1="97.3" y1="2195.3" x2="113.9" y2="2195.3" stroke="#000" stroke-width="5.5"/>
<text x="90.5" y="2206.3" font-size="30.5" font-weight="bold" text-anchor="end">0</text>
<line x1="97.3" y1="2113.5" x2="113.9" y2="2113.5" stroke="#000" stroke-width="5.5"/>
<text x="90.5" y="2124.5" font-size="30.5" font-weight="bold" text-anchor="end">20</text>
<line x1="97.3" y1="2031.6" x2="113.9" y2="2031.6" stroke="#000" stroke-width="5.5"/>
<text x="90.5" y="2042.6" font-size="30.5" font-weight="bold" text-anchor="end">40</text>
<line x1="97.3" y1="1950.2" x2="113.9" y2="1950.2" stroke="#000" stroke-width="5.5"/>
<text x="90.5" y="1961.2" font-size="30.5" font-weight="bold" text-anchor="end">60</text>
<line x1="137.1" y1="2195.3" x2="137.1" y2="2211.8" stroke="#000" stroke-width="5.5"/>
<text x="143.6" y="2244.3" font-size="31" font-weight="bold" text-anchor="end" transform="rotate(-45 143.6 2244.3)">SI 1</text>
<line x1="184.05" y1="2195.3" x2="184.05" y2="2211.8" stroke="#000" stroke-width="5.5"/>
<text x="190.55" y="2244.3" font-size="31" font-weight="bold" text-anchor="end" transform="rotate(-45 190.55 2244.3)">SI 2</text>
<line x1="231" y1="2195.3" x2="231" y2="2211.8" stroke="#000" stroke-width="5.5"/>
<text x="237.5" y="2244.3" font-size="31" font-weight="bold" text-anchor="end" transform="rotate(-45 237.5 2244.3)">SI 3</text>
<line x1="277.95" y1="2195.3" x2="277.95" y2="2211.8" stroke="#000" stroke-width="5.5"/>
<text x="284.45" y="2244.3" font-size="31" font-weight="bold" text-anchor="end" transform="rotate(-45 284.45 2244.3)">SI 4</text>
<line x1="324.9" y1="2195.3" x2="324.9" y2="2211.8" stroke="#000" stroke-width="5.5"/>
<text x="331.4" y="2244.3" font-size="31" font-weight="bold" text-anchor="end" transform="rotate(-45 331.4 2244.3)">SI 5</text>
<line x1="371.85" y1="2195.3" x2="371.85" y2="2211.8" stroke="#000" stroke-width="5.5"/>
<text x="378.35" y="2244.3" font-size="31" font-weight="bold" text-anchor="end" transform="rotate(-45 378.35 2244.3)">SI 6</text>
<line x1="418.8" y1="2195.3" x2="418.8" y2="2211.8" stroke="#000" stroke-width="5.5"/>
<text x="425.3" y="2244.3" font-size="31" font-weight="bold" text-anchor="end" transform="rotate(-45 425.3 2244.3)">SI 7</text>
<line x1="465.75" y1="2195.3" x2="465.75" y2="2211.8" stroke="#000" stroke-width="5.5"/>
<text x="472.25" y="2244.3" font-size="31" font-weight="bold" text-anchor="end" transform="rotate(-45 472.25 2244.3)">SI 8</text>
<line x1="512.7" y1="2195.3" x2="512.7" y2="2211.8" stroke="#000" stroke-width="5.5"/>
<text x="519.2" y="2244.3" font-size="31" font-weight="bold" text-anchor="end" transform="rotate(-45 519.2 2244.3)">Prox Colon</text>
<line x1="559.65" y1="2195.3" x2="559.65" y2="2211.8" stroke="#000" stroke-width="5.5"/>
<text x="566.15" y="2244.3" font-size="31" font-weight="bold" text-anchor="end" transform="rotate(-45 566.15 2244.3)">Mid Colon</text>
<line x1="606.6" y1="2195.3" x2="606.6" y2="2211.8" stroke="#000" stroke-width="5.5"/>
<text x="613.1" y="2244.3" font-size="31" font-weight="bold" text-anchor="end" transform="rotate(-45 613.1 2244.3)">Rectum</text>
<text x="46.5" y="2058.5" font-size="32.4" font-weight="bold" text-anchor="middle" transform="rotate(-90 46.5 2058.5)">tumour number</text>
<rect x="134.35" y="2121.7" width="5.5" height="30.3" fill="#bf2df5"/>
<rect x="128.4" y="2121.7" width="17.4" height="5.5" fill="#bf2df5"/>
<rect x="128.4" y="2146.5" width="17.4" height="5.5" fill="#bf2df5"/>
<rect x="181.3" y="2128.2" width="5.5" height="33.8" fill="#bf2df5"/>
<rect x="175.35" y="2128.2" width="17.4" height="5.5" fill="#bf2df5"/>
<rect x="175.35" y="2156.5" width="17.4" height="5.5" fill="#bf2df5"/>
<rect x="369.1" y="2122" width="5.5" height="34" fill="#bf2df5"/>
<rect x="363.15" y="2122" width="17.4" height="5.5" fill="#bf2df5"/>
<rect x="363.15" y="2150.5" width="17.4" height="5.5" fill="#bf2df5"/>
<rect x="416.05" y="2040" width="5.5" height="40" fill="#bf2df5"/>
<rect x="410.1" y="2040" width="17.4" height="5.5" fill="#bf2df5"/>
<rect x="410.1" y="2074.5" width="17.4" height="5.5" fill="#bf2df5"/>
<rect x="463" y="2015" width="5.5" height="40" fill="#bf2df5"/>
<rect x="457.05" y="2015" width="17.4" height="5.5" fill="#bf2df5"/>
<rect x="457.05" y="2049.5" width="17.4" height="5.5" fill="#bf2df5"/>
<polyline points="137.1,2137.1 184.05,2146 231,2177.7 277.95,2182.6 324.9,2187.6 371.85,2139.1 418.8,2061 465.75,2035.3 512.7,2193.5 559.65,2193 606.6,2192" fill="none" stroke="#bf2df5" stroke-width="5.5" stroke-linejoin="round"/>
<circle cx="137.1" cy="2137.1" r="8.9" fill="none" stroke="#bf2df5" stroke-width="5.5"/>
<circle cx="184.05" cy="2146" r="8.9" fill="none" stroke="#bf2df5" stroke-width="5.5"/>
<circle cx="231" cy="2177.7" r="8.9" fill="none" stroke="#bf2df5" stroke-width="5.5"/>
<circle cx="277.95" cy="2182.6" r="8.9" fill="none" stroke="#bf2df5" stroke-width="5.5"/>
<circle cx="324.9" cy="2187.6" r="8.9" fill="none" stroke="#bf2df5" stroke-width="5.5"/>
<circle cx="371.85" cy="2139.1" r="8.9" fill="none" stroke="#bf2df5" stroke-width="5.5"/>
<circle cx="418.8" cy="2061" r="8.9" fill="none" stroke="#bf2df5" stroke-width="5.5"/>
<circle cx="465.75" cy="2035.3" r="8.9" fill="none" stroke="#bf2df5" stroke-width="5.5"/>
<circle cx="512.7" cy="2193.5" r="8.9" fill="none" stroke="#bf2df5" stroke-width="5.5"/>
<circle cx="559.65" cy="2193" r="8.9" fill="none" stroke="#bf2df5" stroke-width="5.5"/>
<circle cx="606.6" cy="2192" r="8.9" fill="none" stroke="#bf2df5" stroke-width="5.5"/>
<rect x="369.1" y="2100" width="5.5" height="28" fill="#4dd628"/>
<rect x="363.15" y="2100" width="17.4" height="5.5" fill="#4dd628"/>
<rect x="363.15" y="2122.5" width="17.4" height="5.5" fill="#4dd628"/>
<rect x="416.05" y="2030.3" width="5.5" height="35.7" fill="#4dd628"/>
<rect x="410.1" y="2030.3" width="17.4" height="5.5" fill="#4dd628"/>
<rect x="410.1" y="2060.5" width="17.4" height="5.5" fill="#4dd628"/>
<rect x="463" y="2008.2" width="5.5" height="31.8" fill="#4dd628"/>
<rect x="457.05" y="2008.2" width="17.4" height="5.5" fill="#4dd628"/>
<rect x="457.05" y="2034.5" width="17.4" height="5.5" fill="#4dd628"/>
<rect x="556.9" y="2148" width="5.5" height="24.7" fill="#4dd628"/>
<rect x="550.95" y="2148" width="17.4" height="5.5" fill="#4dd628"/>
<rect x="550.95" y="2167.2" width="17.4" height="5.5" fill="#4dd628"/>
<polyline points="137.1,2172.7 184.05,2186.6 231,2193.5 277.95,2194.5 324.9,2191.5 371.85,2114.4 418.8,2048.1 465.75,2023.8 512.7,2191.5 559.65,2158.9 606.6,2183.6" fill="none" stroke="#4dd628" stroke-width="5.5" stroke-linejoin="round"/>
<circle cx="137.1" cy="2172.7" r="8.9" fill="none" stroke="#4dd628" stroke-width="5.5"/>
<circle cx="184.05" cy="2186.6" r="8.9" fill="none" stroke="#4dd628" stroke-width="5.5"/>
<circle cx="231" cy="2193.5" r="8.9" fill="none" stroke="#4dd628" stroke-width="5.5"/>
<circle cx="277.95" cy="2194.5" r="8.9" fill="none" stroke="#4dd628" stroke-width="5.5"/>
<circle cx="324.9" cy="2191.5" r="8.9" fill="none" stroke="#4dd628" stroke-width="5.5"/>
<circle cx="371.85" cy="2114.4" r="8.9" fill="none" stroke="#4dd628" stroke-width="5.5"/>
<circle cx="418.8" cy="2048.1" r="8.9" fill="none" stroke="#4dd628" stroke-width="5.5"/>
<circle cx="465.75" cy="2023.8" r="8.9" fill="none" stroke="#4dd628" stroke-width="5.5"/>
<circle cx="512.7" cy="2191.5" r="8.9" fill="none" stroke="#4dd628" stroke-width="5.5"/>
<circle cx="559.65" cy="2158.9" r="8.9" fill="none" stroke="#4dd628" stroke-width="5.5"/>
<circle cx="606.6" cy="2183.6" r="8.9" fill="none" stroke="#4dd628" stroke-width="5.5"/>
<rect x="322.15" y="2166" width="5.5" height="20" fill="#f0271d"/>
<rect x="316.2" y="2166" width="17.4" height="5.5" fill="#f0271d"/>
<rect x="316.2" y="2180.5" width="17.4" height="5.5" fill="#f0271d"/>
<rect x="369.1" y="2128" width="5.5" height="37.8" fill="#f0271d"/>
<rect x="363.15" y="2128" width="17.4" height="5.5" fill="#f0271d"/>
<rect x="363.15" y="2160.3" width="17.4" height="5.5" fill="#f0271d"/>
<rect x="416.05" y="2141.5" width="5.5" height="28.3" fill="#f0271d"/>
<rect x="410.1" y="2141.5" width="17.4" height="5.5" fill="#f0271d"/>
<rect x="410.1" y="2164.3" width="17.4" height="5.5" fill="#f0271d"/>
<rect x="463" y="2136.2" width="5.5" height="42.8" fill="#f0271d"/>
<rect x="457.05" y="2136.2" width="17.4" height="5.5" fill="#f0271d"/>
<rect x="457.05" y="2173.5" width="17.4" height="5.5" fill="#f0271d"/>
<polyline points="137.1,2167.2 184.05,2178 231,2189 277.95,2188.6 324.9,2175.7 371.85,2146 418.8,2155.5 465.75,2157.5 512.7,2194.5 559.65,2195.5 606.6,2195.5" fill="none" stroke="#9b9b9f" stroke-width="5.5" stroke-linejoin="round"/>
<circle cx="137.1" cy="2167.2" r="8.9" fill="none" stroke="#f0271d" stroke-width="5.5"/>
<circle cx="184.05" cy="2178" r="8.9" fill="none" stroke="#f0271d" stroke-width="5.5"/>
<circle cx="231" cy="2189" r="8.9" fill="none" stroke="#f0271d" stroke-width="5.5"/>
<circle cx="277.95" cy="2188.6" r="8.9" fill="none" stroke="#f0271d" stroke-width="5.5"/>
<circle cx="324.9" cy="2175.7" r="8.9" fill="none" stroke="#f0271d" stroke-width="5.5"/>
<circle cx="371.85" cy="2146" r="8.9" fill="none" stroke="#f0271d" stroke-width="5.5"/>
<circle cx="418.8" cy="2155.5" r="8.9" fill="none" stroke="#f0271d" stroke-width="5.5"/>
<circle cx="465.75" cy="2157.5" r="8.9" fill="none" stroke="#f0271d" stroke-width="5.5"/>
<circle cx="512.7" cy="2194.5" r="8.9" fill="none" stroke="#f0271d" stroke-width="5.5"/>
<circle cx="559.65" cy="2195.5" r="8.9" fill="none" stroke="#f0271d" stroke-width="5.5"/>
<circle cx="606.6" cy="2195.5" r="8.9" fill="none" stroke="#f0271d" stroke-width="5.5"/>
<rect x="134.35" y="2108.9" width="5.5" height="77.3" fill="#333333"/>
<rect x="128.4" y="2108.9" width="17.4" height="5.5" fill="#333333"/>
<rect x="128.4" y="2180.7" width="17.4" height="5.5" fill="#333333"/>
<rect x="181.3" y="2159.9" width="5.5" height="30.1" fill="#333333"/>
<rect x="175.35" y="2159.9" width="17.4" height="5.5" fill="#333333"/>
<rect x="175.35" y="2184.5" width="17.4" height="5.5" fill="#333333"/>
<rect x="322.15" y="2145.4" width="5.5" height="34.6" fill="#333333"/>
<rect x="316.2" y="2145.4" width="17.4" height="5.5" fill="#333333"/>
<rect x="316.2" y="2174.5" width="17.4" height="5.5" fill="#333333"/>
<rect x="369.1" y="2098.6" width="5.5" height="37.4" fill="#333333"/>
<rect x="363.15" y="2098.6" width="17.4" height="5.5" fill="#333333"/>
<rect x="363.15" y="2130.5" width="17.4" height="5.5" fill="#333333"/>
<rect x="416.05" y="2066" width="5.5" height="35.1" fill="#333333"/>
<rect x="410.1" y="2066" width="17.4" height="5.5" fill="#333333"/>
<rect x="410.1" y="2095.6" width="17.4" height="5.5" fill="#333333"/>
<rect x="463" y="2024.4" width="5.5" height="59.3" fill="#333333"/>
<rect x="457.05" y="2024.4" width="17.4" height="5.5" fill="#333333"/>
<rect x="457.05" y="2078.2" width="17.4" height="5.5" fill="#333333"/>
<rect x="509.95" y="2139.1" width="5.5" height="56.9" fill="#333333"/>
<rect x="504" y="2139.1" width="17.4" height="5.5" fill="#333333"/>
<rect x="504" y="2190.5" width="17.4" height="5.5" fill="#333333"/>
<polyline points="137.1,2148 184.05,2175.1 231,2186.2 277.95,2189 324.9,2162.5 371.85,2117.4 418.8,2083.7 465.75,2054.1 512.7,2168.4 559.65,2192.5 606.6,2190.5" fill="none" stroke="#333333" stroke-width="5.5" stroke-linejoin="round"/>
<circle cx="137.1" cy="2148" r="8.9" fill="none" stroke="#000" stroke-width="5.5"/>
<circle cx="184.05" cy="2175.1" r="8.9" fill="none" stroke="#000" stroke-width="5.5"/>
<circle cx="231" cy="2186.2" r="8.9" fill="none" stroke="#000" stroke-width="5.5"/>
<circle cx="277.95" cy="2189" r="8.9" fill="none" stroke="#000" stroke-width="5.5"/>
<circle cx="324.9" cy="2162.5" r="8.9" fill="none" stroke="#000" stroke-width="5.5"/>
<circle cx="371.85" cy="2117.4" r="8.9" fill="none" stroke="#000" stroke-width="5.5"/>
<circle cx="418.8" cy="2083.7" r="8.9" fill="none" stroke="#000" stroke-width="5.5"/>
<circle cx="465.75" cy="2054.1" r="8.9" fill="none" stroke="#000" stroke-width="5.5"/>
<circle cx="512.7" cy="2168.4" r="8.9" fill="none" stroke="#000" stroke-width="5.5"/>
<circle cx="559.65" cy="2192.5" r="8.9" fill="none" stroke="#000" stroke-width="5.5"/>
<circle cx="606.6" cy="2190.5" r="8.9" fill="none" stroke="#000" stroke-width="5.5"/>
<line x1="521.9" y1="1914" x2="583.8" y2="1914" stroke="#333333" stroke-width="5.5"/>
<circle cx="552.8" cy="1914" r="8.9" fill="none" stroke="#000" stroke-width="5.5"/>
<line x1="521.9" y1="1954.2" x2="583.8" y2="1954.2" stroke="#9b9b9f" stroke-width="5.5"/>
<circle cx="552.8" cy="1954.2" r="8.9" fill="none" stroke="#f0271d" stroke-width="5.5"/>
<line x1="521.9" y1="1994.7" x2="583.8" y2="1994.7" stroke="#4dd628" stroke-width="5.5"/>
<circle cx="552.8" cy="1994.7" r="8.9" fill="none" stroke="#4dd628" stroke-width="5.5"/>
<line x1="521.9" y1="2034.3" x2="583.8" y2="2034.3" stroke="#bf2df5" stroke-width="5.5"/>
<circle cx="552.8" cy="2034.3" r="8.9" fill="none" stroke="#bf2df5" stroke-width="5.5"/>
<text x="620.2" y="1923.1" font-size="24.3" font-weight="bold" font-style="italic" letter-spacing="0.15">Npm1<tspan font-size="16.28" dy="-7.78">+/+</tspan></text>
<text x="620.2" y="1963.1" font-size="24.3" font-weight="bold" font-style="italic" letter-spacing="0.15">Npm1<tspan font-size="16.28" dy="-7.78">fl/fl</tspan></text>
<text x="620.2" y="2003" font-size="24.3" font-weight="bold" font-style="italic" letter-spacing="0.15">Trp53<tspan font-size="16.28" dy="-7.78">fl/fl</tspan></text>
<text x="620.2" y="2043.2" font-size="24.3" font-weight="bold" font-style="italic" letter-spacing="0.15">Trp53<tspan font-size="16.28" dy="-7.78">fl/fl</tspan><tspan dx="1" dy="7.78">Npm1</tspan><tspan font-size="16.28" dy="-7.78">fl/fl</tspan></text>
<text x="120.7" y="2039.2" font-size="15.8" letter-spacing="0.8">p&gt;0.98</text>
<text x="156.3" y="2075.8" font-size="15.8" letter-spacing="0.8">p&gt;0.92</text>
<text x="205.7" y="2100.5" font-size="15.8" letter-spacing="0.8">p&gt;0.99</text>
<text x="251.2" y="2120.3" font-size="15.8" letter-spacing="0.8">p&gt;0.99</text>
<text x="293.7" y="2078.4" font-size="15.8" letter-spacing="0.8">p&gt;0.99</text>
<text x="343.5" y="2042.8" font-size="15.8" letter-spacing="0.8">p&gt;0.99</text>
<text x="381.1" y="1977.3" font-size="15.8" letter-spacing="0.8"><tspan fill="#000">p=</tspan><tspan fill="#e42a20">0.0397</tspan></text>
<text x="381.1" y="1994.3" font-size="15.8" letter-spacing="0.8"><tspan fill="#a0a0a0">p=</tspan><tspan fill="#4dd628">0.0001</tspan></text>
<text x="381.1" y="2011.5" font-size="15.8" letter-spacing="0.8"><tspan fill="#a0a0a0">p=</tspan><tspan fill="#bf2df5">0.0001</tspan></text>
<text x="431.1" y="1913.2" font-size="15.8" letter-spacing="0.8"><tspan fill="#000">p=</tspan><tspan fill="#e42a20">0.0083</tspan></text>
<text x="431.1" y="1930.4" font-size="15.8" letter-spacing="0.8"><tspan fill="#a0a0a0">p=</tspan><tspan fill="#4dd628">3.0e-06</tspan></text>
<text x="431.1" y="1947.6" font-size="15.8" letter-spacing="0.8"><tspan fill="#a0a0a0">p=</tspan><tspan fill="#bf2df5">1.1e-06</tspan></text>
<text x="491.5" y="2093" font-size="15.8" letter-spacing="0.8">p&gt;0.99</text>
<text x="532.8" y="2122.3" font-size="15.8" letter-spacing="0.8">p&gt;0.99</text>
<text x="580.5" y="2139.1" font-size="15.8" letter-spacing="0.8">p&gt;0.99</text>
<text x="809.5" y="1806" font-size="46" font-weight="bold">k</text>
<text x="936" y="1802.7" font-size="28.2" font-weight="bold" font-style="italic">Lgr5-Cre<tspan font-size="18.89" dy="-9.02">ER-T2</tspan><tspan dx="1" dy="9.02">Apc</tspan><tspan font-size="18.89" dy="-9.02">fl/fl</tspan></text>
<text x="855.8" y="1955" font-size="31" font-style="italic" text-anchor="middle" letter-spacing="0.5" transform="rotate(-90 855.8 1955)">Npm1<tspan font-size="20.77" dy="-9.92">fl/fl</tspan></text>
<text x="855.8" y="2250.5" font-size="31" font-style="italic" text-anchor="middle" letter-spacing="0.5" transform="rotate(-90 855.8 2250.5)">Npm1<tspan font-size="20.77" dy="-9.92">fl/fl</tspan><tspan dy="9.92">Trp53</tspan><tspan font-size="20.77" dy="-9.92">fl/fl</tspan></text>
<text x="1069.5" y="2425" font-size="30.5" font-weight="bold" text-anchor="middle" fill="#f0271d">NPM1</text>
<defs><filter id="kb" filterUnits="userSpaceOnUse" x="860" y="1800" width="420" height="600"><feGaussianBlur in="SourceGraphic" stdDeviation="1.2" result="b"/><feTurbulence type="fractalNoise" baseFrequency="0.22" numOctaves="2" seed="4" result="n"/><feColorMatrix in="n" type="matrix" values="0 0 0 0 0 0 0 0 0 0 0 0 0 0 0 0 0 0 -5 3.1" result="m"/><feComposite in="b" in2="m" operator="in"/></filter><filter id="kc" filterUnits="userSpaceOnUse" x="860" y="1800" width="420" height="600"><feGaussianBlur in="SourceGraphic" stdDeviation="1.2" result="b"/><feTurbulence type="fractalNoise" baseFrequency="0.2" numOctaves="2" seed="9" result="n"/><feColorMatrix in="n" type="matrix" values="0 0 0 0 0 0 0 0 0 0 0 0 0 0 0 0 0 0 -4 3.0" result="m"/><feComposite in="b" in2="m" operator="in"/></filter><clipPath id="ck1"><rect x="869.1" y="1815.1" width="404.7" height="277"/></clipPath><clipPath id="ck2"><rect x="868" y="2115" width="404.7" height="276"/></clipPath></defs>
<g clip-path="url(#ck1)">
<rect x="869.1" y="1815.1" width="404.7" height="277" fill="#fcfbfc"/>
<g filter="url(#kb)" fill="none" stroke-linecap="round" stroke-linejoin="round">
<path d="M923.79 1965.38C922.61 1946.48 926.55 1927.19 937.97 1911.04C949.39 1894.9 973.01 1877.18 992.31 1868.52C1011.6 1859.85 1032.47 1861.62 1053.73 1859.07C1075 1856.51 1097.84 1851.19 1119.89 1853.16C1141.94 1855.13 1169.11 1860.84 1186.04 1870.88C1202.97 1880.92 1213.21 1897.65 1221.48 1913.41C1229.75 1929.16 1235.26 1946.48 1235.66 1965.38C1236.05 1984.28 1233.29 2010.27 1223.84 2026.81C1214.39 2043.35 1196.28 2056.34 1178.95 2064.61C1161.63 2072.88 1141.54 2076.82 1119.89 2076.43C1098.23 2076.03 1071.85 2065.79 1049.01 2062.25C1026.17 2058.71 1000.18 2061.46 982.86 2055.16C965.53 2048.86 954.9 2039.41 945.05 2024.45C935.21 2009.49 924.97 1984.28 923.79 1965.38Z" fill="none" stroke="#d6ced8" stroke-width="22"/>
<path d="M1108.07 1877.97C1116.74 1873.24 1150.21 1870.48 1167.14 1877.97C1184.07 1885.45 1204.15 1909.86 1209.67 1922.86C1215.18 1935.85 1211.24 1954.36 1200.22 1955.93C1189.19 1957.51 1157.69 1940.58 1143.51 1932.31C1129.34 1924.04 1121.07 1915.37 1115.16 1906.32C1109.26 1897.26 1099.41 1882.69 1108.07 1877.97Z" fill="#cfc9d8" stroke="#cfc9d8" stroke-width="6"/>
<path d="M963.96 1965.38C965.92 1951.6 970.26 1925.22 982.86 1913.41C995.46 1901.59 1020.66 1896.08 1039.56 1894.5C1058.46 1892.93 1076.97 1895.29 1096.26 1903.96C1115.56 1912.62 1139.58 1933.09 1155.33 1946.48C1171.08 1959.87 1187.62 1971.29 1190.77 1984.28C1193.92 1997.28 1186.04 2014.6 1174.23 2024.45C1162.41 2034.29 1138.79 2042.96 1119.89 2043.35C1100.99 2043.74 1079.72 2031.93 1060.82 2026.81C1041.92 2021.69 1021.45 2017.75 1006.48 2012.64C991.52 2007.52 978.13 2003.97 971.04 1996.1C963.96 1988.22 961.99 1979.16 963.96 1965.38Z" fill="none" stroke="#d6ced8" stroke-width="17"/>
<path d="M1020.66 1922.86C1025.38 1916.95 1041.92 1910.26 1053.73 1911.04C1065.55 1911.83 1081.3 1918.52 1091.54 1927.58C1101.77 1936.64 1109.65 1952.78 1115.16 1965.38C1120.68 1977.98 1127.76 1993.73 1124.61 2003.18C1121.46 2012.64 1105.71 2022.48 1096.26 2022.09C1086.81 2021.69 1075 2010.27 1067.91 2000.82C1060.82 1991.37 1060.82 1974.44 1053.73 1965.38C1046.65 1956.33 1030.9 1953.57 1025.38 1946.48C1019.87 1939.39 1015.93 1928.76 1020.66 1922.86Z" fill="#dcd7e2" stroke="#cfc9d8" stroke-width="8"/>
<path d="M1034.83 1965.38C1037.98 1961.45 1054.52 1975.62 1063.18 1979.56C1071.85 1983.5 1085.24 1983.5 1086.81 1989.01C1088.39 1994.52 1079.72 2010.27 1072.64 2012.64C1065.55 2015 1050.58 2011.06 1044.28 2003.18C1037.98 1995.31 1031.68 1969.32 1034.83 1965.38Z" fill="#f3f1f4"/>
<path d="M978.13 2031.54C981.28 2027.99 1002.54 2038.62 1011.21 2043.35C1019.87 2048.07 1033.26 2056.34 1030.11 2059.89C1026.96 2063.43 1000.97 2069.34 992.31 2064.61C983.64 2059.89 974.98 2035.08 978.13 2031.54Z" fill="#cfc9d8" stroke="#cfc9d8" stroke-width="6"/>
<path d="M1039.56 2081.15C1049.01 2081.54 1076.97 2083.51 1096.26 2083.51C1115.56 2083.51 1139.58 2084.3 1155.33 2081.15C1171.08 2078 1180.92 2072.09 1190.77 2064.61C1200.61 2057.13 1210.45 2040.99 1214.39 2036.26" fill="none" stroke="#d6ced8" stroke-width="10"/>
<path d="M926.15 1818.9C924.18 1825.59 918.67 1844.5 914.34 1859.07C910.01 1873.63 905.68 1890.96 900.16 1906.32C894.65 1921.67 884.41 1943.73 881.26 1951.21" fill="none" stroke="#d6ced8" stroke-width="11"/>
<path d="M874.18 1965.38C876.54 1955.93 895.83 1962.23 902.53 1970.11C909.22 1977.98 916.7 2003.18 914.34 2012.64C911.98 2022.09 895.05 2034.69 888.35 2026.81C881.66 2018.94 871.81 1974.83 874.18 1965.38Z" fill="#cfc9d8" stroke="#cfc9d8" stroke-width="6"/>
<path d="M878.9 2036.26C883.63 2031.93 909.22 2027.99 916.7 2033.9C924.18 2039.81 924.97 2062.25 923.79 2071.7C922.61 2081.15 915.52 2092.57 909.61 2090.6C903.71 2088.63 893.47 2068.94 888.35 2059.89C883.23 2050.83 874.18 2040.59 878.9 2036.26Z" fill="#d6ced8" stroke="#d6ced8" stroke-width="6"/>
<path d="M1001.76 1833.08C1000.97 1829.14 1025.38 1822.44 1039.56 1821.26C1053.73 1820.08 1077.75 1823.23 1086.81 1825.99C1095.87 1828.75 1100.99 1834.65 1093.9 1837.8C1086.81 1840.95 1059.64 1845.68 1044.28 1844.89C1028.93 1844.1 1002.54 1837.01 1001.76 1833.08Z" fill="#cfc9d8" stroke="#cfc9d8" stroke-width="6"/>
<path d="M1233.29 1828.35C1238.81 1822.05 1260.07 1814.18 1266.37 1821.26C1272.67 1828.35 1273.85 1859.85 1271.09 1870.88C1268.34 1881.9 1256.13 1889.39 1249.83 1887.42C1243.53 1885.45 1236.05 1868.91 1233.29 1859.07C1230.54 1849.22 1227.78 1834.65 1233.29 1828.35Z" fill="#cfc9d8" stroke="#cfc9d8" stroke-width="6"/>
<path d="M1271.09 1903.96C1268.73 1908.68 1257.71 1919.71 1256.92 1932.31C1256.13 1944.91 1263.61 1966.17 1266.37 1979.56C1269.13 1992.95 1272.28 2007.12 1273.46 2012.64" fill="none" stroke="#d6ced8" stroke-width="12"/>
</g></g>
<rect x="869.1" y="1815.1" width="404.7" height="277" fill="none" stroke="#000" stroke-width="3.1"/>
<rect x="1228.1" y="2072.4" width="28.8" height="9.2" fill="#000"/>
<g clip-path="url(#ck2)">
<rect x="868" y="2115" width="404.7" height="276" fill="#fcfbfc"/>
<g filter="url(#kc)" fill="none" stroke-linecap="round" stroke-linejoin="round">
<path d="M1011.21 2130.71C1002.54 2134.65 975.37 2143.71 959.23 2154.34C943.09 2164.97 926.15 2177.97 914.34 2194.5C902.53 2211.04 891.5 2233.88 888.35 2253.57C885.2 2273.26 886.38 2298.07 895.44 2312.64C904.5 2327.2 924.18 2333.51 942.69 2340.99C961.2 2348.47 984.82 2351.62 1006.48 2357.52C1028.14 2363.43 1049.8 2374.06 1072.64 2376.43C1095.47 2378.79 1123.83 2375.24 1143.51 2371.7C1163.2 2368.16 1176.98 2365.01 1190.77 2355.16C1204.55 2345.32 1215.18 2329.57 1226.21 2312.64C1237.23 2295.7 1251.01 2269.32 1256.92 2253.57C1262.83 2237.82 1260.86 2224.04 1261.64 2218.13" fill="none" stroke="#d3c9d5" stroke-width="13"/>
<path d="M1011.21 2130.71C1002.54 2134.65 975.37 2143.71 959.23 2154.34C943.09 2164.97 926.15 2177.97 914.34 2194.5C902.53 2211.04 891.5 2233.88 888.35 2253.57C885.2 2273.26 886.38 2298.07 895.44 2312.64C904.5 2327.2 924.18 2333.51 942.69 2340.99C961.2 2348.47 984.82 2351.62 1006.48 2357.52C1028.14 2363.43 1049.8 2374.06 1072.64 2376.43C1095.47 2378.79 1123.83 2375.24 1143.51 2371.7C1163.2 2368.16 1176.98 2365.01 1190.77 2355.16C1204.55 2345.32 1215.18 2329.57 1226.21 2312.64C1237.23 2295.7 1251.01 2269.32 1256.92 2253.57C1262.83 2237.82 1260.86 2224.04 1261.64 2218.13" fill="none" stroke="#c8cadf" stroke-width="7"/>
<path d="M1115.16 2123.63C1121.86 2128.35 1141.94 2146.07 1155.33 2151.98C1168.71 2157.88 1183.28 2152.77 1195.49 2159.07C1207.7 2165.37 1223.06 2184.66 1228.57 2189.78" fill="none" stroke="#c8cadf" stroke-width="24"/>
<path d="M1219.12 2121.26C1220.3 2124.81 1225.02 2138.98 1226.21 2142.53" fill="none" stroke="#c8cadf" stroke-width="14"/>
<path d="M959.23 2180.33C965.53 2174.82 985.22 2170.88 992.31 2177.97C999.39 2185.05 1005.3 2212.62 1001.76 2222.86C998.21 2233.09 978.92 2241.36 971.04 2239.39C963.17 2237.43 956.47 2220.89 954.5 2211.04C952.54 2201.2 952.93 2185.84 959.23 2180.33Z" fill="#c8cadf" stroke="#c8cadf" stroke-width="6"/>
<path d="M1015.93 2163.79C1019.48 2157.1 1040.74 2153.95 1046.65 2159.07C1052.55 2164.18 1054.92 2187.81 1051.37 2194.5C1047.83 2201.2 1031.29 2204.35 1025.38 2199.23C1019.48 2194.11 1012.39 2170.48 1015.93 2163.79Z" fill="#c8cadf" stroke="#c8cadf" stroke-width="6"/>
<path d="M1056.1 2173.24C1058.07 2170.48 1065.55 2172.06 1067.91 2175.6C1070.27 2179.15 1072.24 2191.75 1070.27 2194.5C1068.3 2197.26 1058.46 2195.69 1056.1 2192.14C1053.73 2188.6 1054.13 2176 1056.1 2173.24Z" fill="#c8cadf" stroke="#c8cadf" stroke-width="4"/>
<path d="M1006.48 2199.23C1008.06 2196.47 1019.87 2200.41 1020.66 2203.96C1021.45 2207.5 1013.57 2221.28 1011.21 2220.49C1008.84 2219.71 1004.91 2201.99 1006.48 2199.23Z" fill="#c8cadf" stroke="#c8cadf" stroke-width="4"/>
<path d="M1086.81 2156.7C1092.32 2160.25 1107.29 2170.09 1119.89 2177.97C1132.49 2185.84 1154.54 2196.47 1162.41 2203.96C1170.29 2211.44 1172.26 2214.59 1167.14 2222.86C1162.02 2231.13 1141.54 2245.69 1131.7 2253.57C1121.86 2261.45 1112.01 2267.35 1108.07 2270.11" fill="none" stroke="#c8cadf" stroke-width="20"/>
<path d="M1001.76 2260.66C1007.27 2258.3 1025.78 2247.27 1034.83 2246.48C1043.89 2245.69 1054.13 2251.21 1056.1 2255.93C1058.07 2260.66 1048.22 2271.68 1046.65 2274.83" fill="none" stroke="#c8cadf" stroke-width="13"/>
<path d="M1063.18 2272.47C1066.73 2271.29 1078.15 2264.2 1084.45 2265.38C1090.75 2266.56 1098.23 2277.2 1100.99 2279.56" fill="none" stroke="#d3c9d5" stroke-width="9"/>
<path d="M940.33 2232.31C942.3 2240.18 946.63 2266.17 952.14 2279.56C957.65 2292.95 963.17 2306.33 973.41 2312.64C983.64 2318.94 1000.18 2319.33 1013.57 2317.36C1026.96 2315.39 1043.89 2301.61 1053.73 2300.82C1063.58 2300.03 1063.58 2307.52 1072.64 2312.64C1081.69 2317.75 1094.29 2330.35 1108.07 2331.54C1121.86 2332.72 1143.51 2324.84 1155.33 2319.72C1167.14 2314.6 1176.2 2312.24 1178.95 2300.82C1181.71 2289.4 1169.11 2264.99 1171.87 2251.21C1174.62 2237.43 1187.62 2225.22 1195.49 2218.13C1203.37 2211.04 1215.18 2210.26 1219.12 2208.68" fill="none" stroke="#c8cadf" stroke-width="30"/>
<path d="M914.34 2232.31C914.73 2238.61 913.95 2258.3 916.7 2270.11C919.46 2281.92 928.52 2297.67 930.88 2303.18" fill="none" stroke="#c8cadf" stroke-width="16"/>
<path d="M1259.28 2218.13C1256.53 2226.79 1249.44 2253.57 1242.74 2270.11C1236.05 2286.65 1223.06 2309.49 1219.12 2317.36" fill="none" stroke="#c8cadf" stroke-width="18"/>
<circle cx="1240.5" cy="2197" r="7" fill="#9c9cc0"/><ellipse cx="1007" cy="2121" rx="9" ry="5" fill="#a9a9cf"/>
</g></g>
<rect x="868" y="2115" width="404.7" height="276" fill="none" stroke="#000" stroke-width="3.1"/>
<rect x="1228.1" y="2368.2" width="28.8" height="9" fill="#000"/>
<text x="1310" y="1802.7" font-size="46" font-weight="bold">l</text>
<text x="1358.5" y="1827.3" font-size="28.2" font-weight="bold" font-style="italic">Lgr5-Cre<tspan font-size="18.89" dy="-9.02">ER-T2</tspan><tspan dx="1" dy="9.02">Apc</tspan><tspan font-size="18.89" dy="-9.02">fl/fl</tspan></text>
<rect x="1417.4" y="2026.6" width="8" height="82.4" fill="#d0d0d0"/>
<rect x="1410.25" y="2056" width="6.5" height="29" fill="#d0d0d0"/>
<rect x="1425.25" y="2056" width="6.5" height="29" fill="#d0d0d0"/>
<rect x="1448.8" y="2071.7" width="6" height="82.3" fill="#d0d0d0"/>
<rect x="1443.05" y="2095" width="5.5" height="30" fill="#d0d0d0"/>
<rect x="1455.85" y="2095" width="5.5" height="30" fill="#d0d0d0"/>
<rect x="1559.1" y="2170" width="6" height="45" fill="#d0d0d0"/>
<rect x="1589.5" y="1966" width="6" height="58" fill="#d0d0d0"/>
<line x1="1401.7" y1="1960.5" x2="1401.7" y2="2220.2" stroke="#000" stroke-width="5"/>
<line x1="1389.5" y1="2217.5" x2="1615.7" y2="2217.5" stroke="#000" stroke-width="5.6"/>
<line x1="1389.5" y1="2217.5" x2="1401.7" y2="2217.5" stroke="#000" stroke-width="5.4"/>
<text x="1385" y="2225.9" font-size="23.5" font-weight="bold" text-anchor="end">0</text>
<line x1="1389.5" y1="2090" x2="1401.7" y2="2090" stroke="#000" stroke-width="5.4"/>
<text x="1385" y="2098.4" font-size="23.5" font-weight="bold" text-anchor="end">50</text>
<line x1="1389.5" y1="1963.1" x2="1401.7" y2="1963.1" stroke="#000" stroke-width="5.4"/>
<text x="1385" y="1971.5" font-size="23.5" font-weight="bold" text-anchor="end">100</text>
<line x1="1421.4" y1="2217.5" x2="1421.4" y2="2230" stroke="#000" stroke-width="5"/>
<text x="1428.9" y="2252" font-size="24" font-weight="bold" text-anchor="end" transform="rotate(-45 1428.9 2252)">NPM1+</text>
<line x1="1451.7" y1="2217.5" x2="1451.7" y2="2230" stroke="#000" stroke-width="5"/>
<text x="1459.2" y="2252" font-size="24" font-weight="bold" text-anchor="end" transform="rotate(-45 1459.2 2252)">mosaic</text>
<line x1="1481.7" y1="2217.5" x2="1481.7" y2="2230" stroke="#000" stroke-width="5"/>
<text x="1489.2" y="2252" font-size="24" font-weight="bold" text-anchor="end" transform="rotate(-45 1489.2 2252)">NPM1-</text>
<line x1="1531.7" y1="2217.5" x2="1531.7" y2="2230" stroke="#000" stroke-width="5"/>
<text x="1539.2" y="2252" font-size="24" font-weight="bold" text-anchor="end" transform="rotate(-45 1539.2 2252)">NPM1+</text>
<line x1="1562.1" y1="2217.5" x2="1562.1" y2="2230" stroke="#000" stroke-width="5"/>
<text x="1569.6" y="2252" font-size="24" font-weight="bold" text-anchor="end" transform="rotate(-45 1569.6 2252)">mosaic</text>
<line x1="1592.5" y1="2217.5" x2="1592.5" y2="2230" stroke="#000" stroke-width="5"/>
<text x="1600" y="2252" font-size="24" font-weight="bold" text-anchor="end" transform="rotate(-45 1600 2252)">NPM1-</text>
<text x="1344.3" y="2095" font-size="22.3" font-weight="bold" text-anchor="middle" transform="rotate(-90 1344.3 2095)">% tumours</text>
<circle cx="1421.4" cy="2025.2" r="6.3" fill="none" stroke="#f0271d" stroke-width="4.3"/>
<circle cx="1431.6" cy="2047.8" r="6.3" fill="none" stroke="#f0271d" stroke-width="4.3"/>
<circle cx="1412" cy="2054.6" r="6.3" fill="none" stroke="#f0271d" stroke-width="4.3"/>
<circle cx="1418.9" cy="2057" r="6.3" fill="none" stroke="#f0271d" stroke-width="4.3"/>
<circle cx="1425.8" cy="2054.6" r="6.3" fill="none" stroke="#f0271d" stroke-width="4.3"/>
<circle cx="1421.4" cy="2083.1" r="6.3" fill="none" stroke="#f0271d" stroke-width="4.3"/>
<circle cx="1421.4" cy="2110.5" r="6.3" fill="none" stroke="#f0271d" stroke-width="4.3"/>
<circle cx="1451.8" cy="2070.3" r="6.3" fill="none" stroke="#f0271d" stroke-width="4.3"/>
<circle cx="1451.8" cy="2097.6" r="6.3" fill="none" stroke="#f0271d" stroke-width="4.3"/>
<circle cx="1441.1" cy="2124.3" r="6.3" fill="none" stroke="#f0271d" stroke-width="4.3"/>
<circle cx="1448.3" cy="2125.7" r="6.3" fill="none" stroke="#f0271d" stroke-width="4.3"/>
<circle cx="1462.6" cy="2126.2" r="6.3" fill="none" stroke="#f0271d" stroke-width="4.3"/>
<circle cx="1454.2" cy="2132.5" r="6.3" fill="none" stroke="#f0271d" stroke-width="4.3"/>
<circle cx="1451.8" cy="2155.1" r="6.3" fill="none" stroke="#f0271d" stroke-width="4.3"/>
<circle cx="1478" cy="2217.5" r="6.3" fill="none" stroke="#f0271d" stroke-width="4.3"/>
<circle cx="1481.7" cy="2217.5" r="6.3" fill="none" stroke="#f0271d" stroke-width="4.3"/>
<circle cx="1485.5" cy="2217.5" r="6.3" fill="none" stroke="#f0271d" stroke-width="4.3"/>
<circle cx="1520.9" cy="2215.3" r="6.3" fill="none" stroke="#bf2df5" stroke-width="4.3"/>
<circle cx="1527.8" cy="2209" r="6.3" fill="none" stroke="#bf2df5" stroke-width="4.3"/>
<circle cx="1534.6" cy="2203.1" r="6.3" fill="none" stroke="#bf2df5" stroke-width="4.3"/>
<circle cx="1541.5" cy="2210" r="6.3" fill="none" stroke="#bf2df5" stroke-width="4.3"/>
<circle cx="1531.7" cy="2215.9" r="6.3" fill="none" stroke="#bf2df5" stroke-width="4.3"/>
<circle cx="1537.6" cy="2213" r="6.3" fill="none" stroke="#bf2df5" stroke-width="4.3"/>
<circle cx="1545.5" cy="2212" r="6.3" fill="none" stroke="#bf2df5" stroke-width="4.3"/>
<circle cx="1524" cy="2214" r="6.3" fill="none" stroke="#bf2df5" stroke-width="4.3"/>
<circle cx="1533" cy="2207" r="6.3" fill="none" stroke="#bf2df5" stroke-width="4.3"/>
<circle cx="1562.7" cy="2169.4" r="6.3" fill="none" stroke="#bf2df5" stroke-width="4.3"/>
<circle cx="1562.1" cy="2185.5" r="6.3" fill="none" stroke="#bf2df5" stroke-width="4.3"/>
<circle cx="1563.1" cy="2189.4" r="6.3" fill="none" stroke="#bf2df5" stroke-width="4.3"/>
<circle cx="1565" cy="2183.5" r="6.3" fill="none" stroke="#bf2df5" stroke-width="4.3"/>
<circle cx="1560.5" cy="2192" r="6.3" fill="none" stroke="#bf2df5" stroke-width="4.3"/>
<circle cx="1571.9" cy="2198.8" r="6.3" fill="none" stroke="#bf2df5" stroke-width="4.3"/>
<circle cx="1558.2" cy="2214.5" r="6.3" fill="none" stroke="#bf2df5" stroke-width="4.3"/>
<circle cx="1592.5" cy="1966.3" r="6.3" fill="none" stroke="#bf2df5" stroke-width="4.3"/>
<circle cx="1592.5" cy="1991.3" r="6.3" fill="none" stroke="#bf2df5" stroke-width="4.3"/>
<circle cx="1593.5" cy="1999.1" r="6.3" fill="none" stroke="#bf2df5" stroke-width="4.3"/>
<circle cx="1590.5" cy="2003" r="6.3" fill="none" stroke="#bf2df5" stroke-width="4.3"/>
<circle cx="1589.5" cy="1994" r="6.3" fill="none" stroke="#bf2df5" stroke-width="4.3"/>
<circle cx="1602.7" cy="2006.6" r="6.3" fill="none" stroke="#bf2df5" stroke-width="4.3"/>
<circle cx="1588.2" cy="2024.6" r="6.3" fill="none" stroke="#bf2df5" stroke-width="4.3"/>
<path d="M1417.6 1994.8V1972.8H1532.9V2172.1" fill="none" stroke="#000" stroke-width="6.3"/>
<path d="M1452 1936.9V1928H1563.6V2134.5" fill="none" stroke="#000" stroke-width="6.3"/>
<path d="M1475.6 1895.1V1882.6H1592.7V1943.2" fill="none" stroke="#000" stroke-width="6.3"/>
<text x="1499.9" y="1872" font-size="17.5" fill="#e42a20" letter-spacing="0.7">p&lt;1e-15</text>
<text x="1466" y="1919.1" font-size="17.5" fill="#e42a20" letter-spacing="0.75">p=5.7e-09</text>
<text x="1440.5" y="1963.8" font-size="17.5" fill="#e42a20" letter-spacing="0.7">p&lt;1e-15</text>
<text x="1389" y="2364.8" font-size="24.2" font-weight="bold" font-style="italic" fill="#f0271d">Npm1<tspan font-size="16.21" dy="-7.74">fl/fl</tspan></text>
<text x="1498.5" y="2348.3" font-size="24" font-weight="bold" font-style="italic" fill="#bf2df5">Trp53<tspan font-size="16.08" dy="-7.68">fl/fl</tspan><tspan dx="0" dy="7.68">/</tspan></text>
<text x="1497" y="2379.7" font-size="24.2" font-weight="bold" font-style="italic" fill="#bf2df5">Npm1<tspan font-size="16.21" dy="-7.74">fl/fl</tspan></text>
</svg>
</body></html>
